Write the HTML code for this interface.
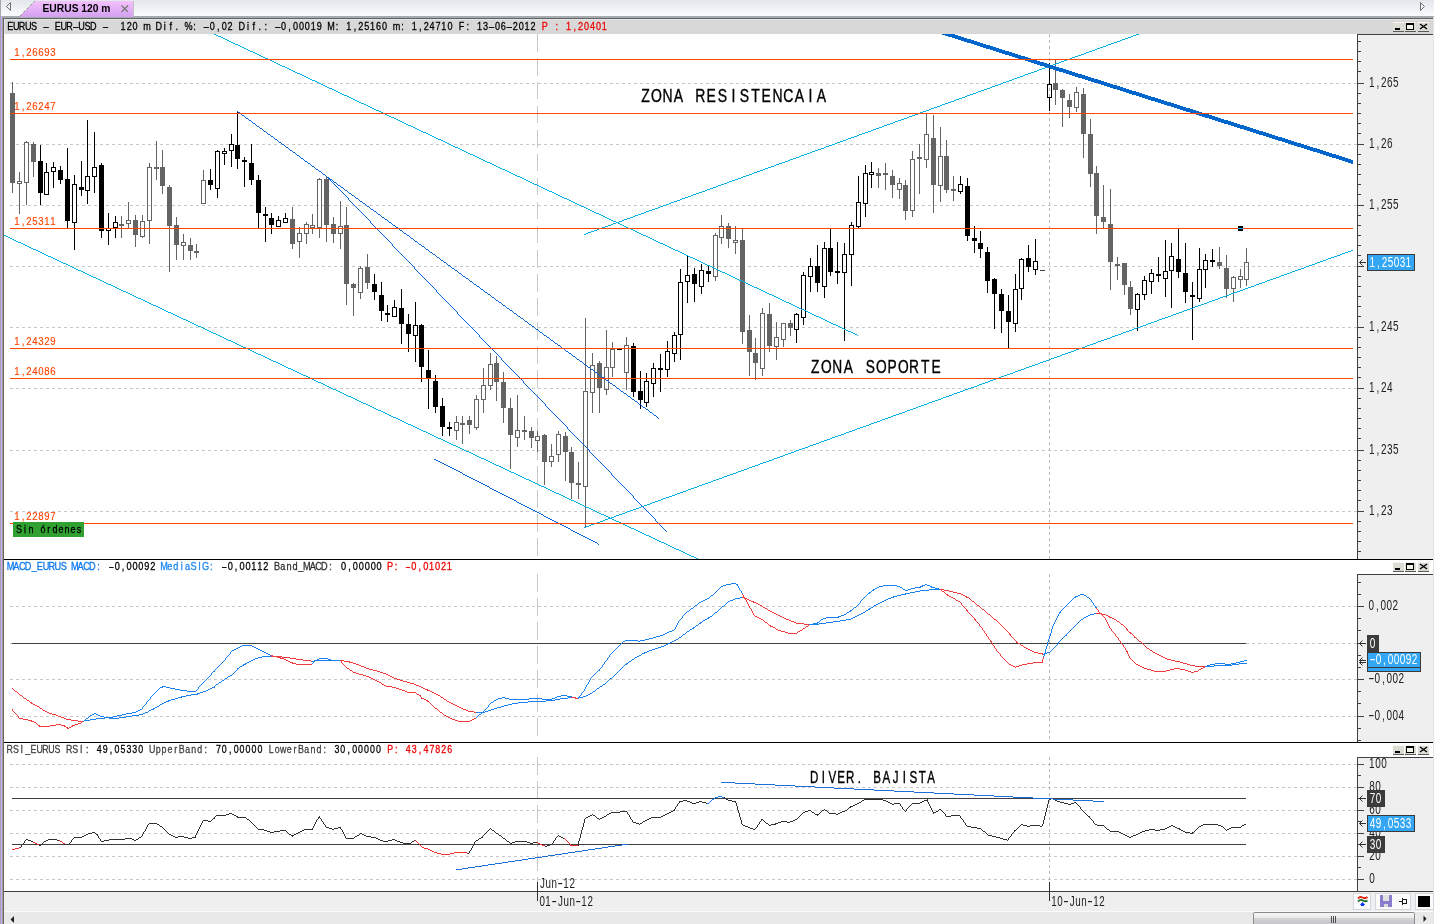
<!DOCTYPE html>
<html><head><meta charset="utf-8"><title>EURUS 120 m</title>
<style>html,body{margin:0;padding:0;background:#efefef;overflow:hidden;width:1434px;height:924px}svg{display:block}</style>
</head><body>
<svg width="1434" height="924" viewBox="0 0 1434 924" shape-rendering="crispEdges">
<defs>
<linearGradient id="tabbar" x1="0" y1="0" x2="0" y2="1"><stop offset="0" stop-color="#e3e7eb"/><stop offset="1" stop-color="#fbfbfc"/></linearGradient>
<linearGradient id="tab" x1="0" y1="0" x2="0" y2="1"><stop offset="0" stop-color="#f3c2fb"/><stop offset="1" stop-color="#d6a2f2"/></linearGradient>
<linearGradient id="thumb" x1="0" y1="0" x2="0" y2="1"><stop offset="0" stop-color="#f8f8f8"/><stop offset="0.5" stop-color="#e8e8e8"/><stop offset="0.52" stop-color="#d4d4d7"/><stop offset="1" stop-color="#c6c6ca"/></linearGradient>
<linearGradient id="btn" x1="0" y1="0" x2="0" y2="1"><stop offset="0" stop-color="#f0f0ea"/><stop offset="1" stop-color="#deded6"/></linearGradient>
<clipPath id="cmain"><rect x="4" y="34" width="1353" height="525"/></clipPath>
<clipPath id="cmacd"><rect x="4" y="574" width="1353" height="168"/></clipPath>
<clipPath id="crsi"><rect x="4" y="757" width="1353" height="134"/></clipPath>
</defs>
<rect x="0" y="0" width="1434" height="924" fill="#efefef"/>
<rect x="0" y="0" width="1434" height="16" fill="url(#tabbar)"/>
<rect x="0" y="16" width="1434" height="2" fill="#a6abaf"/>
<rect x="0" y="0" width="1" height="924" fill="#a2a9ad"/>
<rect x="1" y="16" width="1" height="908" fill="#d0a4fa"/>
<rect x="2" y="17" width="1" height="907" fill="#a0a4a0"/>
<rect x="3" y="18" width="1" height="906" fill="#646464"/>
<rect x="3" y="18" width="1430" height="1" fill="#646464"/>
<rect x="1433" y="17" width="1" height="907" fill="#e2e2e2"/>
<rect x="4" y="19" width="1429" height="15" fill="#d8d8d8"/>
<rect x="4" y="19" width="1429" height="1" fill="#e4e4e4"/>
<rect x="4" y="19" width="1" height="15" fill="#e4e4e4"/>
<rect x="4" y="34" width="1353" height="525" fill="#ffffff"/>
<rect x="1358" y="35" width="75" height="524" fill="#efefef"/>
<rect x="1357" y="34" width="76" height="1" fill="#404040"/>
<rect x="1357" y="34" width="1" height="525" fill="#404040"/>
<rect x="4" y="559" width="1429" height="1" fill="#000000"/>
<rect x="4" y="560" width="1429" height="14" fill="#ffffff"/>
<rect x="4" y="574" width="1353" height="168" fill="#ffffff"/>
<rect x="1358" y="575" width="75" height="167" fill="#efefef"/>
<rect x="1357" y="574" width="76" height="1" fill="#404040"/>
<rect x="1357" y="574" width="1" height="168" fill="#404040"/>
<rect x="4" y="742" width="1429" height="1" fill="#000000"/>
<rect x="4" y="743" width="1429" height="14" fill="#ffffff"/>
<rect x="4" y="757" width="1353" height="134" fill="#ffffff"/>
<rect x="1358" y="758" width="75" height="133" fill="#efefef"/>
<rect x="1357" y="757" width="76" height="1" fill="#404040"/>
<rect x="1357" y="757" width="1" height="134" fill="#404040"/>
<rect x="4" y="891" width="1429" height="1" fill="#404040"/>
<rect x="4" y="892" width="1429" height="19" fill="#efefef"/>
<rect x="4" y="911" width="1429" height="1" fill="#fafafa"/>
<rect x="4" y="912" width="1429" height="12" fill="#e9e9e9"/>
<path d="M20.5 16 L35.5 1 L133.5 1 L133.5 16 Z" fill="url(#tab)" stroke="none"/>
<rect x="20" y="16" width="114" height="1" fill="#d4a0f0"/>
<path d="M20 16 L35.5 0.5" stroke="#6a6a6a" stroke-width="1" fill="none" shape-rendering="auto" stroke-dasharray="1 1"/>
<rect x="133" y="1" width="1" height="15" fill="#c4c4c4"/>
<text x="42.5" y="11.8" font-family="'Liberation Sans','DejaVu Sans',sans-serif" font-size="10.6" fill="#000" font-weight="bold" textLength="68" lengthAdjust="spacingAndGlyphs" xml:space="preserve">EURUS 120 m</text>
<path d="M121.5 5.5 L128 12 M128 5.5 L121.5 12" stroke="#7a7a7a" stroke-width="1.3" fill="none" shape-rendering="auto"/>
<path d="M10.5 2.5 L6.5 6.5 L10.5 10.5 Z" fill="none" stroke="#707070" stroke-width="1" shape-rendering="auto"/>
<path d="M1420.5 2.5 L1424.5 6.5 L1420.5 10.5 Z" fill="none" stroke="#707070" stroke-width="1" shape-rendering="auto"/>
<rect x="1393" y="22" width="11" height="9" fill="#dcdcd5"/>
<rect x="1393" y="22" width="11" height="1" fill="#f6f6f2"/>
<rect x="1393" y="31" width="11" height="1" fill="#5a5a5a"/>
<rect x="1405" y="22" width="11" height="9" fill="#dcdcd5"/>
<rect x="1405" y="22" width="11" height="1" fill="#f6f6f2"/>
<rect x="1405" y="31" width="11" height="1" fill="#5a5a5a"/>
<rect x="1418" y="22" width="11" height="9" fill="#dcdcd5"/>
<rect x="1418" y="22" width="11" height="1" fill="#f6f6f2"/>
<rect x="1418" y="31" width="11" height="1" fill="#5a5a5a"/>
<rect x="1395" y="28" width="5" height="2" fill="#000"/>
<rect x="1406" y="23" width="8" height="7" fill="#f2f2ea"/>
<rect x="1406.5" y="23.5" width="7" height="6" fill="none" stroke="#000" stroke-width="1"/>
<rect x="1406" y="23" width="8" height="2" fill="#000"/>
<path d="M1420 24 L1427 29 M1427 24 L1420 29" stroke="#000" stroke-width="1.4" fill="none" shape-rendering="auto"/>
<rect x="1393" y="562" width="11" height="9" fill="#dcdcd5"/>
<rect x="1393" y="562" width="11" height="1" fill="#f6f6f2"/>
<rect x="1393" y="571" width="11" height="1" fill="#5a5a5a"/>
<rect x="1405" y="562" width="11" height="9" fill="#dcdcd5"/>
<rect x="1405" y="562" width="11" height="1" fill="#f6f6f2"/>
<rect x="1405" y="571" width="11" height="1" fill="#5a5a5a"/>
<rect x="1418" y="562" width="11" height="9" fill="#dcdcd5"/>
<rect x="1418" y="562" width="11" height="1" fill="#f6f6f2"/>
<rect x="1418" y="571" width="11" height="1" fill="#5a5a5a"/>
<rect x="1395" y="568" width="5" height="2" fill="#000"/>
<rect x="1406" y="563" width="8" height="7" fill="#f2f2ea"/>
<rect x="1406.5" y="563.5" width="7" height="6" fill="none" stroke="#000" stroke-width="1"/>
<rect x="1406" y="563" width="8" height="2" fill="#000"/>
<path d="M1420 564 L1427 569 M1427 564 L1420 569" stroke="#000" stroke-width="1.4" fill="none" shape-rendering="auto"/>
<rect x="1393" y="745" width="11" height="9" fill="#dcdcd5"/>
<rect x="1393" y="745" width="11" height="1" fill="#f6f6f2"/>
<rect x="1393" y="754" width="11" height="1" fill="#5a5a5a"/>
<rect x="1405" y="745" width="11" height="9" fill="#dcdcd5"/>
<rect x="1405" y="745" width="11" height="1" fill="#f6f6f2"/>
<rect x="1405" y="754" width="11" height="1" fill="#5a5a5a"/>
<rect x="1418" y="745" width="11" height="9" fill="#dcdcd5"/>
<rect x="1418" y="745" width="11" height="1" fill="#f6f6f2"/>
<rect x="1418" y="754" width="11" height="1" fill="#5a5a5a"/>
<rect x="1395" y="751" width="5" height="2" fill="#000"/>
<rect x="1406" y="746" width="8" height="7" fill="#f2f2ea"/>
<rect x="1406.5" y="746.5" width="7" height="6" fill="none" stroke="#000" stroke-width="1"/>
<rect x="1406" y="746" width="8" height="2" fill="#000"/>
<path d="M1420 747 L1427 752 M1427 747 L1420 752" stroke="#000" stroke-width="1.4" fill="none" shape-rendering="auto"/>
<text transform="scale(0.8,1)" x="8.96 16.29 23.52 31.14 38.88 48.51 53.43 63.36 68.36 75.69 82.92 90.56 97.97 105.71 112.63 122.76 127.68 137.61 145.04 150.73 158.31 165.73 174.74 179.01 189.59 194.30 204.76 211.77 219.29 226.71 230.67 241.56 248.99 253.91 262.26 271.26 277.11 284.53 293.54 298.25 308.71 315.72 323.24 330.66 338.09 343.01 351.36 360.36 366.21 373.63 381.06 388.33 395.91 404.91 409.19 419.76 427.19 432.88 442.04 447.88 455.32 462.58 470.12 477.58 486.59 490.86 501.44 508.86 514.55 523.71 529.56 537.02 544.40 551.68 559.26 568.26 573.56 583.11 590.54 596.23 603.84 610.31 618.66 626.05 632.58 640.93 648.36 655.63 663.21 672.21" y="30" font-family="'Liberation Sans','DejaVu Sans',sans-serif" font-size="11.34" fill="#000" font-weight="normal" xml:space="preserve" stroke="#000" stroke-width="0.3">EURUS <tspan textLength="8.19" lengthAdjust="spacingAndGlyphs">-</tspan> EUR<tspan textLength="8.19" lengthAdjust="spacingAndGlyphs">-</tspan>USD <tspan textLength="8.19" lengthAdjust="spacingAndGlyphs">-</tspan>  120 m Dif. %: <tspan textLength="8.19" lengthAdjust="spacingAndGlyphs">-</tspan>0,02 Dif.: <tspan textLength="8.19" lengthAdjust="spacingAndGlyphs">-</tspan>0,00019 M: 1,25160 m: 1,24710 F: 13<tspan textLength="8.19" lengthAdjust="spacingAndGlyphs">-</tspan>06<tspan textLength="8.19" lengthAdjust="spacingAndGlyphs">-</tspan>2012 </text>
<text transform="scale(0.8,1)" x="677.27 687.06 694.49 701.91 707.60 716.76 722.61 730.03 737.50 744.88 752.15" y="30" font-family="'Liberation Sans','DejaVu Sans',sans-serif" font-size="11.34" fill="#f00000" font-weight="normal" xml:space="preserve" stroke="#f00000" stroke-width="0.3">P : 1,20401</text>
<text transform="scale(0.8,1)" x="8.30 16.66 23.69 30.98 39.56 46.09 53.41 60.62 68.24 75.97" y="570" font-family="'Liberation Sans','DejaVu Sans',sans-serif" font-size="11.48" fill="#0a78f0" font-weight="normal" xml:space="preserve" stroke="#0a78f0" stroke-width="0.3">MACD_EURUS</text>
<text transform="scale(0.8,1)" x="88.67 97.04 104.06 111.35 121.51" y="570" font-family="'Liberation Sans','DejaVu Sans',sans-serif" font-size="11.48" fill="#0a78f0" font-weight="normal" xml:space="preserve" stroke="#0a78f0" stroke-width="0.3">MACD:</text>
<text transform="scale(0.8,1)" x="135.68 143.30 152.31 158.13 165.54 172.95 180.37 187.78" y="570" font-family="'Liberation Sans','DejaVu Sans',sans-serif" font-size="11.48" fill="#000" font-weight="normal" xml:space="preserve" stroke="#000" stroke-width="0.3"><tspan textLength="6.82" lengthAdjust="spacingAndGlyphs">-</tspan>0,00092</text>
<text transform="scale(0.8,1)" x="200.17 209.19 216.72 225.92 231.17 238.19 247.84 252.52 262.66" y="570" font-family="'Liberation Sans','DejaVu Sans',sans-serif" font-size="11.48" fill="#1a86f5" font-weight="normal" xml:space="preserve" stroke="#1a86f5" stroke-width="0.3">MediaSIG:</text>
<text transform="scale(0.8,1)" x="276.93 284.55 293.56 299.38 306.79 314.04 321.46 329.03" y="570" font-family="'Liberation Sans','DejaVu Sans',sans-serif" font-size="11.48" fill="#000" font-weight="normal" xml:space="preserve" stroke="#000" stroke-width="0.3"><tspan textLength="6.82" lengthAdjust="spacingAndGlyphs">-</tspan>0,00112</text>
<text transform="scale(0.8,1)" x="342.46 350.43 358.08 365.63 372.94 378.74 387.10 394.12 401.41 411.57" y="570" font-family="'Liberation Sans','DejaVu Sans',sans-serif" font-size="11.48" fill="#303030" font-weight="normal" xml:space="preserve" stroke="#303030" stroke-width="0.3">Band_MACD:</text>
<text transform="scale(0.8,1)" x="426.26 435.27 441.09 448.50 455.91 463.33 470.74" y="570" font-family="'Liberation Sans','DejaVu Sans',sans-serif" font-size="11.48" fill="#000" font-weight="normal" xml:space="preserve" stroke="#000" stroke-width="0.3">0,00000</text>
<text transform="scale(0.8,1)" x="483.71 493.52 500.94 506.54 514.16 523.17 528.99 536.24 543.81 551.23 558.48" y="570" font-family="'Liberation Sans','DejaVu Sans',sans-serif" font-size="11.48" fill="#f00000" font-weight="normal" xml:space="preserve" stroke="#f00000" stroke-width="0.3">P: <tspan textLength="6.82" lengthAdjust="spacingAndGlyphs">-</tspan>0,01021</text>
<text transform="scale(0.8,1)" x="8.27 16.19 25.75 31.64 38.21 45.53 52.75 60.36 68.07" y="753" font-family="'Liberation Sans','DejaVu Sans',sans-serif" font-size="11.05" fill="#404040" font-weight="normal" xml:space="preserve" stroke="#404040" stroke-width="0.3">RSI_EURUS</text>
<text transform="scale(0.8,1)" x="82.52 90.44 100.00 107.41" y="753" font-family="'Liberation Sans','DejaVu Sans',sans-serif" font-size="11.05" fill="#404040" font-weight="normal" xml:space="preserve" stroke="#404040" stroke-width="0.3">RSI:</text>
<text transform="scale(0.8,1)" x="120.92 128.30 137.25 143.12 150.55 157.98 165.39 172.77" y="753" font-family="'Liberation Sans','DejaVu Sans',sans-serif" font-size="11.05" fill="#000" font-weight="normal" xml:space="preserve" stroke="#000" stroke-width="0.3">49,05330</text>
<text transform="scale(0.8,1)" x="186.34 194.55 201.96 209.51 217.87 223.55 231.50 239.14 246.68 255.51" y="753" font-family="'Liberation Sans','DejaVu Sans',sans-serif" font-size="11.05" fill="#404040" font-weight="normal" xml:space="preserve" stroke="#404040" stroke-width="0.3">UpperBand:</text>
<text transform="scale(0.8,1)" x="269.88 277.30 286.25 292.12 299.53 306.95 314.36 321.77" y="753" font-family="'Liberation Sans','DejaVu Sans',sans-serif" font-size="11.05" fill="#000" font-weight="normal" xml:space="preserve" stroke="#000" stroke-width="0.3">70,00000</text>
<text transform="scale(0.8,1)" x="335.86 343.55 350.04 358.38 366.74 372.42 380.37 388.01 395.56 404.38" y="753" font-family="'Liberation Sans','DejaVu Sans',sans-serif" font-size="11.05" fill="#404040" font-weight="normal" xml:space="preserve" stroke="#404040" stroke-width="0.3">LowerBand:</text>
<text transform="scale(0.8,1)" x="418.04 425.42 434.37 440.25 447.66 455.07 462.48 469.90" y="753" font-family="'Liberation Sans','DejaVu Sans',sans-serif" font-size="11.05" fill="#000" font-weight="normal" xml:space="preserve" stroke="#000" stroke-width="0.3">30,00000</text>
<text transform="scale(0.8,1)" x="484.11 493.83 501.25 507.16 514.57 523.48 529.39 536.77 544.18 551.60 558.97" y="753" font-family="'Liberation Sans','DejaVu Sans',sans-serif" font-size="11.05" fill="#f00000" font-weight="normal" xml:space="preserve" stroke="#f00000" stroke-width="0.3">P: 43,47826</text>
<line x1="10" y1="83.5" x2="1357" y2="83.5" stroke="#c8c8c8" stroke-width="1" stroke-dasharray="3 3"/>
<line x1="10" y1="144.5" x2="1357" y2="144.5" stroke="#c8c8c8" stroke-width="1" stroke-dasharray="3 3"/>
<line x1="10" y1="205.5" x2="1357" y2="205.5" stroke="#c8c8c8" stroke-width="1" stroke-dasharray="3 3"/>
<line x1="10" y1="266.5" x2="1357" y2="266.5" stroke="#c8c8c8" stroke-width="1" stroke-dasharray="3 3"/>
<line x1="10" y1="327.5" x2="1357" y2="327.5" stroke="#c8c8c8" stroke-width="1" stroke-dasharray="3 3"/>
<line x1="10" y1="388.5" x2="1357" y2="388.5" stroke="#c8c8c8" stroke-width="1" stroke-dasharray="3 3"/>
<line x1="10" y1="450.5" x2="1357" y2="450.5" stroke="#c8c8c8" stroke-width="1" stroke-dasharray="3 3"/>
<line x1="10" y1="511.5" x2="1357" y2="511.5" stroke="#c8c8c8" stroke-width="1" stroke-dasharray="3 3"/>
<line x1="10" y1="606.5" x2="1357" y2="606.5" stroke="#c8c8c8" stroke-width="1" stroke-dasharray="3 3"/>
<line x1="10" y1="643.5" x2="1357" y2="643.5" stroke="#c8c8c8" stroke-width="1" stroke-dasharray="3 3"/>
<line x1="10" y1="679.5" x2="1357" y2="679.5" stroke="#c8c8c8" stroke-width="1" stroke-dasharray="3 3"/>
<line x1="10" y1="716.5" x2="1357" y2="716.5" stroke="#c8c8c8" stroke-width="1" stroke-dasharray="3 3"/>
<line x1="10" y1="764.5" x2="1357" y2="764.5" stroke="#c8c8c8" stroke-width="1" stroke-dasharray="3 3"/>
<line x1="10" y1="787.5" x2="1357" y2="787.5" stroke="#c8c8c8" stroke-width="1" stroke-dasharray="3 3"/>
<line x1="10" y1="810.5" x2="1357" y2="810.5" stroke="#c8c8c8" stroke-width="1" stroke-dasharray="3 3"/>
<line x1="10" y1="833.5" x2="1357" y2="833.5" stroke="#c8c8c8" stroke-width="1" stroke-dasharray="3 3"/>
<line x1="10" y1="856.5" x2="1357" y2="856.5" stroke="#c8c8c8" stroke-width="1" stroke-dasharray="3 3"/>
<line x1="10" y1="879.5" x2="1357" y2="879.5" stroke="#c8c8c8" stroke-width="1" stroke-dasharray="3 3"/>
<line x1="537.5" y1="34" x2="537.5" y2="559" stroke="#c8c8c8" stroke-width="1" stroke-dasharray="17.5 6.5" stroke-dashoffset="0"/>
<line x1="1049.5" y1="34" x2="1049.5" y2="559" stroke="#b8b8b8" stroke-width="1" stroke-dasharray="3 3" stroke-dashoffset="0"/>
<line x1="537.5" y1="574" x2="537.5" y2="742" stroke="#c8c8c8" stroke-width="1" stroke-dasharray="17.5 6.5" stroke-dashoffset="0"/>
<line x1="1049.5" y1="574" x2="1049.5" y2="742" stroke="#b8b8b8" stroke-width="1" stroke-dasharray="3 3" stroke-dashoffset="0"/>
<line x1="537.5" y1="757" x2="537.5" y2="891" stroke="#c8c8c8" stroke-width="1" stroke-dasharray="17.5 6.5" stroke-dashoffset="0"/>
<line x1="1049.5" y1="757" x2="1049.5" y2="891" stroke="#b8b8b8" stroke-width="1" stroke-dasharray="3 3" stroke-dashoffset="0"/>
<g clip-path="url(#cmain)">
<rect x="12" y="82" width="1" height="111" fill="#646464"/>
<rect x="10" y="93" width="5" height="90" fill="#646464"/>
<rect x="19" y="172" width="1" height="9" fill="#646464"/>
<rect x="19" y="184" width="1" height="30" fill="#646464"/>
<rect x="17.5" y="181.5" width="4" height="2" fill="none" stroke="#646464" stroke-width="1"/>
<rect x="26" y="141" width="1" height="1" fill="#646464"/>
<rect x="26" y="183" width="1" height="22" fill="#646464"/>
<rect x="24.5" y="142.5" width="4" height="40" fill="none" stroke="#646464" stroke-width="1"/>
<rect x="33" y="142" width="1" height="35" fill="#646464"/>
<rect x="31" y="144" width="5" height="18" fill="#646464"/>
<rect x="40" y="145" width="1" height="60" fill="#000000"/>
<rect x="38" y="161" width="5" height="32" fill="#000000"/>
<rect x="46" y="163" width="1" height="9" fill="#000000"/>
<rect x="44.5" y="172.5" width="4" height="22" fill="none" stroke="#000000" stroke-width="1"/>
<rect x="53" y="162" width="1" height="5" fill="#000000"/>
<rect x="53" y="172" width="1" height="16" fill="#000000"/>
<rect x="51.5" y="167.5" width="4" height="4" fill="none" stroke="#000000" stroke-width="1"/>
<rect x="60" y="166" width="1" height="18" fill="#000000"/>
<rect x="58" y="170" width="5" height="10" fill="#000000"/>
<rect x="67" y="148" width="1" height="80" fill="#000000"/>
<rect x="65" y="179" width="5" height="42" fill="#000000"/>
<rect x="74" y="175" width="1" height="9" fill="#000000"/>
<rect x="74" y="223" width="1" height="27" fill="#000000"/>
<rect x="72.5" y="184.5" width="4" height="38" fill="none" stroke="#000000" stroke-width="1"/>
<rect x="81" y="161" width="1" height="35" fill="#000000"/>
<rect x="79" y="187" width="5" height="3" fill="#000000"/>
<rect x="87" y="120" width="1" height="56" fill="#000000"/>
<rect x="87" y="191" width="1" height="13" fill="#000000"/>
<rect x="85.5" y="176.5" width="4" height="14" fill="none" stroke="#000000" stroke-width="1"/>
<rect x="94" y="132" width="1" height="35" fill="#000000"/>
<rect x="94" y="177" width="1" height="16" fill="#000000"/>
<rect x="92.5" y="167.5" width="4" height="9" fill="none" stroke="#000000" stroke-width="1"/>
<rect x="101" y="163" width="1" height="75" fill="#000000"/>
<rect x="99" y="165" width="5" height="66" fill="#000000"/>
<rect x="108" y="213" width="1" height="15" fill="#000000"/>
<rect x="108" y="231" width="1" height="14" fill="#000000"/>
<rect x="106.5" y="228.5" width="4" height="2" fill="none" stroke="#000000" stroke-width="1"/>
<rect x="115" y="216" width="1" height="6" fill="#000000"/>
<rect x="115" y="228" width="1" height="10" fill="#000000"/>
<rect x="113.5" y="222.5" width="4" height="5" fill="none" stroke="#000000" stroke-width="1"/>
<rect x="121" y="216" width="1" height="22" fill="#646464"/>
<rect x="119" y="224" width="5" height="2" fill="#646464"/>
<rect x="128" y="202" width="1" height="18" fill="#646464"/>
<rect x="128" y="224" width="1" height="4" fill="#646464"/>
<rect x="126.5" y="220.5" width="4" height="3" fill="none" stroke="#646464" stroke-width="1"/>
<rect x="135" y="215" width="1" height="32" fill="#646464"/>
<rect x="133" y="220" width="5" height="15" fill="#646464"/>
<rect x="142" y="215" width="1" height="6" fill="#646464"/>
<rect x="142" y="237" width="1" height="1" fill="#646464"/>
<rect x="140.5" y="221.5" width="4" height="15" fill="none" stroke="#646464" stroke-width="1"/>
<rect x="149" y="163" width="1" height="4" fill="#646464"/>
<rect x="149" y="221" width="1" height="23" fill="#646464"/>
<rect x="147.5" y="167.5" width="4" height="53" fill="none" stroke="#646464" stroke-width="1"/>
<rect x="156" y="141" width="1" height="39" fill="#646464"/>
<rect x="154" y="167" width="5" height="2" fill="#646464"/>
<rect x="162" y="150" width="1" height="44" fill="#646464"/>
<rect x="160" y="167" width="5" height="19" fill="#646464"/>
<rect x="169" y="185" width="1" height="87" fill="#646464"/>
<rect x="167" y="187" width="5" height="39" fill="#646464"/>
<rect x="176" y="217" width="1" height="43" fill="#646464"/>
<rect x="174" y="225" width="5" height="20" fill="#646464"/>
<rect x="183" y="234" width="1" height="8" fill="#646464"/>
<rect x="183" y="246" width="1" height="14" fill="#646464"/>
<rect x="181.5" y="242.5" width="4" height="3" fill="none" stroke="#646464" stroke-width="1"/>
<rect x="190" y="238" width="1" height="22" fill="#646464"/>
<rect x="188" y="245" width="5" height="6" fill="#646464"/>
<rect x="196" y="244" width="1" height="14" fill="#646464"/>
<rect x="194" y="251" width="5" height="2" fill="#646464"/>
<rect x="203" y="170" width="1" height="10" fill="#646464"/>
<rect x="201.5" y="180.5" width="4" height="23" fill="none" stroke="#646464" stroke-width="1"/>
<rect x="210" y="169" width="1" height="21" fill="#000000"/>
<rect x="208" y="180" width="5" height="5" fill="#000000"/>
<rect x="217" y="150" width="1" height="1" fill="#000000"/>
<rect x="217" y="189" width="1" height="9" fill="#000000"/>
<rect x="215.5" y="151.5" width="4" height="37" fill="none" stroke="#000000" stroke-width="1"/>
<rect x="224" y="148" width="1" height="3" fill="#000000"/>
<rect x="224" y="154" width="1" height="11" fill="#000000"/>
<rect x="222.5" y="151.5" width="4" height="2" fill="none" stroke="#000000" stroke-width="1"/>
<rect x="231" y="134" width="1" height="10" fill="#000000"/>
<rect x="231" y="151" width="1" height="16" fill="#000000"/>
<rect x="229.5" y="144.5" width="4" height="6" fill="none" stroke="#000000" stroke-width="1"/>
<rect x="237" y="112" width="1" height="57" fill="#000000"/>
<rect x="235" y="145" width="5" height="14" fill="#000000"/>
<rect x="244" y="157" width="1" height="30" fill="#000000"/>
<rect x="242" y="160" width="5" height="2" fill="#000000"/>
<rect x="251" y="144" width="1" height="41" fill="#000000"/>
<rect x="249" y="163" width="5" height="17" fill="#000000"/>
<rect x="258" y="175" width="1" height="53" fill="#000000"/>
<rect x="256" y="180" width="5" height="33" fill="#000000"/>
<rect x="265" y="207" width="1" height="35" fill="#000000"/>
<rect x="263" y="214" width="5" height="2" fill="#000000"/>
<rect x="271" y="213" width="1" height="21" fill="#000000"/>
<rect x="269" y="218" width="5" height="7" fill="#000000"/>
<rect x="278" y="216" width="1" height="4" fill="#000000"/>
<rect x="276.5" y="220.5" width="4" height="6" fill="none" stroke="#000000" stroke-width="1"/>
<rect x="285" y="213" width="1" height="5" fill="#000000"/>
<rect x="283.5" y="218.5" width="4" height="4" fill="none" stroke="#000000" stroke-width="1"/>
<rect x="292" y="207" width="1" height="42" fill="#646464"/>
<rect x="290" y="219" width="5" height="25" fill="#646464"/>
<rect x="299" y="227" width="1" height="6" fill="#646464"/>
<rect x="299" y="242" width="1" height="16" fill="#646464"/>
<rect x="297.5" y="233.5" width="4" height="8" fill="none" stroke="#646464" stroke-width="1"/>
<rect x="306" y="222" width="1" height="2" fill="#646464"/>
<rect x="306" y="234" width="1" height="10" fill="#646464"/>
<rect x="304.5" y="224.5" width="4" height="9" fill="none" stroke="#646464" stroke-width="1"/>
<rect x="312" y="214" width="1" height="11" fill="#646464"/>
<rect x="312" y="228" width="1" height="6" fill="#646464"/>
<rect x="310.5" y="225.5" width="4" height="2" fill="none" stroke="#646464" stroke-width="1"/>
<rect x="319" y="178" width="1" height="1" fill="#646464"/>
<rect x="319" y="228" width="1" height="10" fill="#646464"/>
<rect x="317.5" y="179.5" width="4" height="48" fill="none" stroke="#646464" stroke-width="1"/>
<rect x="326" y="176" width="1" height="66" fill="#646464"/>
<rect x="324" y="179" width="5" height="46" fill="#646464"/>
<rect x="333" y="217" width="1" height="26" fill="#646464"/>
<rect x="331" y="224" width="5" height="10" fill="#646464"/>
<rect x="340" y="201" width="1" height="25" fill="#646464"/>
<rect x="340" y="234" width="1" height="15" fill="#646464"/>
<rect x="338.5" y="226.5" width="4" height="7" fill="none" stroke="#646464" stroke-width="1"/>
<rect x="346" y="207" width="1" height="98" fill="#646464"/>
<rect x="344" y="225" width="5" height="59" fill="#646464"/>
<rect x="353" y="283" width="1" height="33" fill="#646464"/>
<rect x="351" y="284" width="5" height="4" fill="#646464"/>
<rect x="360" y="266" width="1" height="2" fill="#646464"/>
<rect x="360" y="293" width="1" height="6" fill="#646464"/>
<rect x="358.5" y="268.5" width="4" height="24" fill="none" stroke="#646464" stroke-width="1"/>
<rect x="367" y="254" width="1" height="35" fill="#646464"/>
<rect x="365" y="267" width="5" height="16" fill="#646464"/>
<rect x="374" y="274" width="1" height="26" fill="#000000"/>
<rect x="372" y="284" width="5" height="8" fill="#000000"/>
<rect x="381" y="282" width="1" height="39" fill="#000000"/>
<rect x="379" y="295" width="5" height="16" fill="#000000"/>
<rect x="387" y="305" width="1" height="17" fill="#000000"/>
<rect x="385" y="313" width="5" height="2" fill="#000000"/>
<rect x="394" y="300" width="1" height="7" fill="#000000"/>
<rect x="392.5" y="307.5" width="4" height="9" fill="none" stroke="#000000" stroke-width="1"/>
<rect x="401" y="289" width="1" height="55" fill="#000000"/>
<rect x="399" y="308" width="5" height="16" fill="#000000"/>
<rect x="408" y="314" width="1" height="38" fill="#000000"/>
<rect x="406" y="324" width="5" height="10" fill="#000000"/>
<rect x="415" y="302" width="1" height="23" fill="#000000"/>
<rect x="415" y="336" width="1" height="26" fill="#000000"/>
<rect x="413.5" y="325.5" width="4" height="10" fill="none" stroke="#000000" stroke-width="1"/>
<rect x="421" y="324" width="1" height="58" fill="#000000"/>
<rect x="419" y="325" width="5" height="42" fill="#000000"/>
<rect x="428" y="350" width="1" height="59" fill="#000000"/>
<rect x="426" y="370" width="5" height="9" fill="#000000"/>
<rect x="435" y="375" width="1" height="38" fill="#000000"/>
<rect x="433" y="381" width="5" height="26" fill="#000000"/>
<rect x="442" y="398" width="1" height="38" fill="#000000"/>
<rect x="440" y="406" width="5" height="21" fill="#000000"/>
<rect x="449" y="422" width="1" height="14" fill="#000000"/>
<rect x="447" y="427" width="5" height="2" fill="#000000"/>
<rect x="456" y="416" width="1" height="6" fill="#646464"/>
<rect x="456" y="431" width="1" height="9" fill="#646464"/>
<rect x="454.5" y="422.5" width="4" height="8" fill="none" stroke="#646464" stroke-width="1"/>
<rect x="462" y="416" width="1" height="28" fill="#646464"/>
<rect x="460" y="423" width="5" height="2" fill="#646464"/>
<rect x="469" y="416" width="1" height="18" fill="#646464"/>
<rect x="467" y="420" width="5" height="5" fill="#646464"/>
<rect x="476" y="395" width="1" height="4" fill="#646464"/>
<rect x="476" y="428" width="1" height="2" fill="#646464"/>
<rect x="474.5" y="399.5" width="4" height="28" fill="none" stroke="#646464" stroke-width="1"/>
<rect x="483" y="368" width="1" height="17" fill="#646464"/>
<rect x="483" y="400" width="1" height="13" fill="#646464"/>
<rect x="481.5" y="385.5" width="4" height="14" fill="none" stroke="#646464" stroke-width="1"/>
<rect x="490" y="353" width="1" height="11" fill="#646464"/>
<rect x="490" y="386" width="1" height="4" fill="#646464"/>
<rect x="488.5" y="364.5" width="4" height="21" fill="none" stroke="#646464" stroke-width="1"/>
<rect x="496" y="356" width="1" height="45" fill="#646464"/>
<rect x="494" y="363" width="5" height="19" fill="#646464"/>
<rect x="503" y="372" width="1" height="51" fill="#646464"/>
<rect x="501" y="382" width="5" height="26" fill="#646464"/>
<rect x="510" y="398" width="1" height="71" fill="#646464"/>
<rect x="508" y="408" width="5" height="27" fill="#646464"/>
<rect x="517" y="395" width="1" height="35" fill="#646464"/>
<rect x="517" y="438" width="1" height="9" fill="#646464"/>
<rect x="515.5" y="430.5" width="4" height="7" fill="none" stroke="#646464" stroke-width="1"/>
<rect x="524" y="416" width="1" height="24" fill="#646464"/>
<rect x="522" y="430" width="5" height="2" fill="#646464"/>
<rect x="531" y="427" width="1" height="21" fill="#646464"/>
<rect x="529" y="431" width="5" height="7" fill="#646464"/>
<rect x="537" y="431" width="1" height="5" fill="#646464"/>
<rect x="537" y="441" width="1" height="11" fill="#646464"/>
<rect x="535.5" y="436.5" width="4" height="4" fill="none" stroke="#646464" stroke-width="1"/>
<rect x="544" y="434" width="1" height="51" fill="#646464"/>
<rect x="542" y="435" width="5" height="27" fill="#646464"/>
<rect x="551" y="444" width="1" height="12" fill="#646464"/>
<rect x="551" y="462" width="1" height="5" fill="#646464"/>
<rect x="549.5" y="456.5" width="4" height="5" fill="none" stroke="#646464" stroke-width="1"/>
<rect x="558" y="431" width="1" height="3" fill="#646464"/>
<rect x="558" y="455" width="1" height="7" fill="#646464"/>
<rect x="556.5" y="434.5" width="4" height="20" fill="none" stroke="#646464" stroke-width="1"/>
<rect x="565" y="432" width="1" height="49" fill="#646464"/>
<rect x="563" y="436" width="5" height="16" fill="#646464"/>
<rect x="571" y="447" width="1" height="52" fill="#646464"/>
<rect x="569" y="452" width="5" height="31" fill="#646464"/>
<rect x="578" y="462" width="1" height="37" fill="#646464"/>
<rect x="576" y="483" width="5" height="2" fill="#646464"/>
<rect x="585" y="318" width="1" height="73" fill="#646464"/>
<rect x="585" y="487" width="1" height="41" fill="#646464"/>
<rect x="583.5" y="391.5" width="4" height="95" fill="none" stroke="#646464" stroke-width="1"/>
<rect x="592" y="353" width="1" height="12" fill="#646464"/>
<rect x="592" y="393" width="1" height="20" fill="#646464"/>
<rect x="590.5" y="365.5" width="4" height="27" fill="none" stroke="#646464" stroke-width="1"/>
<rect x="599" y="361" width="1" height="52" fill="#646464"/>
<rect x="597" y="363" width="5" height="25" fill="#646464"/>
<rect x="606" y="330" width="1" height="37" fill="#646464"/>
<rect x="606" y="390" width="1" height="5" fill="#646464"/>
<rect x="604.5" y="367.5" width="4" height="22" fill="none" stroke="#646464" stroke-width="1"/>
<rect x="612" y="342" width="1" height="7" fill="#646464"/>
<rect x="612" y="368" width="1" height="9" fill="#646464"/>
<rect x="610.5" y="349.5" width="4" height="18" fill="none" stroke="#646464" stroke-width="1"/>
<rect x="619" y="348" width="1" height="2" fill="#000000"/>
<rect x="617" y="348" width="5" height="2" fill="#000000"/>
<rect x="626" y="337" width="1" height="8" fill="#646464"/>
<rect x="626" y="373" width="1" height="17" fill="#646464"/>
<rect x="624.5" y="345.5" width="4" height="27" fill="none" stroke="#646464" stroke-width="1"/>
<rect x="633" y="343" width="1" height="54" fill="#000000"/>
<rect x="631" y="346" width="5" height="46" fill="#000000"/>
<rect x="640" y="371" width="1" height="38" fill="#000000"/>
<rect x="638" y="391" width="5" height="9" fill="#000000"/>
<rect x="646" y="373" width="1" height="8" fill="#000000"/>
<rect x="646" y="403" width="1" height="4" fill="#000000"/>
<rect x="644.5" y="381.5" width="4" height="21" fill="none" stroke="#000000" stroke-width="1"/>
<rect x="653" y="363" width="1" height="5" fill="#000000"/>
<rect x="653" y="384" width="1" height="13" fill="#000000"/>
<rect x="651.5" y="368.5" width="4" height="15" fill="none" stroke="#000000" stroke-width="1"/>
<rect x="660" y="354" width="1" height="38" fill="#000000"/>
<rect x="658" y="368" width="5" height="2" fill="#000000"/>
<rect x="667" y="341" width="1" height="10" fill="#000000"/>
<rect x="667" y="370" width="1" height="7" fill="#000000"/>
<rect x="665.5" y="351.5" width="4" height="18" fill="none" stroke="#000000" stroke-width="1"/>
<rect x="674" y="332" width="1" height="3" fill="#000000"/>
<rect x="674" y="354" width="1" height="8" fill="#000000"/>
<rect x="672.5" y="335.5" width="4" height="18" fill="none" stroke="#000000" stroke-width="1"/>
<rect x="680" y="269" width="1" height="13" fill="#000000"/>
<rect x="680" y="335" width="1" height="25" fill="#000000"/>
<rect x="678.5" y="282.5" width="4" height="52" fill="none" stroke="#000000" stroke-width="1"/>
<rect x="687" y="256" width="1" height="19" fill="#000000"/>
<rect x="687" y="282" width="1" height="21" fill="#000000"/>
<rect x="685.5" y="275.5" width="4" height="6" fill="none" stroke="#000000" stroke-width="1"/>
<rect x="694" y="268" width="1" height="34" fill="#000000"/>
<rect x="692" y="274" width="5" height="10" fill="#000000"/>
<rect x="701" y="264" width="1" height="6" fill="#000000"/>
<rect x="701" y="287" width="1" height="7" fill="#000000"/>
<rect x="699.5" y="270.5" width="4" height="16" fill="none" stroke="#000000" stroke-width="1"/>
<rect x="708" y="266" width="1" height="16" fill="#000000"/>
<rect x="706" y="271" width="5" height="3" fill="#000000"/>
<rect x="715" y="233" width="1" height="2" fill="#646464"/>
<rect x="715" y="277" width="1" height="4" fill="#646464"/>
<rect x="713.5" y="235.5" width="4" height="41" fill="none" stroke="#646464" stroke-width="1"/>
<rect x="721" y="215" width="1" height="11" fill="#646464"/>
<rect x="721" y="238" width="1" height="6" fill="#646464"/>
<rect x="719.5" y="226.5" width="4" height="11" fill="none" stroke="#646464" stroke-width="1"/>
<rect x="728" y="223" width="1" height="25" fill="#646464"/>
<rect x="726" y="226" width="5" height="13" fill="#646464"/>
<rect x="735" y="226" width="1" height="14" fill="#646464"/>
<rect x="735" y="243" width="1" height="11" fill="#646464"/>
<rect x="733.5" y="240.5" width="4" height="2" fill="none" stroke="#646464" stroke-width="1"/>
<rect x="742" y="229" width="1" height="115" fill="#646464"/>
<rect x="740" y="240" width="5" height="92" fill="#646464"/>
<rect x="749" y="315" width="1" height="61" fill="#646464"/>
<rect x="747" y="330" width="5" height="22" fill="#646464"/>
<rect x="755" y="338" width="1" height="42" fill="#646464"/>
<rect x="753" y="353" width="5" height="10" fill="#646464"/>
<rect x="762" y="308" width="1" height="5" fill="#646464"/>
<rect x="762" y="369" width="1" height="7" fill="#646464"/>
<rect x="760.5" y="313.5" width="4" height="55" fill="none" stroke="#646464" stroke-width="1"/>
<rect x="769" y="303" width="1" height="49" fill="#646464"/>
<rect x="767" y="314" width="5" height="32" fill="#646464"/>
<rect x="776" y="322" width="1" height="15" fill="#646464"/>
<rect x="776" y="347" width="1" height="13" fill="#646464"/>
<rect x="774.5" y="337.5" width="4" height="9" fill="none" stroke="#646464" stroke-width="1"/>
<rect x="783" y="340" width="1" height="7" fill="#646464"/>
<rect x="781.5" y="323.5" width="4" height="16" fill="none" stroke="#646464" stroke-width="1"/>
<rect x="790" y="320" width="1" height="16" fill="#646464"/>
<rect x="788" y="323" width="5" height="5" fill="#646464"/>
<rect x="796" y="313" width="1" height="1" fill="#000000"/>
<rect x="796" y="330" width="1" height="13" fill="#000000"/>
<rect x="794.5" y="314.5" width="4" height="15" fill="none" stroke="#000000" stroke-width="1"/>
<rect x="803" y="272" width="1" height="3" fill="#000000"/>
<rect x="803" y="318" width="1" height="7" fill="#000000"/>
<rect x="801.5" y="275.5" width="4" height="42" fill="none" stroke="#000000" stroke-width="1"/>
<rect x="810" y="258" width="1" height="8" fill="#000000"/>
<rect x="810" y="277" width="1" height="15" fill="#000000"/>
<rect x="808.5" y="266.5" width="4" height="10" fill="none" stroke="#000000" stroke-width="1"/>
<rect x="817" y="245" width="1" height="47" fill="#000000"/>
<rect x="815" y="266" width="5" height="17" fill="#000000"/>
<rect x="824" y="242" width="1" height="6" fill="#000000"/>
<rect x="824" y="287" width="1" height="11" fill="#000000"/>
<rect x="822.5" y="248.5" width="4" height="38" fill="none" stroke="#000000" stroke-width="1"/>
<rect x="830" y="229" width="1" height="47" fill="#000000"/>
<rect x="828" y="248" width="5" height="24" fill="#000000"/>
<rect x="837" y="242" width="1" height="42" fill="#000000"/>
<rect x="835" y="271" width="5" height="2" fill="#000000"/>
<rect x="844" y="243" width="1" height="11" fill="#000000"/>
<rect x="844" y="273" width="1" height="68" fill="#000000"/>
<rect x="842.5" y="254.5" width="4" height="18" fill="none" stroke="#000000" stroke-width="1"/>
<rect x="851" y="222" width="1" height="3" fill="#000000"/>
<rect x="851" y="255" width="1" height="31" fill="#000000"/>
<rect x="849.5" y="225.5" width="4" height="29" fill="none" stroke="#000000" stroke-width="1"/>
<rect x="858" y="176" width="1" height="26" fill="#000000"/>
<rect x="858" y="227" width="1" height="1" fill="#000000"/>
<rect x="856.5" y="202.5" width="4" height="24" fill="none" stroke="#000000" stroke-width="1"/>
<rect x="865" y="165" width="1" height="8" fill="#000000"/>
<rect x="865" y="204" width="1" height="13" fill="#000000"/>
<rect x="863.5" y="173.5" width="4" height="30" fill="none" stroke="#000000" stroke-width="1"/>
<rect x="871" y="162" width="1" height="10" fill="#000000"/>
<rect x="871" y="175" width="1" height="13" fill="#000000"/>
<rect x="869.5" y="172.5" width="4" height="2" fill="none" stroke="#000000" stroke-width="1"/>
<rect x="878" y="168" width="1" height="20" fill="#646464"/>
<rect x="876" y="173" width="5" height="3" fill="#646464"/>
<rect x="885" y="163" width="1" height="27" fill="#646464"/>
<rect x="883" y="173" width="5" height="2" fill="#646464"/>
<rect x="892" y="170" width="1" height="28" fill="#646464"/>
<rect x="890" y="176" width="5" height="9" fill="#646464"/>
<rect x="899" y="178" width="1" height="5" fill="#646464"/>
<rect x="899" y="190" width="1" height="9" fill="#646464"/>
<rect x="897.5" y="183.5" width="4" height="6" fill="none" stroke="#646464" stroke-width="1"/>
<rect x="905" y="180" width="1" height="40" fill="#646464"/>
<rect x="903" y="185" width="5" height="26" fill="#646464"/>
<rect x="912" y="151" width="1" height="8" fill="#646464"/>
<rect x="912" y="211" width="1" height="6" fill="#646464"/>
<rect x="910.5" y="159.5" width="4" height="51" fill="none" stroke="#646464" stroke-width="1"/>
<rect x="919" y="144" width="1" height="50" fill="#646464"/>
<rect x="917" y="157" width="5" height="2" fill="#646464"/>
<rect x="926" y="113" width="1" height="21" fill="#646464"/>
<rect x="926" y="160" width="1" height="8" fill="#646464"/>
<rect x="924.5" y="134.5" width="4" height="25" fill="none" stroke="#646464" stroke-width="1"/>
<rect x="933" y="115" width="1" height="98" fill="#646464"/>
<rect x="931" y="138" width="5" height="47" fill="#646464"/>
<rect x="940" y="127" width="1" height="29" fill="#646464"/>
<rect x="940" y="186" width="1" height="16" fill="#646464"/>
<rect x="938.5" y="156.5" width="4" height="29" fill="none" stroke="#646464" stroke-width="1"/>
<rect x="946" y="140" width="1" height="53" fill="#646464"/>
<rect x="944" y="156" width="5" height="34" fill="#646464"/>
<rect x="953" y="176" width="1" height="25" fill="#646464"/>
<rect x="951" y="189" width="5" height="2" fill="#646464"/>
<rect x="960" y="176" width="1" height="8" fill="#000000"/>
<rect x="960" y="192" width="1" height="2" fill="#000000"/>
<rect x="958.5" y="184.5" width="4" height="7" fill="none" stroke="#000000" stroke-width="1"/>
<rect x="967" y="178" width="1" height="63" fill="#000000"/>
<rect x="965" y="186" width="5" height="50" fill="#000000"/>
<rect x="974" y="226" width="1" height="27" fill="#000000"/>
<rect x="972" y="238" width="5" height="3" fill="#000000"/>
<rect x="980" y="231" width="1" height="27" fill="#000000"/>
<rect x="978" y="243" width="5" height="6" fill="#000000"/>
<rect x="987" y="247" width="1" height="46" fill="#000000"/>
<rect x="985" y="252" width="5" height="29" fill="#000000"/>
<rect x="994" y="278" width="1" height="51" fill="#000000"/>
<rect x="992" y="279" width="5" height="15" fill="#000000"/>
<rect x="1001" y="289" width="1" height="44" fill="#000000"/>
<rect x="999" y="294" width="5" height="17" fill="#000000"/>
<rect x="1008" y="295" width="1" height="53" fill="#000000"/>
<rect x="1006" y="311" width="5" height="11" fill="#000000"/>
<rect x="1015" y="274" width="1" height="15" fill="#000000"/>
<rect x="1015" y="324" width="1" height="8" fill="#000000"/>
<rect x="1013.5" y="289.5" width="4" height="34" fill="none" stroke="#000000" stroke-width="1"/>
<rect x="1021" y="258" width="1" height="1" fill="#000000"/>
<rect x="1021" y="289" width="1" height="11" fill="#000000"/>
<rect x="1019.5" y="259.5" width="4" height="29" fill="none" stroke="#000000" stroke-width="1"/>
<rect x="1028" y="245" width="1" height="27" fill="#000000"/>
<rect x="1026" y="258" width="5" height="9" fill="#000000"/>
<rect x="1035" y="239" width="1" height="22" fill="#000000"/>
<rect x="1035" y="270" width="1" height="5" fill="#000000"/>
<rect x="1033.5" y="261.5" width="4" height="8" fill="none" stroke="#000000" stroke-width="1"/>
<rect x="1042" y="270" width="1" height="1" fill="#404040"/>
<rect x="1040" y="270" width="5" height="1" fill="#404040"/>
<rect x="1049" y="63" width="1" height="21" fill="#000000"/>
<rect x="1049" y="98" width="1" height="13" fill="#000000"/>
<rect x="1047.5" y="84.5" width="4" height="13" fill="none" stroke="#000000" stroke-width="1"/>
<rect x="1055" y="60" width="1" height="45" fill="#646464"/>
<rect x="1053" y="83" width="5" height="7" fill="#646464"/>
<rect x="1062" y="89" width="1" height="38" fill="#646464"/>
<rect x="1060" y="90" width="5" height="8" fill="#646464"/>
<rect x="1069" y="94" width="1" height="24" fill="#646464"/>
<rect x="1067" y="100" width="5" height="7" fill="#646464"/>
<rect x="1076" y="87" width="1" height="5" fill="#646464"/>
<rect x="1076" y="108" width="1" height="4" fill="#646464"/>
<rect x="1074.5" y="92.5" width="4" height="15" fill="none" stroke="#646464" stroke-width="1"/>
<rect x="1083" y="88" width="1" height="70" fill="#646464"/>
<rect x="1081" y="94" width="5" height="40" fill="#646464"/>
<rect x="1090" y="119" width="1" height="68" fill="#646464"/>
<rect x="1088" y="134" width="5" height="40" fill="#646464"/>
<rect x="1096" y="166" width="1" height="68" fill="#646464"/>
<rect x="1094" y="173" width="5" height="43" fill="#646464"/>
<rect x="1103" y="185" width="1" height="43" fill="#646464"/>
<rect x="1101" y="217" width="5" height="5" fill="#646464"/>
<rect x="1110" y="189" width="1" height="101" fill="#646464"/>
<rect x="1108" y="224" width="5" height="38" fill="#646464"/>
<rect x="1117" y="257" width="1" height="23" fill="#646464"/>
<rect x="1115" y="264" width="5" height="2" fill="#646464"/>
<rect x="1124" y="263" width="1" height="32" fill="#646464"/>
<rect x="1122" y="263" width="5" height="22" fill="#646464"/>
<rect x="1130" y="281" width="1" height="34" fill="#646464"/>
<rect x="1128" y="287" width="5" height="22" fill="#646464"/>
<rect x="1137" y="293" width="1" height="1" fill="#000000"/>
<rect x="1137" y="310" width="1" height="21" fill="#000000"/>
<rect x="1135.5" y="294.5" width="4" height="15" fill="none" stroke="#000000" stroke-width="1"/>
<rect x="1144" y="276" width="1" height="4" fill="#000000"/>
<rect x="1144" y="295" width="1" height="5" fill="#000000"/>
<rect x="1142.5" y="280.5" width="4" height="14" fill="none" stroke="#000000" stroke-width="1"/>
<rect x="1151" y="269" width="1" height="4" fill="#000000"/>
<rect x="1151" y="282" width="1" height="12" fill="#000000"/>
<rect x="1149.5" y="273.5" width="4" height="8" fill="none" stroke="#000000" stroke-width="1"/>
<rect x="1158" y="257" width="1" height="25" fill="#000000"/>
<rect x="1156" y="274" width="5" height="2" fill="#000000"/>
<rect x="1165" y="240" width="1" height="31" fill="#000000"/>
<rect x="1165" y="279" width="1" height="18" fill="#000000"/>
<rect x="1163.5" y="271.5" width="4" height="7" fill="none" stroke="#000000" stroke-width="1"/>
<rect x="1171" y="243" width="1" height="13" fill="#000000"/>
<rect x="1171" y="271" width="1" height="37" fill="#000000"/>
<rect x="1169.5" y="256.5" width="4" height="14" fill="none" stroke="#000000" stroke-width="1"/>
<rect x="1178" y="229" width="1" height="49" fill="#000000"/>
<rect x="1176" y="259" width="5" height="13" fill="#000000"/>
<rect x="1185" y="243" width="1" height="60" fill="#000000"/>
<rect x="1183" y="273" width="5" height="19" fill="#000000"/>
<rect x="1192" y="282" width="1" height="58" fill="#000000"/>
<rect x="1190" y="295" width="5" height="2" fill="#000000"/>
<rect x="1199" y="248" width="1" height="21" fill="#000000"/>
<rect x="1199" y="299" width="1" height="3" fill="#000000"/>
<rect x="1197.5" y="269.5" width="4" height="29" fill="none" stroke="#000000" stroke-width="1"/>
<rect x="1205" y="254" width="1" height="6" fill="#000000"/>
<rect x="1205" y="270" width="1" height="18" fill="#000000"/>
<rect x="1203.5" y="260.5" width="4" height="9" fill="none" stroke="#000000" stroke-width="1"/>
<rect x="1212" y="249" width="1" height="18" fill="#000000"/>
<rect x="1210" y="260" width="5" height="2" fill="#000000"/>
<rect x="1219" y="247" width="1" height="22" fill="#646464"/>
<rect x="1217" y="262" width="5" height="4" fill="#646464"/>
<rect x="1226" y="255" width="1" height="43" fill="#646464"/>
<rect x="1224" y="268" width="5" height="21" fill="#646464"/>
<rect x="1233" y="276" width="1" height="1" fill="#646464"/>
<rect x="1233" y="289" width="1" height="13" fill="#646464"/>
<rect x="1231.5" y="277.5" width="4" height="11" fill="none" stroke="#646464" stroke-width="1"/>
<rect x="1240" y="269" width="1" height="7" fill="#646464"/>
<rect x="1240" y="280" width="1" height="8" fill="#646464"/>
<rect x="1238.5" y="276.5" width="4" height="3" fill="none" stroke="#646464" stroke-width="1"/>
<rect x="1246" y="248" width="1" height="14" fill="#646464"/>
<rect x="1246" y="280" width="1" height="6" fill="#646464"/>
<rect x="1244.5" y="262.5" width="4" height="17" fill="none" stroke="#646464" stroke-width="1"/>
<path d="M212 33h2v1h-2zM214 34h2v1h-2zM216 35h2v1h-2zM218 36h3v1h-3zM221 37h2v1h-2zM223 38h2v1h-2zM225 39h2v1h-2zM227 40h2v1h-2zM229 41h2v1h-2zM231 42h2v1h-2zM233 43h2v1h-2zM235 44h3v1h-3zM238 45h2v1h-2zM240 46h2v1h-2zM242 47h2v1h-2zM244 48h2v1h-2zM246 49h2v1h-2zM248 50h2v1h-2zM250 51h3v1h-3zM253 52h2v1h-2zM255 53h2v1h-2zM257 54h2v1h-2zM259 55h2v1h-2zM261 56h2v1h-2zM263 57h2v1h-2zM265 58h3v1h-3zM268 59h2v1h-2zM270 60h2v1h-2zM272 61h2v1h-2zM274 62h2v1h-2zM276 63h2v1h-2zM278 64h2v1h-2zM280 65h2v1h-2zM282 66h3v1h-3zM285 67h2v1h-2zM287 68h2v1h-2zM289 69h2v1h-2zM291 70h2v1h-2zM293 71h2v1h-2zM295 72h2v1h-2zM297 73h3v1h-3zM300 74h2v1h-2zM302 75h2v1h-2zM304 76h2v1h-2zM306 77h2v1h-2zM308 78h2v1h-2zM310 79h2v1h-2zM312 80h3v1h-3zM315 81h2v1h-2zM317 82h2v1h-2zM319 83h2v1h-2zM321 84h2v1h-2zM323 85h2v1h-2zM325 86h2v1h-2zM327 87h2v1h-2zM329 88h3v1h-3zM332 89h2v1h-2zM334 90h2v1h-2zM336 91h2v1h-2zM338 92h2v1h-2zM340 93h2v1h-2zM342 94h2v1h-2zM344 95h3v1h-3zM347 96h2v1h-2zM349 97h2v1h-2zM351 98h2v1h-2zM353 99h2v1h-2zM355 100h2v1h-2zM357 101h2v1h-2zM359 102h2v1h-2zM361 103h3v1h-3zM364 104h2v1h-2zM366 105h2v1h-2zM368 106h2v1h-2zM370 107h2v1h-2zM372 108h2v1h-2zM374 109h2v1h-2zM376 110h3v1h-3zM379 111h2v1h-2zM381 112h2v1h-2zM383 113h2v1h-2zM385 114h2v1h-2zM387 115h2v1h-2zM389 116h2v1h-2zM391 117h3v1h-3zM394 118h2v1h-2zM396 119h2v1h-2zM398 120h2v1h-2zM400 121h2v1h-2zM402 122h2v1h-2zM404 123h2v1h-2zM406 124h2v1h-2zM408 125h3v1h-3zM411 126h2v1h-2zM413 127h2v1h-2zM415 128h2v1h-2zM417 129h2v1h-2zM419 130h2v1h-2zM421 131h2v1h-2zM423 132h3v1h-3zM426 133h2v1h-2zM428 134h2v1h-2zM430 135h2v1h-2zM432 136h2v1h-2zM434 137h2v1h-2zM436 138h2v1h-2zM438 139h3v1h-3zM441 140h2v1h-2zM443 141h2v1h-2zM445 142h2v1h-2zM447 143h2v1h-2zM449 144h2v1h-2zM451 145h2v1h-2zM453 146h2v1h-2zM455 147h3v1h-3zM458 148h2v1h-2zM460 149h2v1h-2zM462 150h2v1h-2zM464 151h2v1h-2zM466 152h2v1h-2zM468 153h2v1h-2zM470 154h3v1h-3zM473 155h2v1h-2zM475 156h2v1h-2zM477 157h2v1h-2zM479 158h2v1h-2zM481 159h2v1h-2zM483 160h2v1h-2zM485 161h2v1h-2zM487 162h3v1h-3zM490 163h2v1h-2zM492 164h2v1h-2zM494 165h2v1h-2zM496 166h2v1h-2zM498 167h2v1h-2zM500 168h2v1h-2zM502 169h3v1h-3zM505 170h2v1h-2zM507 171h2v1h-2zM509 172h2v1h-2zM511 173h2v1h-2zM513 174h2v1h-2zM515 175h2v1h-2zM517 176h3v1h-3zM520 177h2v1h-2zM522 178h2v1h-2zM524 179h2v1h-2zM526 180h2v1h-2zM528 181h2v1h-2zM530 182h2v1h-2zM532 183h2v1h-2zM534 184h3v1h-3zM537 185h2v1h-2zM539 186h2v1h-2zM541 187h2v1h-2zM543 188h2v1h-2zM545 189h2v1h-2zM547 190h2v1h-2zM549 191h3v1h-3zM552 192h2v1h-2zM554 193h2v1h-2zM556 194h2v1h-2zM558 195h2v1h-2zM560 196h2v1h-2zM562 197h2v1h-2zM564 198h3v1h-3zM567 199h2v1h-2zM569 200h2v1h-2zM571 201h2v1h-2zM573 202h2v1h-2zM575 203h2v1h-2zM577 204h2v1h-2zM579 205h2v1h-2zM581 206h3v1h-3zM584 207h2v1h-2zM586 208h2v1h-2zM588 209h2v1h-2zM590 210h2v1h-2zM592 211h2v1h-2zM594 212h2v1h-2zM596 213h3v1h-3zM599 214h2v1h-2zM601 215h2v1h-2zM603 216h2v1h-2zM605 217h2v1h-2zM607 218h2v1h-2zM609 219h2v1h-2zM611 220h2v1h-2zM613 221h3v1h-3zM616 222h2v1h-2zM618 223h2v1h-2zM620 224h2v1h-2zM622 225h2v1h-2zM624 226h2v1h-2zM626 227h2v1h-2zM628 228h3v1h-3zM631 229h2v1h-2zM633 230h2v1h-2zM635 231h2v1h-2zM637 232h2v1h-2zM639 233h2v1h-2zM641 234h2v1h-2zM643 235h3v1h-3zM646 236h2v1h-2zM648 237h2v1h-2zM650 238h2v1h-2zM652 239h2v1h-2zM654 240h2v1h-2zM656 241h2v1h-2zM658 242h2v1h-2zM660 243h3v1h-3zM663 244h2v1h-2zM665 245h2v1h-2zM667 246h2v1h-2zM669 247h2v1h-2zM671 248h2v1h-2zM673 249h2v1h-2zM675 250h3v1h-3zM678 251h2v1h-2zM680 252h2v1h-2zM682 253h2v1h-2zM684 254h2v1h-2zM686 255h2v1h-2zM688 256h2v1h-2zM690 257h3v1h-3zM693 258h2v1h-2zM695 259h2v1h-2zM697 260h2v1h-2zM699 261h2v1h-2zM701 262h2v1h-2zM703 263h2v1h-2zM705 264h2v1h-2zM707 265h3v1h-3zM710 266h2v1h-2zM712 267h2v1h-2zM714 268h2v1h-2zM716 269h2v1h-2zM718 270h2v1h-2zM720 271h2v1h-2zM722 272h3v1h-3zM725 273h2v1h-2zM727 274h2v1h-2zM729 275h2v1h-2zM731 276h2v1h-2zM733 277h2v1h-2zM735 278h2v1h-2zM737 279h2v1h-2zM739 280h3v1h-3zM742 281h2v1h-2zM744 282h2v1h-2zM746 283h2v1h-2zM748 284h2v1h-2zM750 285h2v1h-2zM752 286h2v1h-2zM754 287h3v1h-3zM757 288h2v1h-2zM759 289h2v1h-2zM761 290h2v1h-2zM763 291h2v1h-2zM765 292h2v1h-2zM767 293h2v1h-2zM769 294h3v1h-3zM772 295h2v1h-2zM774 296h2v1h-2zM776 297h2v1h-2zM778 298h2v1h-2zM780 299h2v1h-2zM782 300h2v1h-2zM784 301h2v1h-2zM786 302h3v1h-3zM789 303h2v1h-2zM791 304h2v1h-2zM793 305h2v1h-2zM795 306h2v1h-2zM797 307h2v1h-2zM799 308h2v1h-2zM801 309h3v1h-3zM804 310h2v1h-2zM806 311h2v1h-2zM808 312h2v1h-2zM810 313h2v1h-2zM812 314h2v1h-2zM814 315h2v1h-2zM816 316h3v1h-3zM819 317h2v1h-2zM821 318h2v1h-2zM823 319h2v1h-2zM825 320h2v1h-2zM827 321h2v1h-2zM829 322h2v1h-2zM831 323h2v1h-2zM833 324h3v1h-3zM836 325h2v1h-2zM838 326h2v1h-2zM840 327h2v1h-2zM842 328h2v1h-2zM844 329h2v1h-2zM846 330h2v1h-2zM848 331h3v1h-3zM851 332h2v1h-2zM853 333h2v1h-2zM855 334h2v1h-2zM857 335h1v1h-1z" fill="#00b0e0"/>
<path d="M4 235h2v1h-2zM6 236h2v1h-2zM8 237h2v1h-2zM10 238h2v1h-2zM12 239h2v1h-2zM14 240h2v1h-2zM16 241h2v1h-2zM18 242h3v1h-3zM21 243h2v1h-2zM23 244h2v1h-2zM25 245h2v1h-2zM27 246h2v1h-2zM29 247h2v1h-2zM31 248h2v1h-2zM33 249h3v1h-3zM36 250h2v1h-2zM38 251h2v1h-2zM40 252h2v1h-2zM42 253h2v1h-2zM44 254h2v1h-2zM46 255h2v1h-2zM48 256h3v1h-3zM51 257h2v1h-2zM53 258h2v1h-2zM55 259h2v1h-2zM57 260h2v1h-2zM59 261h2v1h-2zM61 262h2v1h-2zM63 263h3v1h-3zM66 264h2v1h-2zM68 265h2v1h-2zM70 266h2v1h-2zM72 267h2v1h-2zM74 268h2v1h-2zM76 269h2v1h-2zM78 270h3v1h-3zM81 271h2v1h-2zM83 272h2v1h-2zM85 273h2v1h-2zM87 274h2v1h-2zM89 275h2v1h-2zM91 276h2v1h-2zM93 277h3v1h-3zM96 278h2v1h-2zM98 279h2v1h-2zM100 280h2v1h-2zM102 281h2v1h-2zM104 282h2v1h-2zM106 283h2v1h-2zM108 284h3v1h-3zM111 285h2v1h-2zM113 286h2v1h-2zM115 287h2v1h-2zM117 288h2v1h-2zM119 289h2v1h-2zM121 290h2v1h-2zM123 291h3v1h-3zM126 292h2v1h-2zM128 293h2v1h-2zM130 294h2v1h-2zM132 295h2v1h-2zM134 296h2v1h-2zM136 297h2v1h-2zM138 298h3v1h-3zM141 299h2v1h-2zM143 300h2v1h-2zM145 301h2v1h-2zM147 302h2v1h-2zM149 303h2v1h-2zM151 304h2v1h-2zM153 305h3v1h-3zM156 306h2v1h-2zM158 307h2v1h-2zM160 308h2v1h-2zM162 309h2v1h-2zM164 310h2v1h-2zM166 311h2v1h-2zM168 312h3v1h-3zM171 313h2v1h-2zM173 314h2v1h-2zM175 315h2v1h-2zM177 316h2v1h-2zM179 317h2v1h-2zM181 318h2v1h-2zM183 319h3v1h-3zM186 320h2v1h-2zM188 321h2v1h-2zM190 322h2v1h-2zM192 323h2v1h-2zM194 324h2v1h-2zM196 325h2v1h-2zM198 326h3v1h-3zM201 327h2v1h-2zM203 328h2v1h-2zM205 329h2v1h-2zM207 330h2v1h-2zM209 331h2v1h-2zM211 332h2v1h-2zM213 333h3v1h-3zM216 334h2v1h-2zM218 335h2v1h-2zM220 336h2v1h-2zM222 337h2v1h-2zM224 338h2v1h-2zM226 339h2v1h-2zM228 340h3v1h-3zM231 341h2v1h-2zM233 342h2v1h-2zM235 343h2v1h-2zM237 344h2v1h-2zM239 345h2v1h-2zM241 346h2v1h-2zM243 347h3v1h-3zM246 348h2v1h-2zM248 349h2v1h-2zM250 350h2v1h-2zM252 351h2v1h-2zM254 352h2v1h-2zM256 353h2v1h-2zM258 354h3v1h-3zM261 355h2v1h-2zM263 356h2v1h-2zM265 357h2v1h-2zM267 358h2v1h-2zM269 359h2v1h-2zM271 360h2v1h-2zM273 361h3v1h-3zM276 362h2v1h-2zM278 363h2v1h-2zM280 364h2v1h-2zM282 365h2v1h-2zM284 366h2v1h-2zM286 367h2v1h-2zM288 368h3v1h-3zM291 369h2v1h-2zM293 370h2v1h-2zM295 371h2v1h-2zM297 372h2v1h-2zM299 373h2v1h-2zM301 374h2v1h-2zM303 375h3v1h-3zM306 376h2v1h-2zM308 377h2v1h-2zM310 378h2v1h-2zM312 379h2v1h-2zM314 380h2v1h-2zM316 381h2v1h-2zM318 382h3v1h-3zM321 383h2v1h-2zM323 384h2v1h-2zM325 385h2v1h-2zM327 386h2v1h-2zM329 387h2v1h-2zM331 388h2v1h-2zM333 389h3v1h-3zM336 390h2v1h-2zM338 391h2v1h-2zM340 392h2v1h-2zM342 393h2v1h-2zM344 394h2v1h-2zM346 395h2v1h-2zM348 396h3v1h-3zM351 397h2v1h-2zM353 398h2v1h-2zM355 399h2v1h-2zM357 400h2v1h-2zM359 401h2v1h-2zM361 402h2v1h-2zM363 403h3v1h-3zM366 404h2v1h-2zM368 405h2v1h-2zM370 406h2v1h-2zM372 407h2v1h-2zM374 408h2v1h-2zM376 409h2v1h-2zM378 410h3v1h-3zM381 411h2v1h-2zM383 412h2v1h-2zM385 413h2v1h-2zM387 414h2v1h-2zM389 415h2v1h-2zM391 416h2v1h-2zM393 417h3v1h-3zM396 418h2v1h-2zM398 419h2v1h-2zM400 420h2v1h-2zM402 421h2v1h-2zM404 422h2v1h-2zM406 423h2v1h-2zM408 424h3v1h-3zM411 425h2v1h-2zM413 426h2v1h-2zM415 427h2v1h-2zM417 428h2v1h-2zM419 429h2v1h-2zM421 430h2v1h-2zM423 431h3v1h-3zM426 432h2v1h-2zM428 433h2v1h-2zM430 434h2v1h-2zM432 435h2v1h-2zM434 436h2v1h-2zM436 437h2v1h-2zM438 438h3v1h-3zM441 439h2v1h-2zM443 440h2v1h-2zM445 441h2v1h-2zM447 442h2v1h-2zM449 443h2v1h-2zM451 444h2v1h-2zM453 445h3v1h-3zM456 446h2v1h-2zM458 447h2v1h-2zM460 448h2v1h-2zM462 449h2v1h-2zM464 450h2v1h-2zM466 451h3v1h-3zM469 452h2v1h-2zM471 453h2v1h-2zM473 454h2v1h-2zM475 455h2v1h-2zM477 456h2v1h-2zM479 457h2v1h-2zM481 458h3v1h-3zM484 459h2v1h-2zM486 460h2v1h-2zM488 461h2v1h-2zM490 462h2v1h-2zM492 463h2v1h-2zM494 464h2v1h-2zM496 465h3v1h-3zM499 466h2v1h-2zM501 467h2v1h-2zM503 468h2v1h-2zM505 469h2v1h-2zM507 470h2v1h-2zM509 471h2v1h-2zM511 472h3v1h-3zM514 473h2v1h-2zM516 474h2v1h-2zM518 475h2v1h-2zM520 476h2v1h-2zM522 477h2v1h-2zM524 478h2v1h-2zM526 479h3v1h-3zM529 480h2v1h-2zM531 481h2v1h-2zM533 482h2v1h-2zM535 483h2v1h-2zM537 484h2v1h-2zM539 485h2v1h-2zM541 486h3v1h-3zM544 487h2v1h-2zM546 488h2v1h-2zM548 489h2v1h-2zM550 490h2v1h-2zM552 491h2v1h-2zM554 492h2v1h-2zM556 493h3v1h-3zM559 494h2v1h-2zM561 495h2v1h-2zM563 496h2v1h-2zM565 497h2v1h-2zM567 498h2v1h-2zM569 499h2v1h-2zM571 500h3v1h-3zM574 501h2v1h-2zM576 502h2v1h-2zM578 503h2v1h-2zM580 504h2v1h-2zM582 505h2v1h-2zM584 506h2v1h-2zM586 507h3v1h-3zM589 508h2v1h-2zM591 509h2v1h-2zM593 510h2v1h-2zM595 511h2v1h-2zM597 512h2v1h-2zM599 513h2v1h-2zM601 514h3v1h-3zM604 515h2v1h-2zM606 516h2v1h-2zM608 517h2v1h-2zM610 518h2v1h-2zM612 519h2v1h-2zM614 520h2v1h-2zM616 521h3v1h-3zM619 522h2v1h-2zM621 523h2v1h-2zM623 524h2v1h-2zM625 525h2v1h-2zM627 526h2v1h-2zM629 527h2v1h-2zM631 528h3v1h-3zM634 529h2v1h-2zM636 530h2v1h-2zM638 531h2v1h-2zM640 532h2v1h-2zM642 533h2v1h-2zM644 534h2v1h-2zM646 535h3v1h-3zM649 536h2v1h-2zM651 537h2v1h-2zM653 538h2v1h-2zM655 539h2v1h-2zM657 540h2v1h-2zM659 541h2v1h-2zM661 542h3v1h-3zM664 543h2v1h-2zM666 544h2v1h-2zM668 545h2v1h-2zM670 546h2v1h-2zM672 547h2v1h-2zM674 548h2v1h-2zM676 549h3v1h-3zM679 550h2v1h-2zM681 551h2v1h-2zM683 552h2v1h-2zM685 553h2v1h-2zM687 554h2v1h-2zM689 555h2v1h-2zM691 556h3v1h-3zM694 557h2v1h-2zM696 558h2v1h-2zM698 559h2v1h-2zM700 560h1v1h-1z" fill="#00b0e0"/>
<path d="M584 234h2v1h-2zM586 233h2v1h-2zM588 232h3v1h-3zM591 231h3v1h-3zM594 230h3v1h-3zM597 229h2v1h-2zM599 228h3v1h-3zM602 227h3v1h-3zM605 226h3v1h-3zM608 225h3v1h-3zM611 224h2v1h-2zM613 223h3v1h-3zM616 222h3v1h-3zM619 221h3v1h-3zM622 220h2v1h-2zM624 219h3v1h-3zM627 218h3v1h-3zM630 217h3v1h-3zM633 216h2v1h-2zM635 215h3v1h-3zM638 214h3v1h-3zM641 213h3v1h-3zM644 212h2v1h-2zM646 211h3v1h-3zM649 210h3v1h-3zM652 209h3v1h-3zM655 208h3v1h-3zM658 207h2v1h-2zM660 206h3v1h-3zM663 205h3v1h-3zM666 204h3v1h-3zM669 203h2v1h-2zM671 202h3v1h-3zM674 201h3v1h-3zM677 200h3v1h-3zM680 199h2v1h-2zM682 198h3v1h-3zM685 197h3v1h-3zM688 196h3v1h-3zM691 195h2v1h-2zM693 194h3v1h-3zM696 193h3v1h-3zM699 192h3v1h-3zM702 191h3v1h-3zM705 190h2v1h-2zM707 189h3v1h-3zM710 188h3v1h-3zM713 187h3v1h-3zM716 186h2v1h-2zM718 185h3v1h-3zM721 184h3v1h-3zM724 183h3v1h-3zM727 182h2v1h-2zM729 181h3v1h-3zM732 180h3v1h-3zM735 179h3v1h-3zM738 178h3v1h-3zM741 177h2v1h-2zM743 176h3v1h-3zM746 175h3v1h-3zM749 174h3v1h-3zM752 173h2v1h-2zM754 172h3v1h-3zM757 171h3v1h-3zM760 170h3v1h-3zM763 169h2v1h-2zM765 168h3v1h-3zM768 167h3v1h-3zM771 166h3v1h-3zM774 165h2v1h-2zM776 164h3v1h-3zM779 163h3v1h-3zM782 162h3v1h-3zM785 161h3v1h-3zM788 160h2v1h-2zM790 159h3v1h-3zM793 158h3v1h-3zM796 157h3v1h-3zM799 156h2v1h-2zM801 155h3v1h-3zM804 154h3v1h-3zM807 153h3v1h-3zM810 152h2v1h-2zM812 151h3v1h-3zM815 150h3v1h-3zM818 149h3v1h-3zM821 148h3v1h-3zM824 147h2v1h-2zM826 146h3v1h-3zM829 145h3v1h-3zM832 144h3v1h-3zM835 143h2v1h-2zM837 142h3v1h-3zM840 141h3v1h-3zM843 140h3v1h-3zM846 139h2v1h-2zM848 138h3v1h-3zM851 137h3v1h-3zM854 136h3v1h-3zM857 135h2v1h-2zM859 134h3v1h-3zM862 133h3v1h-3zM865 132h3v1h-3zM868 131h3v1h-3zM871 130h2v1h-2zM873 129h3v1h-3zM876 128h3v1h-3zM879 127h3v1h-3zM882 126h2v1h-2zM884 125h3v1h-3zM887 124h3v1h-3zM890 123h3v1h-3zM893 122h2v1h-2zM895 121h3v1h-3zM898 120h3v1h-3zM901 119h3v1h-3zM904 118h3v1h-3zM907 117h2v1h-2zM909 116h3v1h-3zM912 115h3v1h-3zM915 114h3v1h-3zM918 113h2v1h-2zM920 112h3v1h-3zM923 111h3v1h-3zM926 110h3v1h-3zM929 109h2v1h-2zM931 108h3v1h-3zM934 107h3v1h-3zM937 106h3v1h-3zM940 105h2v1h-2zM942 104h3v1h-3zM945 103h3v1h-3zM948 102h3v1h-3zM951 101h3v1h-3zM954 100h2v1h-2zM956 99h3v1h-3zM959 98h3v1h-3zM962 97h3v1h-3zM965 96h2v1h-2zM967 95h3v1h-3zM970 94h3v1h-3zM973 93h3v1h-3zM976 92h2v1h-2zM978 91h3v1h-3zM981 90h3v1h-3zM984 89h3v1h-3zM987 88h3v1h-3zM990 87h2v1h-2zM992 86h3v1h-3zM995 85h3v1h-3zM998 84h3v1h-3zM1001 83h2v1h-2zM1003 82h3v1h-3zM1006 81h3v1h-3zM1009 80h3v1h-3zM1012 79h2v1h-2zM1014 78h3v1h-3zM1017 77h3v1h-3zM1020 76h3v1h-3zM1023 75h2v1h-2zM1025 74h3v1h-3zM1028 73h3v1h-3zM1031 72h3v1h-3zM1034 71h3v1h-3zM1037 70h2v1h-2zM1039 69h3v1h-3zM1042 68h3v1h-3zM1045 67h3v1h-3zM1048 66h2v1h-2zM1050 65h3v1h-3zM1053 64h3v1h-3zM1056 63h3v1h-3zM1059 62h2v1h-2zM1061 61h3v1h-3zM1064 60h3v1h-3zM1067 59h3v1h-3zM1070 58h2v1h-2zM1072 57h3v1h-3zM1075 56h3v1h-3zM1078 55h3v1h-3zM1081 54h3v1h-3zM1084 53h2v1h-2zM1086 52h3v1h-3zM1089 51h3v1h-3zM1092 50h3v1h-3zM1095 49h2v1h-2zM1097 48h3v1h-3zM1100 47h3v1h-3zM1103 46h3v1h-3zM1106 45h2v1h-2zM1108 44h3v1h-3zM1111 43h3v1h-3zM1114 42h3v1h-3zM1117 41h3v1h-3zM1120 40h2v1h-2zM1122 39h3v1h-3zM1125 38h3v1h-3zM1128 37h3v1h-3zM1131 36h2v1h-2zM1133 35h3v1h-3zM1136 34h3v1h-3zM1139 33h2v1h-2z" fill="#00b0e0"/>
<path d="M584 527h2v1h-2zM586 526h3v1h-3zM589 525h2v1h-2zM591 524h3v1h-3zM594 523h3v1h-3zM597 522h3v1h-3zM600 521h3v1h-3zM603 520h2v1h-2zM605 519h3v1h-3zM608 518h3v1h-3zM611 517h3v1h-3zM614 516h2v1h-2zM616 515h3v1h-3zM619 514h3v1h-3zM622 513h3v1h-3zM625 512h2v1h-2zM627 511h3v1h-3zM630 510h3v1h-3zM633 509h3v1h-3zM636 508h3v1h-3zM639 507h2v1h-2zM641 506h3v1h-3zM644 505h3v1h-3zM647 504h3v1h-3zM650 503h2v1h-2zM652 502h3v1h-3zM655 501h3v1h-3zM658 500h3v1h-3zM661 499h2v1h-2zM663 498h3v1h-3zM666 497h3v1h-3zM669 496h3v1h-3zM672 495h3v1h-3zM675 494h2v1h-2zM677 493h3v1h-3zM680 492h3v1h-3zM683 491h3v1h-3zM686 490h2v1h-2zM688 489h3v1h-3zM691 488h3v1h-3zM694 487h3v1h-3zM697 486h2v1h-2zM699 485h3v1h-3zM702 484h3v1h-3zM705 483h3v1h-3zM708 482h3v1h-3zM711 481h2v1h-2zM713 480h3v1h-3zM716 479h3v1h-3zM719 478h3v1h-3zM722 477h2v1h-2zM724 476h3v1h-3zM727 475h3v1h-3zM730 474h3v1h-3zM733 473h3v1h-3zM736 472h2v1h-2zM738 471h3v1h-3zM741 470h3v1h-3zM744 469h3v1h-3zM747 468h2v1h-2zM749 467h3v1h-3zM752 466h3v1h-3zM755 465h3v1h-3zM758 464h2v1h-2zM760 463h3v1h-3zM763 462h3v1h-3zM766 461h3v1h-3zM769 460h3v1h-3zM772 459h2v1h-2zM774 458h3v1h-3zM777 457h3v1h-3zM780 456h3v1h-3zM783 455h2v1h-2zM785 454h3v1h-3zM788 453h3v1h-3zM791 452h3v1h-3zM794 451h2v1h-2zM796 450h3v1h-3zM799 449h3v1h-3zM802 448h3v1h-3zM805 447h3v1h-3zM808 446h2v1h-2zM810 445h3v1h-3zM813 444h3v1h-3zM816 443h3v1h-3zM819 442h2v1h-2zM821 441h3v1h-3zM824 440h3v1h-3zM827 439h3v1h-3zM830 438h2v1h-2zM832 437h3v1h-3zM835 436h3v1h-3zM838 435h3v1h-3zM841 434h3v1h-3zM844 433h2v1h-2zM846 432h3v1h-3zM849 431h3v1h-3zM852 430h3v1h-3zM855 429h2v1h-2zM857 428h3v1h-3zM860 427h3v1h-3zM863 426h3v1h-3zM866 425h3v1h-3zM869 424h2v1h-2zM871 423h3v1h-3zM874 422h3v1h-3zM877 421h3v1h-3zM880 420h2v1h-2zM882 419h3v1h-3zM885 418h3v1h-3zM888 417h3v1h-3zM891 416h2v1h-2zM893 415h3v1h-3zM896 414h3v1h-3zM899 413h3v1h-3zM902 412h3v1h-3zM905 411h2v1h-2zM907 410h3v1h-3zM910 409h3v1h-3zM913 408h3v1h-3zM916 407h2v1h-2zM918 406h3v1h-3zM921 405h3v1h-3zM924 404h3v1h-3zM927 403h2v1h-2zM929 402h3v1h-3zM932 401h3v1h-3zM935 400h3v1h-3zM938 399h3v1h-3zM941 398h2v1h-2zM943 397h3v1h-3zM946 396h3v1h-3zM949 395h3v1h-3zM952 394h2v1h-2zM954 393h3v1h-3zM957 392h3v1h-3zM960 391h3v1h-3zM963 390h2v1h-2zM965 389h3v1h-3zM968 388h3v1h-3zM971 387h3v1h-3zM974 386h3v1h-3zM977 385h2v1h-2zM979 384h3v1h-3zM982 383h3v1h-3zM985 382h3v1h-3zM988 381h2v1h-2zM990 380h3v1h-3zM993 379h3v1h-3zM996 378h3v1h-3zM999 377h2v1h-2zM1001 376h3v1h-3zM1004 375h3v1h-3zM1007 374h3v1h-3zM1010 373h3v1h-3zM1013 372h2v1h-2zM1015 371h3v1h-3zM1018 370h3v1h-3zM1021 369h3v1h-3zM1024 368h2v1h-2zM1026 367h3v1h-3zM1029 366h3v1h-3zM1032 365h3v1h-3zM1035 364h3v1h-3zM1038 363h2v1h-2zM1040 362h3v1h-3zM1043 361h3v1h-3zM1046 360h3v1h-3zM1049 359h2v1h-2zM1051 358h3v1h-3zM1054 357h3v1h-3zM1057 356h3v1h-3zM1060 355h2v1h-2zM1062 354h3v1h-3zM1065 353h3v1h-3zM1068 352h3v1h-3zM1071 351h3v1h-3zM1074 350h2v1h-2zM1076 349h3v1h-3zM1079 348h3v1h-3zM1082 347h3v1h-3zM1085 346h2v1h-2zM1087 345h3v1h-3zM1090 344h3v1h-3zM1093 343h3v1h-3zM1096 342h2v1h-2zM1098 341h3v1h-3zM1101 340h3v1h-3zM1104 339h3v1h-3zM1107 338h3v1h-3zM1110 337h2v1h-2zM1112 336h3v1h-3zM1115 335h3v1h-3zM1118 334h3v1h-3zM1121 333h2v1h-2zM1123 332h3v1h-3zM1126 331h3v1h-3zM1129 330h3v1h-3zM1132 329h2v1h-2zM1134 328h3v1h-3zM1137 327h3v1h-3zM1140 326h3v1h-3zM1143 325h3v1h-3zM1146 324h2v1h-2zM1148 323h3v1h-3zM1151 322h3v1h-3zM1154 321h3v1h-3zM1157 320h2v1h-2zM1159 319h3v1h-3zM1162 318h3v1h-3zM1165 317h3v1h-3zM1168 316h3v1h-3zM1171 315h2v1h-2zM1173 314h3v1h-3zM1176 313h3v1h-3zM1179 312h3v1h-3zM1182 311h2v1h-2zM1184 310h3v1h-3zM1187 309h3v1h-3zM1190 308h3v1h-3zM1193 307h2v1h-2zM1195 306h3v1h-3zM1198 305h3v1h-3zM1201 304h3v1h-3zM1204 303h3v1h-3zM1207 302h2v1h-2zM1209 301h3v1h-3zM1212 300h3v1h-3zM1215 299h3v1h-3zM1218 298h2v1h-2zM1220 297h3v1h-3zM1223 296h3v1h-3zM1226 295h3v1h-3zM1229 294h2v1h-2zM1231 293h3v1h-3zM1234 292h3v1h-3zM1237 291h3v1h-3zM1240 290h3v1h-3zM1243 289h2v1h-2zM1245 288h3v1h-3zM1248 287h3v1h-3zM1251 286h3v1h-3zM1254 285h2v1h-2zM1256 284h3v1h-3zM1259 283h3v1h-3zM1262 282h3v1h-3zM1265 281h2v1h-2zM1267 280h3v1h-3zM1270 279h3v1h-3zM1273 278h3v1h-3zM1276 277h3v1h-3zM1279 276h2v1h-2zM1281 275h3v1h-3zM1284 274h3v1h-3zM1287 273h3v1h-3zM1290 272h2v1h-2zM1292 271h3v1h-3zM1295 270h3v1h-3zM1298 269h3v1h-3zM1301 268h3v1h-3zM1304 267h2v1h-2zM1306 266h3v1h-3zM1309 265h3v1h-3zM1312 264h3v1h-3zM1315 263h2v1h-2zM1317 262h3v1h-3zM1320 261h3v1h-3zM1323 260h3v1h-3zM1326 259h2v1h-2zM1328 258h3v1h-3zM1331 257h3v1h-3zM1334 256h3v1h-3zM1337 255h3v1h-3zM1340 254h2v1h-2zM1342 253h3v1h-3zM1345 252h3v1h-3zM1348 251h3v1h-3zM1351 250h2v1h-2z" fill="#00b0e0"/>
<path d="M237 111h1v1h-1zM238 112h2v1h-2zM240 113h1v1h-1zM241 114h1v1h-1zM242 115h2v1h-2zM244 116h1v1h-1zM245 117h1v1h-1zM246 118h2v1h-2zM248 119h1v1h-1zM249 120h2v1h-2zM251 121h1v1h-1zM252 122h1v1h-1zM253 123h2v1h-2zM255 124h1v1h-1zM256 125h1v1h-1zM257 126h2v1h-2zM259 127h1v1h-1zM260 128h2v1h-2zM262 129h1v1h-1zM263 130h1v1h-1zM264 131h2v1h-2zM266 132h1v1h-1zM267 133h1v1h-1zM268 134h2v1h-2zM270 135h1v1h-1zM271 136h2v1h-2zM273 137h1v1h-1zM274 138h1v1h-1zM275 139h2v1h-2zM277 140h1v1h-1zM278 141h1v1h-1zM279 142h2v1h-2zM281 143h1v1h-1zM282 144h2v1h-2zM284 145h1v1h-1zM285 146h1v1h-1zM286 147h2v1h-2zM288 148h1v1h-1zM289 149h1v1h-1zM290 150h2v1h-2zM292 151h1v1h-1zM293 152h2v1h-2zM295 153h1v1h-1zM296 154h1v1h-1zM297 155h2v1h-2zM299 156h1v1h-1zM300 157h1v1h-1zM301 158h2v1h-2zM303 159h1v1h-1zM304 160h1v1h-1zM305 161h2v1h-2zM307 162h1v1h-1zM308 163h2v1h-2zM310 164h1v1h-1zM311 165h1v1h-1zM312 166h2v1h-2zM314 167h1v1h-1zM315 168h1v1h-1zM316 169h2v1h-2zM318 170h1v1h-1zM319 171h2v1h-2zM321 172h1v1h-1zM322 173h1v1h-1zM323 174h2v1h-2zM325 175h1v1h-1zM326 176h1v1h-1zM327 177h2v1h-2zM329 178h1v1h-1zM330 179h2v1h-2zM332 180h1v1h-1zM333 181h1v1h-1zM334 182h2v1h-2zM336 183h1v1h-1zM337 184h1v1h-1zM338 185h2v1h-2zM340 186h1v1h-1zM341 187h2v1h-2zM343 188h1v1h-1zM344 189h1v1h-1zM345 190h2v1h-2zM347 191h1v1h-1zM348 192h1v1h-1zM349 193h2v1h-2zM351 194h1v1h-1zM352 195h2v1h-2zM354 196h1v1h-1zM355 197h1v1h-1zM356 198h2v1h-2zM358 199h1v1h-1zM359 200h1v1h-1zM360 201h2v1h-2zM362 202h1v1h-1zM363 203h2v1h-2zM365 204h1v1h-1zM366 205h1v1h-1zM367 206h2v1h-2zM369 207h1v1h-1zM370 208h1v1h-1zM371 209h2v1h-2zM373 210h1v1h-1zM374 211h2v1h-2zM376 212h1v1h-1zM377 213h1v1h-1zM378 214h2v1h-2zM380 215h1v1h-1zM381 216h1v1h-1zM382 217h2v1h-2zM384 218h1v1h-1zM385 219h2v1h-2zM387 220h1v1h-1zM388 221h1v1h-1zM389 222h2v1h-2zM391 223h1v1h-1zM392 224h1v1h-1zM393 225h2v1h-2zM395 226h1v1h-1zM396 227h2v1h-2zM398 228h1v1h-1zM399 229h1v1h-1zM400 230h2v1h-2zM402 231h1v1h-1zM403 232h1v1h-1zM404 233h2v1h-2zM406 234h1v1h-1zM407 235h2v1h-2zM409 236h1v1h-1zM410 237h1v1h-1zM411 238h2v1h-2zM413 239h1v1h-1zM414 240h1v1h-1zM415 241h2v1h-2zM417 242h1v1h-1zM418 243h1v1h-1zM419 244h2v1h-2zM421 245h1v1h-1zM422 246h2v1h-2zM424 247h1v1h-1zM425 248h1v1h-1zM426 249h2v1h-2zM428 250h1v1h-1zM429 251h1v1h-1zM430 252h2v1h-2zM432 253h1v1h-1zM433 254h2v1h-2zM435 255h1v1h-1zM436 256h1v1h-1zM437 257h2v1h-2zM439 258h1v1h-1zM440 259h1v1h-1zM441 260h2v1h-2zM443 261h1v1h-1zM444 262h2v1h-2zM446 263h1v1h-1zM447 264h1v1h-1zM448 265h2v1h-2zM450 266h1v1h-1zM451 267h1v1h-1zM452 268h2v1h-2zM454 269h1v1h-1zM455 270h2v1h-2zM457 271h1v1h-1zM458 272h1v1h-1zM459 273h2v1h-2zM461 274h1v1h-1zM462 275h1v1h-1zM463 276h2v1h-2zM465 277h1v1h-1zM466 278h2v1h-2zM468 279h1v1h-1zM469 280h1v1h-1zM470 281h2v1h-2zM472 282h1v1h-1zM473 283h1v1h-1zM474 284h2v1h-2zM476 285h1v1h-1zM477 286h2v1h-2zM479 287h1v1h-1zM480 288h1v1h-1zM481 289h2v1h-2zM483 290h1v1h-1zM484 291h1v1h-1zM485 292h2v1h-2zM487 293h1v1h-1zM488 294h2v1h-2zM490 295h1v1h-1zM491 296h1v1h-1zM492 297h2v1h-2zM494 298h1v1h-1zM495 299h1v1h-1zM496 300h2v1h-2zM498 301h1v1h-1zM499 302h2v1h-2zM501 303h1v1h-1zM502 304h1v1h-1zM503 305h2v1h-2zM505 306h1v1h-1zM506 307h1v1h-1zM507 308h2v1h-2zM509 309h1v1h-1zM510 310h2v1h-2zM512 311h1v1h-1zM513 312h1v1h-1zM514 313h2v1h-2zM516 314h1v1h-1zM517 315h1v1h-1zM518 316h2v1h-2zM520 317h1v1h-1zM521 318h2v1h-2zM523 319h1v1h-1zM524 320h1v1h-1zM525 321h2v1h-2zM527 322h1v1h-1zM528 323h1v1h-1zM529 324h2v1h-2zM531 325h1v1h-1zM532 326h2v1h-2zM534 327h1v1h-1zM535 328h1v1h-1zM536 329h2v1h-2zM538 330h1v1h-1zM539 331h1v1h-1zM540 332h2v1h-2zM542 333h1v1h-1zM543 334h1v1h-1zM544 335h2v1h-2zM546 336h1v1h-1zM547 337h2v1h-2zM549 338h1v1h-1zM550 339h1v1h-1zM551 340h2v1h-2zM553 341h1v1h-1zM554 342h1v1h-1zM555 343h2v1h-2zM557 344h1v1h-1zM558 345h2v1h-2zM560 346h1v1h-1zM561 347h1v1h-1zM562 348h2v1h-2zM564 349h1v1h-1zM565 350h1v1h-1zM566 351h2v1h-2zM568 352h1v1h-1zM569 353h2v1h-2zM571 354h1v1h-1zM572 355h1v1h-1zM573 356h2v1h-2zM575 357h1v1h-1zM576 358h1v1h-1zM577 359h2v1h-2zM579 360h1v1h-1zM580 361h2v1h-2zM582 362h1v1h-1zM583 363h1v1h-1zM584 364h2v1h-2zM586 365h1v1h-1zM587 366h1v1h-1zM588 367h2v1h-2zM590 368h1v1h-1zM591 369h2v1h-2zM593 370h1v1h-1zM594 371h1v1h-1zM595 372h2v1h-2zM597 373h1v1h-1zM598 374h1v1h-1zM599 375h2v1h-2zM601 376h1v1h-1zM602 377h2v1h-2zM604 378h1v1h-1zM605 379h1v1h-1zM606 380h2v1h-2zM608 381h1v1h-1zM609 382h1v1h-1zM610 383h2v1h-2zM612 384h1v1h-1zM613 385h2v1h-2zM615 386h1v1h-1zM616 387h1v1h-1zM617 388h2v1h-2zM619 389h1v1h-1zM620 390h1v1h-1zM621 391h2v1h-2zM623 392h1v1h-1zM624 393h2v1h-2zM626 394h1v1h-1zM627 395h1v1h-1zM628 396h2v1h-2zM630 397h1v1h-1zM631 398h1v1h-1zM632 399h2v1h-2zM634 400h1v1h-1zM635 401h2v1h-2zM637 402h1v1h-1zM638 403h1v1h-1zM639 404h2v1h-2zM641 405h1v1h-1zM642 406h1v1h-1zM643 407h2v1h-2zM645 408h1v1h-1zM646 409h2v1h-2zM648 410h1v1h-1zM649 411h1v1h-1zM650 412h2v1h-2zM652 413h1v1h-1zM653 414h1v1h-1zM654 415h2v1h-2zM656 416h1v1h-1zM657 417h1v1h-1zM658 418h1v1h-1z" fill="#0a64d8"/>
<path d="M326 176h1v1h-1zM327 177h1v1h-1zM328 178h1v1h-1zM329 179h1v1h-1zM330 180h1v1h-1zM331 181h1v1h-1zM332 182h1v1h-1zM333 183h1v1h-1zM334 184h1v1h-1zM335 185h1v1h-1zM336 186h1v1h-1zM337 187h1v1h-1zM338 188h1v1h-1zM339 189h1v1h-1zM340 190h1v1h-1zM341 191h1v1h-1zM342 192h1v1h-1zM343 193h1v1h-1zM344 194h1v1h-1zM345 195h1v1h-1zM346 196h1v1h-1zM347 197h1v1h-1zM348 198h1v2h-1zM349 200h1v1h-1zM350 201h1v1h-1zM351 202h1v1h-1zM352 203h1v1h-1zM353 204h1v1h-1zM354 205h1v1h-1zM355 206h1v1h-1zM356 207h1v1h-1zM357 208h1v1h-1zM358 209h1v1h-1zM359 210h1v1h-1zM360 211h1v1h-1zM361 212h1v1h-1zM362 213h1v1h-1zM363 214h1v1h-1zM364 215h1v1h-1zM365 216h1v1h-1zM366 217h1v1h-1zM367 218h1v1h-1zM368 219h1v1h-1zM369 220h1v1h-1zM370 221h1v2h-1zM371 223h1v1h-1zM372 224h1v1h-1zM373 225h1v1h-1zM374 226h1v1h-1zM375 227h1v1h-1zM376 228h1v1h-1zM377 229h1v1h-1zM378 230h1v1h-1zM379 231h1v1h-1zM380 232h1v1h-1zM381 233h1v1h-1zM382 234h1v1h-1zM383 235h1v1h-1zM384 236h1v1h-1zM385 237h1v1h-1zM386 238h1v1h-1zM387 239h1v1h-1zM388 240h1v1h-1zM389 241h1v1h-1zM390 242h1v1h-1zM391 243h1v1h-1zM392 244h1v2h-1zM393 246h1v1h-1zM394 247h1v1h-1zM395 248h1v1h-1zM396 249h1v1h-1zM397 250h1v1h-1zM398 251h1v1h-1zM399 252h1v1h-1zM400 253h1v1h-1zM401 254h1v1h-1zM402 255h1v1h-1zM403 256h1v1h-1zM404 257h1v1h-1zM405 258h1v1h-1zM406 259h1v1h-1zM407 260h1v1h-1zM408 261h1v1h-1zM409 262h1v1h-1zM410 263h1v1h-1zM411 264h1v1h-1zM412 265h1v1h-1zM413 266h1v1h-1zM414 267h1v2h-1zM415 269h1v1h-1zM416 270h1v1h-1zM417 271h1v1h-1zM418 272h1v1h-1zM419 273h1v1h-1zM420 274h1v1h-1zM421 275h1v1h-1zM422 276h1v1h-1zM423 277h1v1h-1zM424 278h1v1h-1zM425 279h1v1h-1zM426 280h1v1h-1zM427 281h1v1h-1zM428 282h1v1h-1zM429 283h1v1h-1zM430 284h1v1h-1zM431 285h1v1h-1zM432 286h1v1h-1zM433 287h1v1h-1zM434 288h1v1h-1zM435 289h1v1h-1zM436 290h1v2h-1zM437 292h1v1h-1zM438 293h1v1h-1zM439 294h1v1h-1zM440 295h1v1h-1zM441 296h1v1h-1zM442 297h1v1h-1zM443 298h1v1h-1zM444 299h1v1h-1zM445 300h1v1h-1zM446 301h1v1h-1zM447 302h1v1h-1zM448 303h1v1h-1zM449 304h1v1h-1zM450 305h1v1h-1zM451 306h1v1h-1zM452 307h1v1h-1zM453 308h1v1h-1zM454 309h1v1h-1zM455 310h1v1h-1zM456 311h1v1h-1zM457 312h1v2h-1zM458 314h1v1h-1zM459 315h1v1h-1zM460 316h1v1h-1zM461 317h1v1h-1zM462 318h1v1h-1zM463 319h1v1h-1zM464 320h1v1h-1zM465 321h1v1h-1zM466 322h1v1h-1zM467 323h1v1h-1zM468 324h1v1h-1zM469 325h1v1h-1zM470 326h1v1h-1zM471 327h1v1h-1zM472 328h1v1h-1zM473 329h1v1h-1zM474 330h1v1h-1zM475 331h1v1h-1zM476 332h1v1h-1zM477 333h1v1h-1zM478 334h1v1h-1zM479 335h1v2h-1zM480 337h1v1h-1zM481 338h1v1h-1zM482 339h1v1h-1zM483 340h1v1h-1zM484 341h1v1h-1zM485 342h1v1h-1zM486 343h1v1h-1zM487 344h1v1h-1zM488 345h1v1h-1zM489 346h1v1h-1zM490 347h1v1h-1zM491 348h1v1h-1zM492 349h1v1h-1zM493 350h1v1h-1zM494 351h1v1h-1zM495 352h1v1h-1zM496 353h1v1h-1zM497 354h1v1h-1zM498 355h1v1h-1zM499 356h1v1h-1zM500 357h1v1h-1zM501 358h1v2h-1zM502 360h1v1h-1zM503 361h1v1h-1zM504 362h1v1h-1zM505 363h1v1h-1zM506 364h1v1h-1zM507 365h1v1h-1zM508 366h1v1h-1zM509 367h1v1h-1zM510 368h1v1h-1zM511 369h1v1h-1zM512 370h1v1h-1zM513 371h1v1h-1zM514 372h1v1h-1zM515 373h1v1h-1zM516 374h1v1h-1zM517 375h1v1h-1zM518 376h1v1h-1zM519 377h1v1h-1zM520 378h1v1h-1zM521 379h1v1h-1zM522 380h1v1h-1zM523 381h1v2h-1zM524 383h1v1h-1zM525 384h1v1h-1zM526 385h1v1h-1zM527 386h1v1h-1zM528 387h1v1h-1zM529 388h1v1h-1zM530 389h1v1h-1zM531 390h1v1h-1zM532 391h1v1h-1zM533 392h1v1h-1zM534 393h1v1h-1zM535 394h1v1h-1zM536 395h1v1h-1zM537 396h1v1h-1zM538 397h1v1h-1zM539 398h1v1h-1zM540 399h1v1h-1zM541 400h1v1h-1zM542 401h1v1h-1zM543 402h1v1h-1zM544 403h1v1h-1zM545 404h1v2h-1zM546 406h1v1h-1zM547 407h1v1h-1zM548 408h1v1h-1zM549 409h1v1h-1zM550 410h1v1h-1zM551 411h1v1h-1zM552 412h1v1h-1zM553 413h1v1h-1zM554 414h1v1h-1zM555 415h1v1h-1zM556 416h1v1h-1zM557 417h1v1h-1zM558 418h1v1h-1zM559 419h1v1h-1zM560 420h1v1h-1zM561 421h1v1h-1zM562 422h1v1h-1zM563 423h1v1h-1zM564 424h1v1h-1zM565 425h1v1h-1zM566 426h1v1h-1zM567 427h1v2h-1zM568 429h1v1h-1zM569 430h1v1h-1zM570 431h1v1h-1zM571 432h1v1h-1zM572 433h1v1h-1zM573 434h1v1h-1zM574 435h1v1h-1zM575 436h1v1h-1zM576 437h1v1h-1zM577 438h1v1h-1zM578 439h1v1h-1zM579 440h1v1h-1zM580 441h1v1h-1zM581 442h1v1h-1zM582 443h1v1h-1zM583 444h1v1h-1zM584 445h1v1h-1zM585 446h1v1h-1zM586 447h1v1h-1zM587 448h1v1h-1zM588 449h1v1h-1zM589 450h1v2h-1zM590 452h1v1h-1zM591 453h1v1h-1zM592 454h1v1h-1zM593 455h1v1h-1zM594 456h1v1h-1zM595 457h1v1h-1zM596 458h1v1h-1zM597 459h1v1h-1zM598 460h1v1h-1zM599 461h1v1h-1zM600 462h1v1h-1zM601 463h1v1h-1zM602 464h1v1h-1zM603 465h1v1h-1zM604 466h1v1h-1zM605 467h1v1h-1zM606 468h1v1h-1zM607 469h1v1h-1zM608 470h1v1h-1zM609 471h1v1h-1zM610 472h1v1h-1zM611 473h1v2h-1zM612 475h1v1h-1zM613 476h1v1h-1zM614 477h1v1h-1zM615 478h1v1h-1zM616 479h1v1h-1zM617 480h1v1h-1zM618 481h1v1h-1zM619 482h1v1h-1zM620 483h1v1h-1zM621 484h1v1h-1zM622 485h1v1h-1zM623 486h1v1h-1zM624 487h1v1h-1zM625 488h1v1h-1zM626 489h1v1h-1zM627 490h1v1h-1zM628 491h1v1h-1zM629 492h1v1h-1zM630 493h1v1h-1zM631 494h1v1h-1zM632 495h1v1h-1zM633 496h1v2h-1zM634 498h1v1h-1zM635 499h1v1h-1zM636 500h1v1h-1zM637 501h1v1h-1zM638 502h1v1h-1zM639 503h1v1h-1zM640 504h1v1h-1zM641 505h1v1h-1zM642 506h1v1h-1zM643 507h1v1h-1zM644 508h1v1h-1zM645 509h1v1h-1zM646 510h1v1h-1zM647 511h1v1h-1zM648 512h1v1h-1zM649 513h1v1h-1zM650 514h1v1h-1zM651 515h1v1h-1zM652 516h1v1h-1zM653 517h1v1h-1zM654 518h1v1h-1zM655 519h1v2h-1zM656 521h1v1h-1zM657 522h1v1h-1zM658 523h1v1h-1zM659 524h1v1h-1zM660 525h1v1h-1zM661 526h1v1h-1zM662 527h1v1h-1zM663 528h1v1h-1zM664 529h1v1h-1zM665 530h1v1h-1zM666 531h1v1h-1z" fill="#0a64d8"/>
<path d="M434 459h2v1h-2zM436 460h2v1h-2zM438 461h2v1h-2zM440 462h2v1h-2zM442 463h2v1h-2zM444 464h2v1h-2zM446 465h2v1h-2zM448 466h2v1h-2zM450 467h2v1h-2zM452 468h2v1h-2zM454 469h2v1h-2zM456 470h2v1h-2zM458 471h2v1h-2zM460 472h2v1h-2zM462 473h1v1h-1zM463 474h2v1h-2zM465 475h2v1h-2zM467 476h2v1h-2zM469 477h2v1h-2zM471 478h2v1h-2zM473 479h2v1h-2zM475 480h2v1h-2zM477 481h2v1h-2zM479 482h2v1h-2zM481 483h2v1h-2zM483 484h2v1h-2zM485 485h2v1h-2zM487 486h2v1h-2zM489 487h1v1h-1zM490 488h2v1h-2zM492 489h2v1h-2zM494 490h2v1h-2zM496 491h2v1h-2zM498 492h2v1h-2zM500 493h2v1h-2zM502 494h2v1h-2zM504 495h2v1h-2zM506 496h2v1h-2zM508 497h2v1h-2zM510 498h2v1h-2zM512 499h2v1h-2zM514 500h2v1h-2zM516 501h1v1h-1zM517 502h2v1h-2zM519 503h2v1h-2zM521 504h2v1h-2zM523 505h2v1h-2zM525 506h2v1h-2zM527 507h2v1h-2zM529 508h2v1h-2zM531 509h2v1h-2zM533 510h2v1h-2zM535 511h2v1h-2zM537 512h2v1h-2zM539 513h2v1h-2zM541 514h2v1h-2zM543 515h1v1h-1zM544 516h2v1h-2zM546 517h2v1h-2zM548 518h2v1h-2zM550 519h2v1h-2zM552 520h2v1h-2zM554 521h2v1h-2zM556 522h2v1h-2zM558 523h2v1h-2zM560 524h2v1h-2zM562 525h2v1h-2zM564 526h2v1h-2zM566 527h2v1h-2zM568 528h2v1h-2zM570 529h1v1h-1zM571 530h2v1h-2zM573 531h2v1h-2zM575 532h2v1h-2zM577 533h2v1h-2zM579 534h2v1h-2zM581 535h2v1h-2zM583 536h2v1h-2zM585 537h2v1h-2zM587 538h2v1h-2zM589 539h2v1h-2zM591 540h2v1h-2zM593 541h2v1h-2zM595 542h2v1h-2zM597 543h1v1h-1zM598 544h1v1h-1z" fill="#0a64d8"/>
<path d="M942 31h3v4h-3zM945 32h3v4h-3zM948 33h4v4h-4zM952 34h3v4h-3zM955 35h3v4h-3zM958 36h3v4h-3zM961 37h3v4h-3zM964 38h3v4h-3zM967 39h4v4h-4zM971 40h3v4h-3zM974 41h3v4h-3zM977 42h3v4h-3zM980 43h3v4h-3zM983 44h3v4h-3zM986 45h4v4h-4zM990 46h3v4h-3zM993 47h3v4h-3zM996 48h3v4h-3zM999 49h3v4h-3zM1002 50h3v4h-3zM1005 51h4v4h-4zM1009 52h3v4h-3zM1012 53h3v4h-3zM1015 54h3v4h-3zM1018 55h3v4h-3zM1021 56h4v4h-4zM1025 57h3v4h-3zM1028 58h3v4h-3zM1031 59h3v4h-3zM1034 60h3v4h-3zM1037 61h3v4h-3zM1040 62h4v4h-4zM1044 63h3v4h-3zM1047 64h3v4h-3zM1050 65h3v4h-3zM1053 66h3v4h-3zM1056 67h3v4h-3zM1059 68h4v4h-4zM1063 69h3v4h-3zM1066 70h3v4h-3zM1069 71h3v4h-3zM1072 72h3v4h-3zM1075 73h3v4h-3zM1078 74h4v4h-4zM1082 75h3v4h-3zM1085 76h3v4h-3zM1088 77h3v4h-3zM1091 78h3v4h-3zM1094 79h4v4h-4zM1098 80h3v4h-3zM1101 81h3v4h-3zM1104 82h3v4h-3zM1107 83h3v4h-3zM1110 84h3v4h-3zM1113 85h4v4h-4zM1117 86h3v4h-3zM1120 87h3v4h-3zM1123 88h3v4h-3zM1126 89h3v4h-3zM1129 90h3v4h-3zM1132 91h4v4h-4zM1136 92h3v4h-3zM1139 93h3v4h-3zM1142 94h3v4h-3zM1145 95h3v4h-3zM1148 96h3v4h-3zM1151 97h4v4h-4zM1155 98h3v4h-3zM1158 99h3v4h-3zM1161 100h3v4h-3zM1164 101h3v4h-3zM1167 102h4v4h-4zM1171 103h3v4h-3zM1174 104h3v4h-3zM1177 105h3v4h-3zM1180 106h3v4h-3zM1183 107h3v4h-3zM1186 108h4v4h-4zM1190 109h3v4h-3zM1193 110h3v4h-3zM1196 111h3v4h-3zM1199 112h3v4h-3zM1202 113h3v4h-3zM1205 114h4v4h-4zM1209 115h3v4h-3zM1212 116h3v4h-3zM1215 117h3v4h-3zM1218 118h3v4h-3zM1221 119h3v4h-3zM1224 120h4v4h-4zM1228 121h3v4h-3zM1231 122h3v4h-3zM1234 123h3v4h-3zM1237 124h3v4h-3zM1240 125h4v4h-4zM1244 126h3v4h-3zM1247 127h3v4h-3zM1250 128h3v4h-3zM1253 129h3v4h-3zM1256 130h3v4h-3zM1259 131h4v4h-4zM1263 132h3v4h-3zM1266 133h3v4h-3zM1269 134h3v4h-3zM1272 135h3v4h-3zM1275 136h3v4h-3zM1278 137h4v4h-4zM1282 138h3v4h-3zM1285 139h3v4h-3zM1288 140h3v4h-3zM1291 141h3v4h-3zM1294 142h3v4h-3zM1297 143h4v4h-4zM1301 144h3v4h-3zM1304 145h3v4h-3zM1307 146h3v4h-3zM1310 147h3v4h-3zM1313 148h4v4h-4zM1317 149h3v4h-3zM1320 150h3v4h-3zM1323 151h3v4h-3zM1326 152h3v4h-3zM1329 153h3v4h-3zM1332 154h4v4h-4zM1336 155h3v4h-3zM1339 156h3v4h-3zM1342 157h3v4h-3zM1345 158h3v4h-3zM1348 159h3v4h-3zM1351 160h2v4h-2z" fill="#0066cc"/>
<rect x="10" y="59" width="1343" height="1" fill="#ff4500"/>
<rect x="10" y="113" width="1343" height="1" fill="#ff4500"/>
<rect x="10" y="228" width="1343" height="1" fill="#ff4500"/>
<rect x="10" y="348" width="1343" height="1" fill="#ff4500"/>
<rect x="10" y="378" width="1343" height="1" fill="#ff4500"/>
<rect x="10" y="523" width="1343" height="1" fill="#ff4500"/>
<text transform="scale(0.84,1)" x="16.90 25.79 31.35 38.45 45.59 52.78 59.95" y="56" font-family="'Liberation Sans','DejaVu Sans',sans-serif" font-size="11.43" fill="#ff4500" font-weight="normal" xml:space="preserve" stroke="#ff4500" stroke-width="0.15">1,26693</text>
<text transform="scale(0.84,1)" x="16.90 25.79 31.35 38.45 45.63 52.81 59.91" y="110" font-family="'Liberation Sans','DejaVu Sans',sans-serif" font-size="11.43" fill="#ff4500" font-weight="normal" xml:space="preserve" stroke="#ff4500" stroke-width="0.15">1,26247</text>
<text transform="scale(0.84,1)" x="16.90 25.79 31.35 38.50 45.66 52.62 59.76" y="225" font-family="'Liberation Sans','DejaVu Sans',sans-serif" font-size="11.43" fill="#ff4500" font-weight="normal" xml:space="preserve" stroke="#ff4500" stroke-width="0.15">1,25311</text>
<text transform="scale(0.84,1)" x="16.90 25.79 31.35 38.52 45.66 52.77 59.92" y="345" font-family="'Liberation Sans','DejaVu Sans',sans-serif" font-size="11.43" fill="#ff4500" font-weight="normal" xml:space="preserve" stroke="#ff4500" stroke-width="0.15">1,24329</text>
<text transform="scale(0.84,1)" x="16.90 25.79 31.35 38.52 45.63 52.77 59.88" y="375" font-family="'Liberation Sans','DejaVu Sans',sans-serif" font-size="11.43" fill="#ff4500" font-weight="normal" xml:space="preserve" stroke="#ff4500" stroke-width="0.15">1,24086</text>
<text transform="scale(0.84,1)" x="16.90 25.79 31.35 38.49 45.63 52.78 59.91" y="520" font-family="'Liberation Sans','DejaVu Sans',sans-serif" font-size="11.43" fill="#ff4500" font-weight="normal" xml:space="preserve" stroke="#ff4500" stroke-width="0.15">1,22897</text>
<rect x="1238" y="226" width="5" height="5" fill="#000"/>
<rect x="1238" y="228" width="5" height="1" fill="#00bcff"/>
<text transform="scale(0.74,1)" x="866.52 879.82 895.20 910.59 929.13 939.46 954.82 970.05 988.59 999.78 1015.18 1029.14 1043.85 1058.60 1074.10 1092.65 1103.83" y="102" font-family="'Liberation Sans','DejaVu Sans',sans-serif" font-size="18.90" fill="#000" font-weight="normal" xml:space="preserve" stroke="#000" stroke-width="0.4">ZONA RESISTENCAIA</text>
<text transform="scale(0.74,1)" x="1096.07 1109.39 1124.76 1140.15 1158.63 1169.88 1183.71 1199.33 1213.44 1228.49 1244.73 1258.70" y="372.8" font-family="'Liberation Sans','DejaVu Sans',sans-serif" font-size="18.60" fill="#000" font-weight="normal" xml:space="preserve" stroke="#000" stroke-width="0.4">ZONA SOPORTE</text>
<rect x="13" y="522" width="71" height="15" fill="#30a030"/>
<text transform="scale(0.8,1)" x="20.02 30.01 35.63 44.70 50.64 59.11 65.76 73.15 80.63 88.15 96.00" y="533" font-family="'Liberation Sans','DejaVu Sans',sans-serif" font-size="11.19" fill="#000" font-weight="normal" xml:space="preserve" stroke="#000" stroke-width="0.3">Sin órdenes</text>
</g>
<g clip-path="url(#cmacd)">
<rect x="12" y="643" width="1234" height="1" fill="#404040"/>
<path d="M12 709h1v2h-1zM13 711h1v1h-1zM14 712h1v1h-1zM15 713h1v1h-1zM15 713h1v1h-1zM16 714h1v1h-1zM17 715h1v1h-1zM18 716h1v2h-1zM18 717h1v1h-1zM19 718h1v1h-1zM19 718h4v1h-4zM23 719h2v1h-2zM24 719h4v1h-4zM28 720h3v1h-3zM30 720h2v1h-2zM31 721h3v1h-3zM34 722h2v1h-2zM35 722h1v1h-1zM36 723h1v1h-1zM37 724h1v1h-1zM38 725h2v1h-2zM39 725h1v1h-1zM39 726h9v1h-9zM47 726h3v1h-3zM49 726h1v1h-1zM50 725h5v1h-5zM54 725h2v1h-2zM55 725h1v1h-1zM56 724h4v1h-4zM59 724h2v1h-2zM61 725h2v1h-2zM62 725h3v1h-3zM64 726h2v1h-2zM66 727h2v1h-2zM67 728h2v1h-2zM68 728h1v1h-1zM69 727h2v1h-2zM71 726h2v1h-2zM72 725h3v1h-3zM74 725h1v1h-1zM75 724h3v1h-3zM78 723h3v1h-3zM80 723h1v1h-1zM81 722h1v1h-1zM81 722h1v1h-1zM82 721h2v1h-2zM83 721h1v1h-1z" fill="#f03c3c"/>
<path d="M83 721h1v1h-1zM84 720h1v1h-1zM85 719h1v1h-1zM86 718h2v1h-2zM88 717h1v1h-1zM89 716h1v1h-1zM89 716h1v1h-1zM90 715h2v1h-2zM91 715h1v1h-1zM92 714h2v1h-2zM94 713h1v1h-1zM94 713h2v1h-2zM96 714h2v1h-2zM98 715h2v1h-2zM99 715h1v1h-1zM100 716h1v1h-1zM100 716h4v1h-4zM104 717h3v1h-3zM106 717h7v1h-7zM112 717h1v1h-1zM113 716h4v1h-4zM116 716h1v1h-1zM117 715h2v1h-2zM118 715h4v1h-4zM122 714h3v1h-3zM124 714h2v1h-2zM126 713h3v1h-3zM128 713h4v1h-4zM131 713h1v1h-1zM132 712h4v1h-4zM135 712h1v1h-1zM136 711h2v1h-2zM138 710h2v1h-2zM140 709h2v1h-2zM147 701h1v1h-1zM146 702h1v2h-1zM145 704h1v1h-1zM144 705h1v1h-1zM143 706h1v1h-1zM142 707h1v2h-1zM141 709h1v1h-1zM153 694h1v1h-1zM152 695h1v1h-1zM151 696h1v1h-1zM150 697h1v2h-1zM149 699h1v1h-1zM148 700h1v1h-1zM147 701h1v1h-1zM153 694h1v1h-1zM154 693h1v1h-1zM154 693h1v1h-1zM155 692h1v1h-1zM156 691h1v1h-1zM157 690h1v1h-1zM158 689h1v1h-1zM159 688h1v1h-1zM159 688h1v1h-1zM160 687h3v1h-3zM162 686h2v1h-2zM163 686h3v1h-3zM166 687h3v1h-3zM168 687h2v1h-2zM169 687h1v1h-1zM170 688h5v1h-5zM175 689h1v1h-1zM175 689h5v1h-5zM180 690h2v1h-2zM181 690h2v1h-2zM182 690h5v1h-5zM187 691h2v1h-2zM188 691h3v1h-3zM190 691h6v1h-6zM197 689h1v1h-1zM196 690h1v1h-1zM195 691h1v1h-1zM201 684h1v1h-1zM200 685h1v1h-1zM199 686h1v1h-1zM198 687h1v2h-1zM197 689h1v1h-1zM201 684h1v1h-1zM202 683h1v1h-1zM203 682h1v1h-1zM204 681h1v1h-1zM209 676h1v1h-1zM208 677h1v1h-1zM207 678h1v1h-1zM206 679h1v1h-1zM205 680h1v1h-1zM204 681h1v1h-1zM213 671h1v1h-1zM212 672h1v1h-1zM211 673h1v2h-1zM210 675h1v1h-1zM209 676h1v1h-1zM217 667h1v1h-1zM216 668h1v1h-1zM215 669h1v1h-1zM214 670h1v2h-1zM217 667h1v1h-1zM218 666h1v1h-1zM219 665h1v1h-1zM220 664h1v1h-1zM221 663h1v1h-1zM222 662h1v1h-1zM223 661h1v1h-1zM224 660h1v1h-1zM231 651h1v1h-1zM230 652h1v2h-1zM229 654h1v1h-1zM228 655h1v1h-1zM227 656h1v1h-1zM226 657h1v1h-1zM225 658h1v2h-1zM224 660h1v1h-1zM232 650h2v1h-2zM234 649h2v1h-2zM236 648h2v1h-2zM237 648h1v1h-1zM238 647h1v1h-1zM238 647h2v1h-2zM240 646h2v1h-2zM242 645h2v1h-2zM243 645h3v1h-3zM245 645h7v1h-7zM251 645h1v1h-1zM252 646h1v1h-1zM252 646h2v1h-2zM254 647h2v1h-2zM256 648h1v1h-1zM256 648h2v1h-2zM258 649h2v1h-2zM259 649h1v1h-1zM260 650h2v1h-2zM262 651h2v1h-2zM264 652h1v1h-1zM264 652h2v1h-2zM265 652h1v1h-1zM266 653h2v1h-2zM268 654h2v1h-2zM270 655h1v1h-1zM270 655h2v1h-2z" fill="#1a82f0"/>
<path d="M271 655h2v1h-2zM273 656h4v1h-4zM277 657h1v1h-1zM277 657h4v1h-4zM280 658h4v1h-4zM284 659h1v1h-1zM284 659h2v1h-2zM286 660h2v1h-2zM288 661h2v1h-2zM289 661h1v1h-1zM290 662h3v1h-3zM292 663h4v1h-4zM296 664h2v1h-2zM297 664h9v1h-9zM305 664h7v1h-7zM312 663h1v1h-1zM311 664h1v1h-1z" fill="#f03c3c"/>
<path d="M312 663h1v1h-1zM312 663h1v1h-1zM313 662h1v1h-1zM314 661h1v1h-1zM315 660h1v1h-1zM315 660h2v1h-2zM317 659h2v1h-2zM319 658h1v1h-1zM319 658h9v1h-9zM327 658h1v1h-1zM328 659h3v1h-3zM331 660h1v1h-1zM331 660h10v1h-10zM340 660h1v1h-1z" fill="#1a82f0"/>
<path d="M340 660h1v1h-1zM341 661h1v2h-1zM342 663h1v1h-1zM343 664h1v1h-1zM343 664h1v1h-1zM344 665h1v1h-1zM345 666h1v1h-1zM346 667h1v1h-1zM347 668h1v1h-1zM347 668h2v1h-2zM349 669h1v1h-1zM349 669h1v1h-1zM350 670h2v1h-2zM352 671h1v1h-1zM353 672h1v1h-1zM353 672h3v1h-3zM356 673h2v1h-2zM357 673h2v1h-2zM359 674h2v1h-2zM360 674h3v1h-3zM363 675h3v1h-3zM366 676h1v1h-1zM366 676h3v1h-3zM368 676h1v1h-1zM369 677h2v1h-2zM371 678h2v1h-2zM373 679h2v1h-2zM375 680h1v1h-1zM375 680h2v1h-2zM377 681h2v1h-2zM378 681h1v1h-1zM379 682h2v1h-2zM381 683h1v1h-1zM381 683h1v1h-1zM382 684h2v1h-2zM384 685h2v1h-2zM385 685h1v1h-1zM386 686h6v1h-6zM392 687h2v1h-2zM393 687h2v1h-2zM394 687h2v1h-2zM396 688h3v1h-3zM399 689h2v1h-2zM400 689h2v1h-2zM402 690h2v1h-2zM403 690h2v1h-2zM405 691h2v1h-2zM407 692h1v1h-1zM407 692h7v1h-7zM413 692h3v1h-3zM415 692h1v1h-1zM416 693h1v1h-1zM417 694h2v1h-2zM419 695h2v1h-2zM420 695h1v2h-1zM421 697h1v2h-1zM421 698h3v1h-3zM423 698h1v1h-1zM424 699h2v1h-2zM426 700h2v1h-2zM427 701h2v1h-2zM429 702h1v1h-1zM430 703h1v1h-1zM430 703h1v1h-1zM431 704h1v1h-1zM432 705h1v1h-1zM433 706h1v1h-1zM433 706h1v1h-1zM434 707h1v1h-1zM435 708h2v1h-2zM437 709h1v1h-1zM438 710h1v1h-1zM439 711h1v1h-1zM439 711h1v1h-1zM440 712h1v1h-1zM440 712h2v1h-2zM442 713h1v1h-1zM443 714h1v1h-1zM444 715h2v1h-2zM445 715h1v1h-1zM446 716h2v1h-2zM448 717h1v1h-1zM448 717h2v1h-2zM450 718h2v1h-2zM451 718h1v1h-1zM452 719h3v1h-3zM455 720h3v1h-3zM457 720h1v1h-1zM458 721h2v1h-2zM459 721h9v1h-9zM467 721h2v1h-2zM468 721h2v1h-2zM470 720h2v1h-2zM472 719h2v1h-2zM474 718h2v1h-2zM476 717h1v1h-1zM476 717h1v1h-1z" fill="#f03c3c"/>
<path d="M476 717h1v1h-1zM477 716h1v1h-1zM478 715h1v1h-1zM479 714h2v1h-2zM481 713h1v1h-1zM482 712h1v1h-1zM483 711h1v1h-1zM484 710h1v1h-1zM490 703h1v1h-1zM489 704h1v1h-1zM488 705h1v2h-1zM487 707h1v1h-1zM486 708h1v1h-1zM485 709h1v1h-1zM484 710h1v1h-1zM490 703h1v1h-1zM491 702h2v1h-2zM493 701h1v1h-1zM493 701h1v1h-1zM494 700h2v1h-2zM496 699h2v1h-2zM498 698h1v1h-1zM498 698h4v1h-4zM502 697h2v1h-2zM503 697h2v1h-2zM505 698h4v1h-4zM509 699h1v1h-1zM509 699h4v1h-4zM512 699h7v1h-7zM518 699h5v1h-5zM522 699h6v1h-6zM527 699h2v1h-2zM529 698h5v1h-5zM533 698h2v1h-2zM534 698h7v1h-7zM540 698h2v1h-2zM542 699h2v1h-2zM543 699h5v1h-5zM547 699h5v1h-5zM552 698h2v1h-2zM553 698h2v1h-2zM555 697h2v1h-2zM557 696h2v1h-2zM558 696h3v1h-3zM561 695h2v1h-2zM562 695h2v1h-2zM563 695h4v1h-4zM567 696h3v1h-3zM569 696h3v1h-3zM571 697h1v1h-1z" fill="#1a82f0"/>
<path d="M571 697h4v1h-4zM575 698h3v1h-3zM578 698h1v1h-1z" fill="#f03c3c"/>
<path d="M584 690h1v1h-1zM583 691h1v1h-1zM582 692h1v1h-1zM581 693h1v2h-1zM580 695h1v1h-1zM579 696h1v1h-1zM578 697h1v2h-1zM591 677h1v1h-1zM590 678h1v2h-1zM589 680h1v2h-1zM588 682h1v2h-1zM587 684h1v1h-1zM586 685h1v2h-1zM585 687h1v2h-1zM584 689h1v2h-1zM591 677h1v1h-1zM592 676h1v1h-1zM593 675h1v1h-1zM594 674h1v1h-1zM595 673h1v1h-1zM596 672h1v1h-1zM597 671h1v1h-1zM598 670h2v1h-2zM599 669h1v1h-1zM600 668h1v1h-1zM606 660h1v1h-1zM605 661h1v1h-1zM604 662h1v2h-1zM603 664h1v1h-1zM602 665h1v2h-1zM601 667h1v1h-1zM600 668h1v1h-1zM610 654h1v1h-1zM609 655h1v2h-1zM608 657h1v1h-1zM607 658h1v2h-1zM606 660h1v1h-1zM615 649h1v1h-1zM614 650h1v1h-1zM613 651h1v1h-1zM612 652h1v1h-1zM611 653h1v1h-1zM610 654h1v1h-1zM621 643h1v1h-1zM620 644h1v1h-1zM619 645h1v1h-1zM618 646h1v1h-1zM617 647h1v1h-1zM616 648h1v1h-1zM615 649h1v1h-1zM621 643h1v1h-1zM622 642h1v1h-1zM623 641h2v1h-2zM625 640h2v1h-2zM626 640h7v1h-7zM632 640h5v1h-5zM636 640h2v1h-2zM638 641h2v1h-2zM639 641h1v1h-1zM640 640h5v1h-5zM644 640h1v1h-1zM645 639h3v1h-3zM647 639h2v1h-2zM649 638h4v1h-4zM653 637h1v1h-1zM653 637h3v1h-3zM655 637h1v1h-1zM656 636h4v1h-4zM660 635h2v1h-2zM661 635h2v1h-2zM663 634h2v1h-2zM665 633h2v1h-2zM667 632h2v1h-2zM668 632h1v1h-1zM669 631h1v1h-1zM669 631h3v1h-3zM672 630h2v1h-2zM674 629h1v1h-1zM677 623h1v2h-1zM676 625h1v2h-1zM675 627h1v2h-1zM674 629h1v1h-1zM679 620h1v1h-1zM678 621h1v2h-1zM677 623h1v1h-1zM685 613h1v1h-1zM684 614h1v1h-1zM683 615h1v1h-1zM682 616h1v2h-1zM681 618h1v1h-1zM680 619h1v1h-1zM679 620h1v1h-1zM685 613h1v1h-1zM686 612h1v1h-1zM687 611h1v1h-1zM687 611h2v1h-2zM689 610h1v1h-1zM690 609h1v1h-1zM691 608h2v1h-2zM693 607h1v1h-1zM693 607h1v1h-1zM694 606h1v1h-1zM695 605h1v1h-1zM695 605h2v1h-2zM697 604h1v1h-1zM698 603h1v1h-1zM699 602h2v1h-2zM700 602h1v1h-1zM701 601h2v1h-2zM703 600h1v1h-1zM703 600h2v1h-2zM705 599h2v1h-2zM707 598h2v1h-2zM708 598h1v1h-1zM709 597h1v1h-1zM710 596h1v1h-1zM711 595h1v1h-1zM711 595h2v1h-2zM713 594h1v1h-1zM714 593h1v1h-1zM714 593h1v1h-1zM715 592h1v1h-1zM716 591h1v1h-1zM717 590h1v1h-1zM718 589h1v1h-1zM719 588h1v1h-1zM719 588h1v1h-1zM720 587h1v1h-1zM721 586h1v1h-1zM721 586h2v1h-2zM723 585h3v1h-3zM726 584h2v1h-2zM727 584h3v1h-3zM729 584h2v1h-2zM731 583h4v1h-4zM734 583h2v1h-2zM735 583h1v1h-1zM736 584h2v1h-2zM737 584h1v2h-1zM738 586h1v2h-1zM739 588h1v2h-1zM740 590h1v1h-1zM741 591h1v2h-1zM742 593h1v2h-1z" fill="#1a82f0"/>
<path d="M742 594h1v1h-1zM742 594h1v1h-1zM743 595h1v1h-1zM743 595h1v2h-1zM744 597h1v2h-1zM745 599h1v1h-1zM746 600h1v2h-1zM747 602h1v2h-1zM748 604h1v1h-1zM748 604h1v2h-1zM749 606h1v2h-1zM750 608h1v1h-1zM751 609h1v2h-1zM752 611h1v2h-1zM753 613h1v1h-1zM753 613h1v2h-1zM754 615h1v1h-1zM754 615h1v1h-1zM755 616h2v1h-2zM757 617h2v1h-2zM759 618h2v1h-2zM761 619h1v1h-1zM761 619h2v1h-2zM762 619h1v1h-1zM763 620h1v1h-1zM764 621h1v1h-1zM765 622h2v1h-2zM767 623h1v1h-1zM768 624h1v1h-1zM769 625h2v1h-2zM770 626h3v1h-3zM773 627h2v1h-2zM775 628h1v1h-1zM776 629h2v1h-2zM778 630h1v1h-1zM778 630h3v1h-3zM780 630h1v1h-1zM781 631h4v1h-4zM785 632h3v1h-3zM788 633h1v1h-1zM788 633h3v1h-3zM790 633h7v1h-7zM796 633h1v1h-1zM797 632h1v1h-1zM798 631h2v1h-2zM800 630h2v1h-2zM802 629h1v1h-1zM802 629h1v1h-1zM803 628h2v1h-2zM805 627h1v1h-1zM806 626h2v1h-2zM808 625h1v1h-1zM809 624h1v1h-1zM809 624h1v1h-1z" fill="#f03c3c"/>
<path d="M809 624h4v1h-4zM813 623h5v1h-5zM817 622h2v1h-2zM819 621h1v1h-1zM820 620h1v1h-1zM820 620h1v1h-1zM821 619h2v1h-2zM823 618h1v1h-1zM823 618h3v1h-3zM826 617h3v1h-3zM828 617h9v1h-9zM836 617h3v1h-3zM838 616h3v1h-3zM841 615h3v1h-3zM844 614h1v1h-1zM844 614h2v1h-2zM846 613h1v1h-1zM847 612h2v1h-2zM849 611h2v1h-2zM850 610h2v1h-2zM852 609h1v1h-1zM853 608h1v1h-1zM854 607h2v1h-2zM856 606h1v1h-1zM857 605h1v1h-1zM862 599h1v1h-1zM861 600h1v1h-1zM860 601h1v2h-1zM859 603h1v1h-1zM858 604h1v1h-1zM857 605h1v1h-1zM862 599h1v1h-1zM863 598h1v1h-1zM864 597h1v1h-1zM864 597h1v1h-1zM865 596h1v1h-1zM866 595h1v1h-1zM867 594h1v1h-1zM868 593h2v1h-2zM869 592h2v1h-2zM871 591h1v1h-1zM872 590h2v1h-2zM873 589h2v1h-2zM875 588h2v1h-2zM877 587h2v1h-2zM879 586h2v1h-2zM880 586h3v1h-3zM883 585h1v1h-1zM883 585h4v1h-4zM886 585h8v1h-8zM893 585h2v1h-2zM894 585h3v1h-3zM897 586h3v1h-3zM899 586h1v1h-1zM900 587h2v1h-2zM902 588h1v1h-1zM902 588h1v1h-1zM903 589h2v1h-2zM905 590h1v1h-1zM905 590h3v1h-3zM908 589h3v1h-3zM911 588h2v1h-2zM912 588h3v1h-3zM915 587h6v1h-6zM920 586h3v1h-3zM922 585h3v1h-3zM925 584h2v1h-2zM926 584h1v1h-1zM927 585h3v1h-3zM930 586h2v1h-2zM931 587h4v1h-4zM935 588h4v1h-4zM939 589h2v1h-2zM940 589h1v1h-1z" fill="#1a82f0"/>
<path d="M940 589h1v1h-1zM941 590h1v1h-1zM942 591h2v1h-2zM944 592h1v1h-1zM945 593h1v1h-1zM946 594h2v1h-2zM947 595h2v1h-2zM949 596h2v1h-2zM950 596h1v1h-1zM951 597h2v1h-2zM953 598h2v1h-2zM955 599h1v1h-1zM956 600h2v1h-2zM958 601h2v1h-2zM959 601h1v1h-1zM960 602h1v1h-1zM960 602h1v1h-1zM961 603h1v2h-1zM962 605h1v1h-1zM963 606h1v1h-1zM964 607h1v1h-1zM965 608h1v1h-1zM966 609h1v2h-1zM967 610h1v2h-1zM968 612h1v1h-1zM968 612h1v1h-1zM969 613h1v1h-1zM970 614h1v1h-1zM971 615h1v1h-1zM972 616h1v1h-1zM973 617h1v1h-1zM974 618h1v2h-1zM975 619h1v2h-1zM976 621h1v1h-1zM977 622h1v1h-1zM978 623h1v1h-1zM978 623h1v1h-1zM979 624h1v2h-1zM980 626h1v1h-1zM981 627h1v1h-1zM982 628h1v2h-1zM982 629h1v1h-1zM983 630h1v1h-1zM984 631h1v2h-1zM985 633h1v1h-1zM986 634h1v2h-1zM987 636h1v1h-1zM988 637h1v2h-1zM989 639h1v1h-1zM989 639h1v1h-1zM990 640h1v2h-1zM991 641h1v2h-1zM992 643h1v2h-1zM993 645h1v1h-1zM994 646h1v2h-1zM995 648h1v1h-1zM996 649h1v2h-1zM997 651h1v1h-1zM997 651h1v1h-1zM998 652h1v1h-1zM999 653h1v1h-1zM1000 654h1v2h-1zM1001 656h1v1h-1zM1002 657h1v1h-1zM1003 658h1v1h-1zM1004 659h1v1h-1zM1005 660h1v1h-1zM1005 660h1v1h-1zM1006 661h1v1h-1zM1007 662h1v1h-1zM1007 662h1v1h-1zM1008 663h1v1h-1zM1009 664h2v1h-2zM1010 664h1v1h-1zM1011 665h2v1h-2zM1013 666h2v1h-2zM1015 667h1v1h-1zM1015 667h1v1h-1zM1016 666h1v1h-1zM1016 666h3v1h-3zM1019 665h3v1h-3zM1021 665h1v1h-1zM1022 664h3v1h-3zM1024 664h3v1h-3zM1027 663h3v1h-3zM1029 663h4v1h-4zM1033 662h2v1h-2zM1034 662h4v1h-4zM1037 662h6v1h-6zM1043 656h1v3h-1zM1042 659h1v4h-1zM1043 656h1v1h-1z" fill="#f03c3c"/>
<path d="M1047 642h1v4h-1zM1046 646h1v3h-1zM1045 649h1v4h-1zM1044 653h1v3h-1zM1043 656h1v1h-1zM1050 634h1v2h-1zM1049 636h1v3h-1zM1048 639h1v3h-1zM1047 642h1v1h-1zM1053 624h1v2h-1zM1052 626h1v3h-1zM1051 629h1v4h-1zM1050 633h1v2h-1zM1058 615h1v1h-1zM1057 616h1v2h-1zM1056 618h1v2h-1zM1055 620h1v2h-1zM1054 622h1v2h-1zM1053 624h1v1h-1zM1059 612h1v2h-1zM1058 614h1v2h-1zM1066 605h1v1h-1zM1065 606h1v1h-1zM1064 607h1v1h-1zM1063 608h1v1h-1zM1062 609h1v1h-1zM1061 610h1v1h-1zM1060 611h1v2h-1zM1066 605h1v1h-1zM1067 604h1v1h-1zM1068 603h1v1h-1zM1069 602h1v1h-1zM1070 601h1v1h-1zM1071 600h1v1h-1zM1072 599h1v1h-1zM1073 598h1v1h-1zM1074 597h2v1h-2zM1075 596h3v1h-3zM1078 595h2v1h-2zM1079 595h1v1h-1zM1080 594h2v1h-2zM1081 594h3v1h-3zM1084 595h1v1h-1zM1084 595h2v1h-2zM1085 595h1v1h-1zM1086 596h1v1h-1zM1087 597h2v1h-2zM1089 598h1v1h-1zM1090 599h1v1h-1zM1090 599h1v1h-1zM1091 600h1v1h-1zM1091 600h1v2h-1zM1092 602h1v1h-1zM1093 603h1v2h-1zM1094 605h1v1h-1zM1095 606h1v2h-1zM1096 607h1v2h-1zM1096 608h1v1h-1z" fill="#1a82f0"/>
<path d="M1096 608h1v1h-1zM1097 609h1v1h-1zM1098 610h1v2h-1zM1099 612h1v2h-1zM1099 613h2v1h-2zM1100 613h1v1h-1zM1101 614h1v1h-1zM1102 615h1v1h-1zM1103 616h1v1h-1zM1104 617h1v1h-1zM1105 618h1v1h-1zM1105 618h1v2h-1zM1106 620h1v2h-1zM1107 622h1v2h-1zM1108 624h1v2h-1zM1109 626h1v2h-1zM1109 627h1v1h-1zM1110 628h1v1h-1zM1111 629h1v2h-1zM1112 631h1v1h-1zM1113 632h1v1h-1zM1114 633h1v1h-1zM1115 634h1v2h-1zM1116 636h1v1h-1zM1116 636h1v1h-1zM1117 637h1v1h-1zM1118 638h1v2h-1zM1119 640h1v1h-1zM1120 641h1v2h-1zM1121 643h1v1h-1zM1122 644h1v1h-1zM1122 644h1v1h-1zM1123 645h1v1h-1zM1123 645h1v2h-1zM1124 647h1v1h-1zM1125 648h1v2h-1zM1126 650h1v2h-1zM1127 651h1v3h-1zM1128 654h1v1h-1zM1128 654h1v2h-1zM1129 656h1v2h-1zM1130 658h1v1h-1zM1130 658h1v1h-1zM1131 659h1v1h-1zM1132 660h1v1h-1zM1133 661h1v1h-1zM1134 662h1v1h-1zM1134 662h1v1h-1zM1135 663h1v1h-1zM1136 664h1v1h-1zM1136 664h2v1h-2zM1138 665h2v1h-2zM1140 666h2v1h-2zM1141 666h1v1h-1zM1142 667h2v1h-2zM1144 668h1v1h-1zM1144 668h3v1h-3zM1147 669h3v1h-3zM1149 669h2v1h-2zM1151 670h3v1h-3zM1154 671h1v1h-1zM1154 671h4v1h-4zM1157 671h9v1h-9zM1165 671h1v1h-1zM1166 670h1v1h-1zM1166 670h4v1h-4zM1170 669h3v1h-3zM1172 669h2v1h-2zM1173 669h1v1h-1zM1174 668h4v1h-4zM1177 668h3v1h-3zM1180 669h2v1h-2zM1181 669h4v1h-4zM1185 670h1v1h-1zM1185 670h3v1h-3zM1188 671h2v1h-2zM1189 671h2v1h-2zM1191 672h1v1h-1zM1191 672h3v1h-3zM1194 671h4v1h-4zM1197 671h1v1h-1zM1198 670h1v1h-1zM1199 669h2v1h-2zM1201 668h2v1h-2zM1203 667h2v1h-2zM1205 666h1v1h-1zM1205 666h1v1h-1z" fill="#f03c3c"/>
<path d="M1205 666h2v1h-2zM1207 665h3v1h-3zM1210 664h2v1h-2zM1211 664h3v1h-3zM1213 664h2v1h-2zM1215 663h3v1h-3zM1217 663h6v1h-6zM1222 663h3v1h-3zM1225 664h5v1h-5zM1229 664h2v1h-2zM1231 663h1v1h-1zM1231 663h5v1h-5zM1236 662h2v1h-2zM1237 662h3v1h-3zM1239 662h1v1h-1zM1240 661h3v1h-3zM1242 661h2v1h-2zM1244 660h3v1h-3z" fill="#1a82f0"/>
<path d="M12 688h1v1h-1zM13 689h1v1h-1zM14 690h1v1h-1zM15 691h1v1h-1zM15 691h2v1h-2zM17 692h1v1h-1zM18 693h1v1h-1zM18 693h1v1h-1zM19 694h1v1h-1zM19 694h1v1h-1zM20 695h2v1h-2zM22 696h1v1h-1zM23 697h1v1h-1zM24 698h1v1h-1zM24 698h2v1h-2zM26 699h1v1h-1zM27 700h2v1h-2zM29 701h1v1h-1zM30 702h1v1h-1zM30 702h2v1h-2zM31 703h2v1h-2zM33 704h2v1h-2zM35 705h1v1h-1zM35 705h2v1h-2zM37 706h2v1h-2zM39 707h1v1h-1zM39 707h1v1h-1zM39 707h1v1h-1zM40 708h2v1h-2zM42 709h1v1h-1zM43 710h2v1h-2zM45 711h2v1h-2zM47 712h1v1h-1zM47 712h2v1h-2zM49 713h1v1h-1zM49 713h3v1h-3zM52 714h3v1h-3zM54 714h2v1h-2zM55 714h1v1h-1zM56 715h2v1h-2zM58 716h2v1h-2zM59 716h2v1h-2zM61 717h2v1h-2zM62 717h2v1h-2zM64 718h1v1h-1zM64 718h2v1h-2zM66 719h2v1h-2zM67 719h2v1h-2zM68 719h3v1h-3zM71 720h2v1h-2zM72 720h3v1h-3zM74 720h4v1h-4zM78 721h3v1h-3zM80 721h2v1h-2zM81 721h3v1h-3zM83 721h1v1h-1z" fill="#f03c3c"/>
<path d="M83 721h1v1h-1zM84 720h6v1h-6zM89 720h1v1h-1zM90 719h2v1h-2zM91 719h4v1h-4zM94 719h2v1h-2zM96 718h4v1h-4zM99 718h2v1h-2zM100 718h5v1h-5zM105 717h2v1h-2zM106 717h3v1h-3zM109 718h4v1h-4zM112 718h5v1h-5zM116 718h3v1h-3zM118 718h1v1h-1zM119 717h6v1h-6zM124 717h2v1h-2zM126 716h3v1h-3zM128 716h4v1h-4zM131 716h1v1h-1zM132 715h4v1h-4zM135 715h4v1h-4zM139 714h3v1h-3zM141 714h2v1h-2zM143 713h2v1h-2zM145 712h3v1h-3zM147 712h1v1h-1zM148 711h1v1h-1zM149 710h2v1h-2zM151 709h3v1h-3zM153 708h2v1h-2zM154 708h1v1h-1zM155 707h2v1h-2zM157 706h2v1h-2zM159 705h1v1h-1zM159 705h1v1h-1zM160 704h2v1h-2zM162 703h1v1h-1zM162 703h2v1h-2zM163 703h1v1h-1zM164 702h2v1h-2zM166 701h3v1h-3zM168 700h2v1h-2zM169 700h2v1h-2zM171 699h4v1h-4zM175 698h1v1h-1zM175 698h3v1h-3zM178 697h4v1h-4zM181 696h2v1h-2zM182 696h4v1h-4zM186 695h3v1h-3zM188 695h3v1h-3zM190 695h1v1h-1zM191 694h5v1h-5zM195 694h3v1h-3zM197 693h3v1h-3zM200 692h2v1h-2zM201 692h2v1h-2zM203 691h2v1h-2zM204 691h2v1h-2zM206 690h2v1h-2zM208 689h2v1h-2zM209 689h1v1h-1zM210 688h2v1h-2zM212 687h3v1h-3zM214 686h1v1h-1zM215 685h1v1h-1zM216 684h2v1h-2zM217 684h1v1h-1zM218 683h1v1h-1zM219 682h2v1h-2zM221 681h1v1h-1zM222 680h2v1h-2zM224 679h1v1h-1zM224 679h1v1h-1zM225 678h2v1h-2zM227 677h1v1h-1zM228 676h2v1h-2zM230 675h2v1h-2zM232 674h1v1h-1zM237 668h1v2h-1zM236 670h1v1h-1zM235 671h1v1h-1zM234 672h1v1h-1zM233 673h1v1h-1zM232 674h1v1h-1zM237 668h2v1h-2zM238 668h1v1h-1zM239 667h1v1h-1zM240 666h2v1h-2zM242 665h2v1h-2zM243 664h3v1h-3zM245 663h2v1h-2zM247 662h2v1h-2zM249 661h2v1h-2zM251 660h1v1h-1zM251 660h2v1h-2zM252 660h1v1h-1zM253 659h2v1h-2zM255 658h2v1h-2zM256 658h2v1h-2zM258 657h2v1h-2zM259 657h3v1h-3zM262 656h3v1h-3zM264 656h2v1h-2zM265 656h6v1h-6zM270 656h2v1h-2z" fill="#1a82f0"/>
<path d="M271 656h7v1h-7zM277 656h4v1h-4zM280 656h2v1h-2zM282 657h3v1h-3zM284 657h6v1h-6zM289 657h1v1h-1zM290 658h3v1h-3zM292 658h4v1h-4zM296 659h2v1h-2zM297 659h6v1h-6zM303 660h3v1h-3zM305 660h6v1h-6zM311 661h1v1h-1zM311 661h2v1h-2z" fill="#f03c3c"/>
<path d="M312 661h1v1h-1zM312 661h2v1h-2zM314 660h2v1h-2zM315 660h5v1h-5zM319 660h9v1h-9zM327 660h5v1h-5zM331 660h10v1h-10zM340 660h1v1h-1z" fill="#1a82f0"/>
<path d="M340 660h4v1h-4zM343 660h1v1h-1zM344 661h4v1h-4zM347 661h3v1h-3zM349 662h4v1h-4zM353 663h1v1h-1zM353 663h3v1h-3zM356 664h2v1h-2zM357 664h2v1h-2zM359 665h2v1h-2zM360 665h1v1h-1zM361 666h3v1h-3zM364 667h2v1h-2zM366 668h1v1h-1zM366 668h3v1h-3zM368 668h1v1h-1zM369 669h4v1h-4zM373 670h3v1h-3zM375 670h2v1h-2zM377 671h2v1h-2zM378 671h2v1h-2zM380 672h2v1h-2zM381 672h2v1h-2zM383 673h3v1h-3zM385 673h1v1h-1zM386 674h2v1h-2zM388 675h2v1h-2zM390 676h2v1h-2zM392 677h2v1h-2zM393 677h1v1h-1zM394 678h1v1h-1zM394 678h3v1h-3zM397 679h3v1h-3zM400 680h1v1h-1zM400 680h3v1h-3zM403 681h1v1h-1zM403 681h4v1h-4zM407 682h1v1h-1zM407 682h3v1h-3zM410 683h4v1h-4zM413 683h1v1h-1zM414 684h2v1h-2zM415 684h1v1h-1zM416 685h3v1h-3zM419 686h2v1h-2zM420 686h1v1h-1zM421 687h1v1h-1zM421 687h2v1h-2zM423 688h1v1h-1zM423 688h2v1h-2zM425 689h3v1h-3zM427 690h3v1h-3zM430 691h1v1h-1zM430 691h2v1h-2zM432 692h2v1h-2zM433 692h1v1h-1zM434 693h2v1h-2zM436 694h2v1h-2zM438 695h2v1h-2zM439 695h1v1h-1zM440 696h1v1h-1zM440 696h1v1h-1zM441 697h2v1h-2zM443 698h1v1h-1zM444 699h2v1h-2zM445 699h1v1h-1zM446 700h1v1h-1zM447 701h2v1h-2zM448 701h1v1h-1zM449 702h2v1h-2zM451 703h1v1h-1zM451 703h2v1h-2zM453 704h2v1h-2zM455 705h2v1h-2zM457 706h1v1h-1zM457 706h2v1h-2zM459 707h1v1h-1zM459 707h2v1h-2zM461 708h2v1h-2zM463 709h3v1h-3zM466 710h2v1h-2zM467 710h1v1h-1zM468 711h1v1h-1zM468 711h6v1h-6zM474 712h3v1h-3zM476 712h1v1h-1z" fill="#f03c3c"/>
<path d="M476 712h9v1h-9zM484 712h1v1h-1zM485 711h3v1h-3zM488 710h3v1h-3zM490 710h1v1h-1zM491 709h3v1h-3zM493 709h1v1h-1zM494 708h3v1h-3zM497 707h2v1h-2zM498 707h3v1h-3zM501 706h3v1h-3zM503 706h1v1h-1zM504 705h4v1h-4zM508 704h2v1h-2zM509 704h3v1h-3zM512 703h1v1h-1zM512 703h6v1h-6zM518 702h1v1h-1zM518 702h5v1h-5zM522 702h6v1h-6zM527 702h1v1h-1zM528 701h6v1h-6zM533 701h2v1h-2zM534 701h7v1h-7zM540 701h4v1h-4zM543 701h3v1h-3zM546 700h2v1h-2zM547 700h7v1h-7zM553 700h2v1h-2zM555 699h4v1h-4zM558 699h2v1h-2zM560 698h3v1h-3zM562 698h2v1h-2zM563 698h5v1h-5zM568 697h2v1h-2zM569 697h3v1h-3zM571 697h1v1h-1z" fill="#1a82f0"/>
<path d="M571 697h5v1h-5zM576 698h2v1h-2zM577 698h1v1h-1zM578 697h1v1h-1z" fill="#f03c3c"/>
<path d="M578 697h5v1h-5zM583 696h2v1h-2zM584 696h2v1h-2zM586 695h2v1h-2zM588 694h2v1h-2zM590 693h2v1h-2zM591 693h1v1h-1zM592 692h1v1h-1zM593 691h2v1h-2zM595 690h1v1h-1zM596 689h1v1h-1zM597 688h2v1h-2zM599 687h1v1h-1zM599 687h1v1h-1zM600 686h1v1h-1zM600 686h2v1h-2zM602 685h1v1h-1zM603 684h2v1h-2zM605 683h1v1h-1zM606 682h1v1h-1zM606 682h1v1h-1zM607 681h1v1h-1zM608 680h1v1h-1zM609 679h1v1h-1zM610 678h1v1h-1zM610 678h2v1h-2zM612 677h1v1h-1zM613 676h1v1h-1zM614 675h1v1h-1zM615 674h1v1h-1zM615 674h1v1h-1zM616 673h1v1h-1zM617 672h1v1h-1zM618 671h1v1h-1zM619 670h1v1h-1zM620 669h1v1h-1zM621 668h1v1h-1zM621 668h1v1h-1zM622 667h1v1h-1zM623 666h1v1h-1zM624 665h1v1h-1zM625 664h2v1h-2zM626 663h2v1h-2zM628 662h1v1h-1zM629 661h2v1h-2zM631 660h1v1h-1zM632 659h1v1h-1zM632 659h2v1h-2zM634 658h1v1h-1zM635 657h2v1h-2zM636 657h1v1h-1zM637 656h2v1h-2zM639 655h1v1h-1zM639 655h2v1h-2zM641 654h1v1h-1zM642 653h3v1h-3zM644 652h3v1h-3zM647 651h1v1h-1zM647 651h2v1h-2zM649 650h3v1h-3zM652 649h2v1h-2zM653 649h2v1h-2zM655 648h1v1h-1zM655 648h3v1h-3zM658 647h3v1h-3zM661 646h1v1h-1zM661 646h3v1h-3zM664 645h2v1h-2zM666 644h2v1h-2zM668 643h1v1h-1zM668 643h2v1h-2zM669 643h1v1h-1zM670 642h2v1h-2zM672 641h2v1h-2zM674 640h1v1h-1zM674 640h2v1h-2zM676 639h2v1h-2zM677 639h1v1h-1zM678 638h1v1h-1zM679 637h1v1h-1zM679 637h2v1h-2zM681 636h1v1h-1zM682 635h1v1h-1zM683 634h2v1h-2zM685 633h1v1h-1zM685 633h1v1h-1zM686 632h1v1h-1zM687 631h1v1h-1zM687 631h2v1h-2zM689 630h1v1h-1zM690 629h2v1h-2zM692 628h2v1h-2zM693 627h2v1h-2zM695 626h1v1h-1zM695 626h1v1h-1zM696 625h2v1h-2zM698 624h1v1h-1zM699 623h2v1h-2zM700 622h2v1h-2zM702 621h1v1h-1zM703 620h1v1h-1zM703 620h2v1h-2zM705 619h2v1h-2zM707 618h2v1h-2zM708 617h2v1h-2zM710 616h2v1h-2zM711 616h1v1h-1zM712 615h1v1h-1zM713 614h1v1h-1zM714 613h1v1h-1zM714 613h1v1h-1zM715 612h2v1h-2zM717 611h1v1h-1zM718 610h1v1h-1zM719 609h1v1h-1zM719 609h1v1h-1zM720 608h1v1h-1zM721 607h1v1h-1zM721 607h1v1h-1zM722 606h2v1h-2zM724 605h1v1h-1zM725 604h1v1h-1zM726 603h1v1h-1zM727 602h1v1h-1zM727 602h1v1h-1zM728 601h2v1h-2zM729 601h1v1h-1zM730 600h3v1h-3zM733 599h2v1h-2zM734 599h1v1h-1zM735 598h1v1h-1zM735 598h3v1h-3zM737 598h3v1h-3zM740 597h3v1h-3z" fill="#1a82f0"/>
<path d="M742 597h1v1h-1zM742 597h2v1h-2zM743 597h2v1h-2zM745 598h2v1h-2zM747 599h2v1h-2zM748 599h1v1h-1zM749 600h2v1h-2zM751 601h3v1h-3zM753 602h2v1h-2zM754 602h2v1h-2zM756 603h2v1h-2zM758 604h2v1h-2zM760 605h2v1h-2zM761 605h1v1h-1zM762 606h1v1h-1zM762 606h1v1h-1zM763 607h2v1h-2zM765 608h2v1h-2zM767 609h1v1h-1zM768 610h2v1h-2zM770 611h1v1h-1zM770 611h2v1h-2zM772 612h2v1h-2zM774 613h2v1h-2zM776 614h2v1h-2zM778 615h1v1h-1zM778 615h2v1h-2zM780 616h1v1h-1zM780 616h2v1h-2zM782 617h2v1h-2zM784 618h2v1h-2zM786 619h3v1h-3zM788 619h1v1h-1zM789 620h2v1h-2zM790 620h1v1h-1zM791 621h3v1h-3zM794 622h2v1h-2zM796 623h1v1h-1zM796 623h7v1h-7zM802 623h2v1h-2zM804 624h6v1h-6zM809 624h1v1h-1z" fill="#f03c3c"/>
<path d="M809 624h9v1h-9zM817 624h2v1h-2zM819 623h2v1h-2zM820 623h4v1h-4zM823 623h3v1h-3zM826 622h3v1h-3zM828 622h5v1h-5zM833 621h4v1h-4zM836 621h3v1h-3zM838 621h2v1h-2zM840 620h5v1h-5zM844 620h2v1h-2zM846 619h5v1h-5zM850 619h1v1h-1zM851 618h2v1h-2zM853 617h2v1h-2zM855 616h2v1h-2zM857 615h1v1h-1zM857 615h2v1h-2zM859 614h2v1h-2zM861 613h2v1h-2zM862 613h1v1h-1zM863 612h2v1h-2zM864 612h1v1h-1zM865 611h1v1h-1zM866 610h2v1h-2zM868 609h2v1h-2zM869 608h2v1h-2zM871 607h2v1h-2zM873 606h1v1h-1zM873 606h1v1h-1zM874 605h2v1h-2zM876 604h2v1h-2zM878 603h2v1h-2zM880 602h1v1h-1zM880 602h2v1h-2zM882 601h2v1h-2zM883 601h1v1h-1zM884 600h2v1h-2zM886 599h1v1h-1zM886 599h2v1h-2zM888 598h3v1h-3zM891 597h3v1h-3zM893 596h2v1h-2zM894 596h3v1h-3zM897 595h3v1h-3zM899 595h2v1h-2zM901 594h2v1h-2zM902 594h4v1h-4zM905 593h5v1h-5zM910 592h3v1h-3zM912 592h3v1h-3zM915 591h5v1h-5zM920 590h1v1h-1zM920 590h3v1h-3zM922 590h5v1h-5zM926 590h3v1h-3zM929 589h3v1h-3zM931 589h10v1h-10zM940 589h1v1h-1z" fill="#1a82f0"/>
<path d="M940 589h4v1h-4zM944 590h4v1h-4zM947 590h2v1h-2zM949 591h2v1h-2zM950 591h3v1h-3zM953 592h4v1h-4zM957 593h3v1h-3zM959 593h2v1h-2zM960 593h1v1h-1zM961 594h2v1h-2zM963 595h2v1h-2zM965 596h2v1h-2zM966 597h3v1h-3zM968 597h1v1h-1zM969 598h1v1h-1zM970 599h1v1h-1zM971 600h1v1h-1zM972 601h2v1h-2zM974 602h1v1h-1zM974 602h1v1h-1zM975 603h1v1h-1zM976 604h1v1h-1zM977 605h2v1h-2zM978 605h1v1h-1zM979 606h1v1h-1zM980 607h1v1h-1zM981 608h1v1h-1zM982 609h1v1h-1zM982 609h2v1h-2zM984 610h1v1h-1zM985 611h1v1h-1zM986 612h1v1h-1zM987 613h1v1h-1zM988 614h2v1h-2zM989 614h1v1h-1zM990 615h1v1h-1zM991 616h1v1h-1zM991 616h1v1h-1zM992 617h1v1h-1zM993 618h1v1h-1zM994 619h2v1h-2zM996 620h1v1h-1zM997 621h1v1h-1zM997 621h1v1h-1zM998 622h1v1h-1zM999 623h1v1h-1zM1000 624h1v1h-1zM1001 625h1v1h-1zM1002 626h1v1h-1zM1003 627h1v1h-1zM1004 628h1v1h-1zM1005 629h1v1h-1zM1005 629h1v1h-1zM1006 630h1v1h-1zM1007 631h1v1h-1zM1007 631h1v1h-1zM1008 632h1v1h-1zM1009 633h1v2h-1zM1010 634h1v2h-1zM1011 636h1v1h-1zM1012 637h1v1h-1zM1013 638h1v1h-1zM1014 639h1v1h-1zM1015 640h1v1h-1zM1015 640h1v1h-1zM1016 641h1v2h-1zM1016 642h2v1h-2zM1018 643h2v1h-2zM1020 644h1v1h-1zM1021 645h1v1h-1zM1021 645h2v1h-2zM1023 646h1v1h-1zM1024 647h1v1h-1zM1024 647h2v1h-2zM1026 648h2v1h-2zM1028 649h2v1h-2zM1029 649h1v1h-1zM1030 650h2v1h-2zM1032 651h2v1h-2zM1034 652h1v1h-1zM1034 652h4v1h-4zM1037 652h1v1h-1zM1038 653h5v1h-5zM1042 654h2v1h-2zM1043 654h1v1h-1z" fill="#f03c3c"/>
<path d="M1043 654h2v1h-2zM1045 653h2v1h-2zM1047 652h1v1h-1zM1047 652h3v1h-3zM1050 651h1v1h-1zM1053 648h1v1h-1zM1052 649h1v1h-1zM1051 650h1v1h-1zM1050 651h1v1h-1zM1058 643h1v1h-1zM1057 644h1v1h-1zM1056 645h1v1h-1zM1055 646h1v1h-1zM1054 647h1v1h-1zM1053 648h1v1h-1zM1059 641h1v1h-1zM1058 642h1v2h-1zM1065 635h1v1h-1zM1064 636h1v1h-1zM1063 637h1v1h-1zM1062 638h1v1h-1zM1061 639h1v1h-1zM1060 640h1v1h-1zM1059 641h1v1h-1zM1074 626h1v1h-1zM1073 627h1v1h-1zM1072 628h1v1h-1zM1071 629h1v1h-1zM1070 630h1v1h-1zM1069 631h1v1h-1zM1068 632h1v1h-1zM1067 633h1v1h-1zM1066 634h1v2h-1zM1075 625h1v1h-1zM1076 624h1v1h-1zM1077 623h1v1h-1zM1078 622h1v1h-1zM1079 621h1v1h-1zM1079 621h1v1h-1zM1080 620h1v1h-1zM1081 619h1v1h-1zM1081 619h2v1h-2zM1083 618h1v1h-1zM1084 617h1v1h-1zM1084 617h2v1h-2zM1085 617h1v1h-1zM1086 616h2v1h-2zM1088 615h2v1h-2zM1090 614h1v1h-1zM1090 614h2v1h-2zM1091 614h3v1h-3zM1094 613h2v1h-2zM1095 613h2v1h-2zM1096 613h1v1h-1z" fill="#1a82f0"/>
<path d="M1096 613h4v1h-4zM1099 613h2v1h-2zM1100 613h2v1h-2zM1102 614h4v1h-4zM1105 614h1v1h-1zM1106 615h2v1h-2zM1108 616h2v1h-2zM1109 617h3v1h-3zM1112 618h2v1h-2zM1114 619h2v1h-2zM1116 620h1v1h-1zM1116 620h1v1h-1zM1117 621h2v1h-2zM1119 622h1v1h-1zM1120 623h1v1h-1zM1121 624h2v1h-2zM1122 624h1v1h-1zM1123 625h1v1h-1zM1123 625h1v1h-1zM1124 626h1v1h-1zM1125 627h1v1h-1zM1126 628h1v2h-1zM1127 629h1v2h-1zM1128 631h1v1h-1zM1128 631h1v1h-1zM1129 632h2v1h-2zM1130 633h2v1h-2zM1132 634h1v1h-1zM1133 635h1v1h-1zM1134 636h1v1h-1zM1134 637h2v1h-2zM1136 638h1v1h-1zM1136 638h1v1h-1zM1137 639h1v1h-1zM1138 640h1v1h-1zM1139 641h2v1h-2zM1141 642h1v1h-1zM1141 642h1v1h-1zM1142 643h1v1h-1zM1143 644h1v1h-1zM1144 645h1v1h-1zM1144 645h1v1h-1zM1145 646h1v1h-1zM1146 647h1v1h-1zM1147 648h2v1h-2zM1149 649h1v1h-1zM1149 649h1v1h-1zM1150 650h2v1h-2zM1152 651h1v1h-1zM1153 652h2v1h-2zM1154 652h1v1h-1zM1155 653h2v1h-2zM1157 654h1v1h-1zM1157 654h2v1h-2zM1159 655h2v1h-2zM1161 656h2v1h-2zM1163 657h2v1h-2zM1165 658h1v1h-1zM1165 658h2v1h-2zM1166 658h1v1h-1zM1167 659h4v1h-4zM1171 660h2v1h-2zM1172 660h2v1h-2zM1173 660h2v1h-2zM1175 661h3v1h-3zM1177 661h3v1h-3zM1180 662h2v1h-2zM1181 662h2v1h-2zM1183 663h3v1h-3zM1185 663h2v1h-2zM1187 664h3v1h-3zM1189 664h1v1h-1zM1190 665h2v1h-2zM1191 665h4v1h-4zM1195 666h3v1h-3zM1197 666h9v1h-9zM1205 666h1v1h-1z" fill="#f03c3c"/>
<path d="M1205 666h7v1h-7zM1211 666h3v1h-3zM1213 666h1v1h-1zM1214 665h4v1h-4zM1217 665h6v1h-6zM1222 665h8v1h-8zM1229 665h3v1h-3zM1231 665h1v1h-1zM1232 664h6v1h-6zM1237 664h2v1h-2zM1239 663h1v1h-1zM1239 663h4v1h-4zM1242 663h5v1h-5z" fill="#1a82f0"/>
</g>
<g clip-path="url(#crsi)">
<rect x="12" y="798" width="1234" height="1" fill="#404040"/>
<rect x="12" y="844" width="1234" height="1" fill="#404040"/>
<path d="M12 849h3v1h-3zM15 848h3v1h-3zM17 848h2v1h-2zM19 847h2v1h-2z" fill="#f03030"/>
<path d="M23 843h1v1h-1zM22 844h1v1h-1zM21 845h1v2h-1zM20 847h1v1h-1zM26 839h1v1h-1zM25 840h1v1h-1zM24 841h1v2h-1zM23 843h1v1h-1zM26 839h2v1h-2zM28 840h3v1h-3zM31 841h2v1h-2zM33 842h1v1h-1z" fill="#303030"/>
<path d="M33 842h2v1h-2zM35 843h2v1h-2zM36 843h1v1h-1zM37 844h2v1h-2zM39 845h1v1h-1z" fill="#f03030"/>
<path d="M39 845h2v1h-2zM41 844h1v1h-1zM42 843h1v1h-1zM42 843h1v1h-1zM43 842h1v1h-1zM44 841h2v1h-2zM46 840h1v1h-1zM46 840h2v1h-2zM48 839h3v1h-3zM50 839h5v1h-5zM54 839h3v1h-3zM57 840h3v1h-3z" fill="#303030"/>
<path d="M59 840h1v1h-1zM60 841h2v1h-2zM62 842h1v1h-1zM63 843h2v1h-2z" fill="#f03030"/>
<path d="M64 844h6v1h-6zM74 837h1v1h-1zM73 838h1v1h-1zM72 839h1v1h-1zM71 840h1v2h-1zM70 842h1v1h-1zM69 843h1v2h-1zM74 837h7v1h-7zM80 837h2v1h-2zM82 836h2v1h-2zM84 835h2v1h-2zM86 834h1v1h-1zM86 834h2v1h-2zM88 833h3v1h-3zM90 833h2v1h-2zM92 832h3v1h-3zM94 832h1v1h-1zM95 833h1v1h-1zM96 834h2v1h-2zM97 834h1v2h-1zM98 836h1v2h-1zM99 838h1v1h-1zM100 839h1v2h-1zM101 841h1v1h-1zM101 841h3v1h-3zM104 840h2v1h-2zM105 840h4v1h-4zM109 839h4v1h-4zM112 839h13v1h-13zM124 839h1v1h-1zM125 838h3v1h-3zM127 838h3v1h-3zM129 838h3v1h-3zM132 839h2v1h-2zM134 840h2v1h-2zM135 840h1v1h-1zM136 839h2v1h-2zM138 838h1v1h-1zM139 837h2v1h-2zM141 836h1v1h-1zM149 823h1v1h-1zM148 824h1v1h-1zM147 825h1v2h-1zM146 827h1v2h-1zM145 829h1v2h-1zM144 831h1v1h-1zM143 832h1v2h-1zM142 834h1v2h-1zM141 836h1v1h-1zM149 823h8v1h-8zM156 823h1v1h-1zM157 824h2v1h-2zM159 825h1v1h-1zM160 826h2v1h-2zM161 826h1v1h-1zM162 827h1v1h-1zM163 828h1v1h-1zM164 829h1v1h-1zM165 830h1v1h-1zM166 831h1v1h-1zM167 832h1v1h-1zM168 833h1v1h-1zM169 834h1v1h-1zM169 834h2v1h-2zM171 835h2v1h-2zM173 836h2v1h-2zM175 837h2v1h-2zM176 837h2v1h-2zM178 836h4v1h-4zM181 836h3v1h-3zM184 837h2v1h-2zM185 837h3v1h-3zM188 838h3v1h-3zM190 838h2v1h-2zM192 837h4v1h-4zM198 829h1v2h-1zM197 831h1v2h-1zM196 833h1v2h-1zM195 835h1v3h-1zM203 820h1v1h-1zM202 821h1v2h-1zM201 823h1v2h-1zM200 825h1v2h-1zM199 827h1v2h-1zM198 829h1v1h-1zM203 820h4v1h-4zM206 820h2v1h-2zM208 821h3v1h-3zM210 821h1v1h-1zM211 820h1v1h-1zM212 819h1v1h-1zM213 818h2v1h-2zM214 817h1v1h-1zM215 816h1v1h-1zM216 815h2v1h-2zM217 815h8v1h-8zM224 815h2v1h-2zM226 814h3v1h-3zM229 813h3v1h-3zM231 813h1v1h-1zM232 814h2v1h-2zM234 815h2v1h-2zM236 816h2v1h-2zM237 817h9v1h-9zM245 817h1v1h-1zM246 818h1v1h-1zM247 819h2v1h-2zM249 820h1v1h-1zM250 821h1v1h-1zM251 822h1v1h-1zM251 822h1v1h-1zM252 823h1v1h-1zM253 824h1v1h-1zM254 825h1v1h-1zM255 826h1v1h-1zM256 827h1v1h-1zM257 828h1v1h-1zM258 829h1v1h-1zM258 829h6v1h-6zM264 830h2v1h-2zM265 830h2v1h-2zM267 831h3v1h-3zM270 832h2v1h-2zM271 832h3v1h-3zM274 831h4v1h-4zM277 831h3v1h-3zM280 830h5v1h-5zM284 830h2v1h-2zM286 831h1v1h-1zM287 832h1v1h-1zM288 833h1v1h-1zM289 834h2v1h-2zM291 835h1v1h-1zM292 836h1v1h-1zM292 835h2v1h-2zM294 834h2v1h-2zM296 833h2v1h-2zM298 832h2v1h-2zM299 832h1v1h-1zM300 831h2v1h-2zM302 830h2v1h-2zM304 829h2v1h-2zM305 829h8v1h-8zM319 816h1v1h-1zM318 817h1v2h-1zM317 819h1v1h-1zM316 820h1v2h-1zM315 822h1v2h-1zM314 824h1v2h-1zM313 826h1v2h-1zM312 828h1v2h-1zM319 816h1v2h-1zM320 818h1v1h-1zM321 819h1v2h-1zM322 821h1v1h-1zM323 822h1v2h-1zM324 824h1v1h-1zM325 825h1v2h-1zM326 827h1v1h-1zM326 827h3v1h-3zM329 828h3v1h-3zM332 829h2v1h-2zM333 829h1v1h-1zM334 828h4v1h-4zM338 827h3v1h-3zM340 827h1v2h-1zM341 829h1v1h-1zM342 830h1v2h-1zM343 832h1v2h-1zM344 834h1v2h-1zM345 836h1v2h-1zM346 838h1v1h-1zM346 838h8v1h-8zM353 838h1v1h-1zM354 837h1v1h-1zM355 836h2v1h-2zM357 835h2v1h-2zM359 834h1v1h-1zM360 833h1v1h-1zM360 833h2v1h-2zM362 834h2v1h-2zM364 835h2v1h-2zM366 836h2v1h-2zM367 836h4v1h-4zM371 837h4v1h-4zM374 837h2v1h-2zM376 838h2v1h-2zM378 839h2v1h-2zM380 840h2v1h-2zM381 840h2v1h-2zM383 841h3v1h-3zM385 841h3v1h-3zM388 840h4v1h-4zM392 839h2v1h-2zM393 839h2v1h-2zM395 840h2v1h-2zM397 841h3v1h-3zM400 842h1v1h-1zM400 842h3v1h-3zM403 843h4v1h-4zM406 843h4v1h-4zM409 843h2v1h-2zM411 842h1v1h-1zM412 841h2v1h-2zM414 840h2v1h-2z" fill="#303030"/>
<path d="M415 840h1v1h-1zM416 841h1v1h-1zM417 842h1v1h-1zM418 843h1v1h-1zM418 843h1v1h-1zM419 844h1v1h-1zM420 845h1v1h-1zM421 846h1v1h-1zM422 847h1v1h-1zM422 847h2v1h-2zM424 848h4v1h-4zM428 849h1v1h-1zM428 849h2v1h-2zM430 850h2v1h-2zM432 851h2v1h-2zM434 852h3v1h-3zM436 852h1v1h-1zM437 853h4v1h-4zM441 854h1v1h-1zM441 854h9v1h-9zM449 854h1v1h-1zM450 853h4v1h-4zM454 852h3v1h-3zM456 852h9v1h-9zM464 852h3v1h-3zM467 853h2v1h-2z" fill="#f03030"/>
<path d="M475 841h1v1h-1zM474 842h1v2h-1zM473 844h1v2h-1zM472 846h1v2h-1zM471 848h1v2h-1zM470 850h1v1h-1zM469 851h1v2h-1zM468 853h1v1h-1zM475 841h1v1h-1zM476 840h2v1h-2zM478 839h1v1h-1zM479 838h2v1h-2zM481 837h2v1h-2zM490 828h1v1h-1zM489 829h1v1h-1zM488 830h1v1h-1zM487 831h1v1h-1zM486 832h1v1h-1zM485 833h1v1h-1zM484 834h1v1h-1zM483 835h1v1h-1zM482 836h1v2h-1zM490 828h1v1h-1zM491 829h1v1h-1zM492 830h2v1h-2zM494 831h1v1h-1zM495 832h1v1h-1zM496 833h2v1h-2zM498 834h1v1h-1zM499 835h2v1h-2zM501 836h1v1h-1zM501 836h1v1h-1zM502 837h1v1h-1zM503 838h2v1h-2zM505 839h1v1h-1zM506 840h1v1h-1zM507 841h2v1h-2zM509 842h1v1h-1zM510 843h1v1h-1zM510 843h2v1h-2zM512 842h3v1h-3zM515 841h2v1h-2zM516 841h10v1h-10zM525 841h2v1h-2zM527 842h3v1h-3zM530 843h2v1h-2zM531 843h2v1h-2zM533 842h5v1h-5z" fill="#303030"/>
<path d="M537 842h1v1h-1zM538 843h2v1h-2zM540 844h2v1h-2zM542 845h1v1h-1zM542 845h3v1h-3zM545 846h1v1h-1z" fill="#f03030"/>
<path d="M545 846h2v1h-2zM547 845h3v1h-3zM550 844h2v1h-2zM558 835h1v1h-1zM557 836h1v1h-1zM556 837h1v1h-1zM555 838h1v2h-1zM554 840h1v1h-1zM553 841h1v2h-1zM552 843h1v1h-1zM551 844h1v1h-1zM558 835h1v1h-1zM559 836h2v1h-2zM561 837h2v1h-2zM563 838h2v1h-2z" fill="#303030"/>
<path d="M564 838h1v1h-1zM565 839h1v1h-1zM566 840h1v1h-1zM567 841h1v1h-1zM568 842h1v1h-1zM569 843h1v1h-1zM570 844h1v2h-1zM570 845h9v1h-9z" fill="#f03030"/>
<path d="M585 818h1v1h-1zM584 819h1v4h-1zM583 823h1v4h-1zM582 827h1v3h-1zM581 830h1v4h-1zM580 834h1v4h-1zM579 838h1v3h-1zM578 841h1v5h-1zM585 818h1v1h-1zM586 817h2v1h-2zM588 816h2v1h-2zM590 815h2v1h-2zM592 814h1v1h-1zM592 814h1v1h-1zM593 815h2v1h-2zM595 816h1v1h-1zM596 817h1v1h-1zM597 818h2v1h-2zM599 819h1v1h-1zM599 819h1v1h-1zM600 818h2v1h-2zM602 817h2v1h-2zM604 816h1v1h-1zM604 816h2v1h-2zM606 815h1v1h-1zM607 814h2v1h-2zM609 813h2v1h-2zM611 812h1v1h-1zM611 812h9v1h-9zM619 812h1v1h-1zM620 811h5v1h-5zM624 811h3v1h-3zM626 811h1v1h-1zM627 812h1v2h-1zM628 814h1v1h-1zM629 815h1v2h-1zM630 817h1v2h-1zM631 819h1v1h-1zM632 820h1v2h-1zM633 822h1v1h-1zM633 822h3v1h-3zM636 823h3v1h-3zM639 824h1v1h-1zM639 824h1v1h-1zM640 823h2v1h-2zM642 822h1v1h-1zM643 821h2v1h-2zM644 821h1v1h-1zM645 820h2v1h-2zM647 819h2v1h-2zM649 818h2v1h-2zM651 817h2v1h-2zM652 817h9v1h-9zM660 817h1v1h-1zM661 816h2v1h-2zM663 815h2v1h-2zM665 814h2v1h-2zM666 814h1v1h-1zM667 813h2v1h-2zM669 812h2v1h-2zM671 811h2v1h-2zM673 810h2v1h-2zM679 801h1v2h-1zM678 803h1v1h-1zM677 804h1v2h-1zM676 806h1v1h-1zM675 807h1v2h-1zM674 809h1v2h-1zM680 801h3v1h-3zM683 800h3v1h-3zM685 800h2v1h-2zM687 801h3v1h-3zM690 802h2v1h-2zM692 803h2v1h-2zM693 803h3v1h-3zM696 802h3v1h-3zM699 801h2v1h-2zM700 801h2v1h-2zM702 802h4v1h-4zM706 803h2v1h-2z" fill="#303030"/>
<path d="M707 803h2v1h-2zM709 802h1v1h-1zM710 801h1v1h-1zM711 800h1v1h-1zM712 799h2v1h-2zM714 798h1v1h-1zM715 797h1v1h-1zM715 797h3v1h-3zM718 796h3v1h-3zM720 796h2v1h-2zM722 797h3v1h-3z" fill="#1a82f0"/>
<path d="M724 797h1v1h-1zM725 798h1v1h-1zM726 799h2v1h-2zM728 800h1v1h-1zM728 800h4v1h-4zM732 801h4v1h-4zM735 801h1v2h-1zM736 803h1v3h-1zM737 806h1v4h-1zM738 810h1v3h-1zM739 813h1v4h-1zM740 817h1v3h-1zM741 820h1v4h-1zM742 824h1v1h-1zM742 824h1v1h-1zM743 825h2v1h-2zM745 826h3v1h-3zM748 827h2v1h-2zM750 828h3v1h-3zM753 829h2v1h-2zM761 819h1v2h-1zM760 821h1v1h-1zM759 822h1v2h-1zM758 824h1v1h-1zM757 825h1v2h-1zM756 827h1v1h-1zM755 828h1v1h-1zM754 829h1v1h-1zM762 819h1v1h-1zM763 820h1v1h-1zM764 821h1v1h-1zM765 822h1v1h-1zM766 823h2v1h-2zM768 824h1v1h-1zM769 825h1v1h-1zM769 825h2v1h-2zM771 824h5v1h-5zM775 823h3v1h-3zM778 822h3v1h-3zM781 821h2v1h-2zM782 821h5v1h-5zM787 822h3v1h-3zM789 822h1v1h-1zM790 821h3v1h-3zM793 820h2v1h-2zM795 819h2v1h-2zM797 818h1v1h-1zM803 812h1v1h-1zM802 813h1v1h-1zM801 814h1v1h-1zM800 815h1v1h-1zM799 816h1v1h-1zM798 817h1v1h-1zM797 818h1v1h-1zM803 812h2v1h-2zM805 811h3v1h-3zM808 810h2v1h-2zM809 810h2v1h-2zM811 811h1v1h-1zM812 812h2v1h-2zM814 813h1v1h-1zM815 814h2v1h-2zM817 815h1v1h-1zM817 814h2v1h-2zM819 813h1v1h-1zM820 812h1v1h-1zM821 811h1v1h-1zM822 810h2v1h-2zM824 809h1v1h-1zM824 809h1v1h-1zM825 810h2v1h-2zM827 811h1v1h-1zM828 812h1v1h-1zM829 813h2v1h-2zM830 813h6v1h-6zM836 814h2v1h-2zM837 814h1v1h-1zM838 813h2v1h-2zM840 812h2v1h-2zM842 811h3v1h-3zM845 810h2v1h-2zM846 810h1v1h-1zM847 809h1v1h-1zM848 808h1v1h-1zM849 807h2v1h-2zM850 806h3v1h-3zM853 805h2v1h-2zM855 804h2v1h-2zM857 803h2v1h-2zM858 803h1v1h-1zM859 802h2v1h-2zM861 801h1v1h-1zM862 800h2v1h-2zM864 799h2v1h-2zM865 799h10v1h-10zM874 799h9v1h-9zM883 800h2v1h-2zM884 800h2v1h-2zM886 801h2v1h-2zM888 802h2v1h-2zM890 803h2v1h-2zM892 804h1v1h-1zM892 804h2v1h-2zM894 803h6v1h-6zM899 803h1v1h-1zM900 804h1v2h-1zM901 806h1v1h-1zM902 807h1v2h-1zM903 809h1v1h-1zM904 810h1v1h-1zM905 811h1v1h-1zM912 803h1v1h-1zM911 804h1v1h-1zM910 805h1v1h-1zM909 806h1v1h-1zM908 807h1v1h-1zM907 808h1v1h-1zM906 809h1v2h-1zM905 811h1v1h-1zM912 803h8v1h-8zM919 803h1v1h-1zM920 802h2v1h-2zM922 801h2v1h-2zM924 800h3v1h-3zM927 799h1v1h-1zM927 799h1v3h-1zM928 802h1v2h-1zM929 804h1v2h-1zM930 806h1v2h-1zM931 808h1v2h-1zM932 810h1v2h-1zM933 812h1v2h-1zM933 813h1v1h-1zM934 812h2v1h-2zM936 811h2v1h-2zM938 810h1v1h-1zM939 809h2v1h-2zM940 809h1v1h-1zM941 810h1v1h-1zM942 811h1v1h-1zM943 812h1v1h-1zM944 813h1v1h-1zM945 814h1v2h-1zM946 816h1v1h-1zM946 816h5v1h-5zM951 815h9v1h-9zM959 815h1v1h-1zM960 816h1v2h-1zM961 818h1v1h-1zM962 819h1v1h-1zM963 820h1v2h-1zM964 822h1v1h-1zM965 823h1v2h-1zM966 825h1v1h-1zM967 826h1v1h-1zM967 826h4v1h-4zM971 827h6v1h-6zM977 828h3v1h-3zM979 828h2v1h-2zM981 829h1v1h-1zM982 830h1v1h-1zM983 831h2v1h-2zM985 832h1v1h-1zM986 833h1v1h-1zM987 834h1v1h-1zM988 835h1v1h-1zM988 835h4v1h-4zM992 836h4v1h-4zM996 837h2v1h-2zM997 837h3v1h-3zM1000 838h3v1h-3zM1003 839h4v1h-4zM1007 840h1v1h-1zM1014 830h1v2h-1zM1013 832h1v1h-1zM1012 833h1v1h-1zM1011 834h1v2h-1zM1010 836h1v1h-1zM1009 837h1v1h-1zM1008 838h1v2h-1zM1007 840h1v1h-1zM1014 830h2v1h-2zM1016 829h1v1h-1zM1017 828h1v1h-1zM1018 827h1v1h-1zM1019 826h1v1h-1zM1020 825h1v1h-1zM1021 824h1v1h-1zM1021 824h2v1h-2zM1023 825h4v1h-4zM1027 826h2v1h-2zM1028 826h2v1h-2zM1030 825h4v1h-4zM1033 825h4v1h-4zM1036 825h3v1h-3zM1038 825h2v1h-2zM1040 826h2v1h-2zM1042 824h1v2h-1zM1041 826h1v1h-1zM1049 799h1v1h-1zM1048 800h1v4h-1zM1047 804h1v4h-1zM1046 808h1v4h-1zM1045 812h1v4h-1zM1044 816h1v4h-1zM1043 820h1v4h-1zM1042 824h1v1h-1zM1049 799h2v1h-2zM1051 798h2v1h-2zM1052 798h1v1h-1zM1053 799h2v1h-2zM1055 800h2v1h-2zM1057 801h1v1h-1zM1057 801h3v1h-3zM1060 802h4v1h-4zM1063 802h1v1h-1zM1064 803h4v1h-4zM1068 804h2v1h-2zM1069 804h2v1h-2zM1071 803h3v1h-3zM1074 802h2v1h-2zM1075 802h1v1h-1zM1076 803h1v1h-1zM1077 804h1v1h-1zM1078 805h1v1h-1zM1079 806h1v1h-1zM1080 807h1v2h-1zM1081 809h1v1h-1zM1082 810h1v1h-1zM1083 811h1v1h-1zM1084 812h1v1h-1zM1085 813h1v1h-1zM1086 814h1v1h-1zM1087 815h1v1h-1zM1088 816h2v1h-2zM1089 816h1v2h-1zM1090 818h1v1h-1zM1091 819h1v1h-1zM1092 820h1v1h-1zM1093 821h1v2h-1zM1094 823h1v1h-1zM1095 824h1v1h-1zM1095 824h2v1h-2zM1097 825h7v1h-7zM1103 825h1v1h-1zM1104 826h1v1h-1zM1105 827h1v1h-1zM1106 828h1v1h-1zM1107 829h2v1h-2zM1109 830h1v1h-1zM1110 831h1v1h-1zM1110 831h9v1h-9zM1118 831h1v1h-1zM1119 832h2v1h-2zM1121 833h2v1h-2zM1123 834h2v1h-2zM1125 835h2v1h-2zM1127 836h2v1h-2zM1129 837h2v1h-2zM1130 837h1v1h-1zM1131 836h2v1h-2zM1133 835h3v1h-3zM1136 834h1v1h-1zM1136 834h2v1h-2zM1138 833h2v1h-2zM1140 832h2v1h-2zM1142 831h2v1h-2zM1143 831h2v1h-2zM1145 830h4v1h-4zM1149 829h3v1h-3zM1151 829h4v1h-4zM1155 830h2v1h-2zM1156 830h4v1h-4zM1160 829h5v1h-5zM1164 829h1v1h-1zM1165 828h2v1h-2zM1167 827h2v1h-2zM1169 826h2v1h-2zM1171 825h1v1h-1zM1171 825h2v1h-2zM1173 826h2v1h-2zM1175 827h2v1h-2zM1177 828h3v1h-3zM1179 829h2v1h-2zM1181 830h2v1h-2zM1183 831h2v1h-2zM1185 832h1v1h-1zM1185 832h5v1h-5zM1190 833h3v1h-3zM1192 832h2v1h-2zM1194 831h1v1h-1zM1195 830h1v1h-1zM1196 829h1v1h-1zM1197 828h1v1h-1zM1198 827h1v1h-1zM1199 826h2v1h-2zM1200 826h1v1h-1zM1201 825h2v1h-2zM1203 824h2v1h-2zM1204 824h13v1h-13zM1216 824h2v1h-2zM1218 825h3v1h-3zM1220 825h1v1h-1zM1221 826h2v1h-2zM1223 827h1v1h-1zM1224 828h1v1h-1zM1225 829h1v1h-1zM1226 830h1v1h-1zM1226 830h1v1h-1zM1227 829h2v1h-2zM1229 828h2v1h-2zM1231 827h2v1h-2zM1232 827h9v1h-9zM1240 827h1v1h-1zM1241 826h1v1h-1zM1242 825h2v1h-2zM1244 824h2v1h-2z" fill="#303030"/>
<path d="M456 869h6v1h-6zM462 868h6v1h-6zM468 867h7v1h-7zM475 866h7v1h-7zM482 865h6v1h-6zM488 864h7v1h-7zM495 863h7v1h-7zM502 862h6v1h-6zM508 861h7v1h-7zM515 860h7v1h-7zM522 859h6v1h-6zM528 858h7v1h-7zM535 857h7v1h-7zM542 856h6v1h-6zM548 855h7v1h-7zM555 854h7v1h-7zM562 853h6v1h-6zM568 852h7v1h-7zM575 851h7v1h-7zM582 850h6v1h-6zM588 849h7v1h-7zM595 848h7v1h-7zM602 847h6v1h-6zM608 846h7v1h-7zM615 845h7v1h-7zM622 844h6v1h-6z" fill="#1a6fd8"/>
<path d="M721 782h14v1h-14zM735 783h20v1h-20zM755 784h20v1h-20zM775 785h20v1h-20zM795 786h20v1h-20zM815 787h19v1h-19zM834 788h20v1h-20zM854 789h20v1h-20zM874 790h20v1h-20zM894 791h20v1h-20zM914 792h20v1h-20zM934 793h20v1h-20zM954 794h20v1h-20zM974 795h20v1h-20zM994 796h19v1h-19zM1013 797h20v1h-20zM1033 798h20v1h-20zM1053 799h20v1h-20zM1073 800h20v1h-20zM1093 801h11v1h-11z" fill="#1a6fd8"/>
<text transform="scale(0.68,1)" x="1191.35 1208.62 1218.52 1231.39 1244.16 1261.45 1274.65 1284.30 1297.76 1312.88 1327.48 1337.38 1351.06 1363.78" y="782.8" font-family="'Liberation Sans','DejaVu Sans',sans-serif" font-size="17.01" fill="#000" font-weight="normal" xml:space="preserve" stroke="#000" stroke-width="0.4">DIVER. BAJISTA</text>
<text transform="scale(0.7,1)" x="771.48 779.26 787.81 796.40 804.77 813.54" y="888" font-family="'Liberation Sans','DejaVu Sans',sans-serif" font-size="14.00" fill="#202020" font-weight="normal" xml:space="preserve">Jun<tspan textLength="7.80" lengthAdjust="spacingAndGlyphs">-</tspan>12</text>
</g>
<rect x="1358" y="83" width="6" height="1" fill="#404040"/>
<rect x="1358" y="93" width="3" height="1" fill="#404040"/>
<rect x="1358" y="103" width="3" height="1" fill="#404040"/>
<rect x="1358" y="113" width="3" height="1" fill="#404040"/>
<rect x="1358" y="123" width="3" height="1" fill="#404040"/>
<rect x="1358" y="133" width="3" height="1" fill="#404040"/>
<rect x="1358" y="144" width="6" height="1" fill="#404040"/>
<rect x="1358" y="154" width="3" height="1" fill="#404040"/>
<rect x="1358" y="164" width="3" height="1" fill="#404040"/>
<rect x="1358" y="174" width="3" height="1" fill="#404040"/>
<rect x="1358" y="184" width="3" height="1" fill="#404040"/>
<rect x="1358" y="194" width="3" height="1" fill="#404040"/>
<rect x="1358" y="205" width="6" height="1" fill="#404040"/>
<rect x="1358" y="215" width="3" height="1" fill="#404040"/>
<rect x="1358" y="225" width="3" height="1" fill="#404040"/>
<rect x="1358" y="235" width="3" height="1" fill="#404040"/>
<rect x="1358" y="245" width="3" height="1" fill="#404040"/>
<rect x="1358" y="255" width="3" height="1" fill="#404040"/>
<rect x="1358" y="266" width="6" height="1" fill="#404040"/>
<rect x="1358" y="276" width="3" height="1" fill="#404040"/>
<rect x="1358" y="286" width="3" height="1" fill="#404040"/>
<rect x="1358" y="296" width="3" height="1" fill="#404040"/>
<rect x="1358" y="306" width="3" height="1" fill="#404040"/>
<rect x="1358" y="316" width="3" height="1" fill="#404040"/>
<rect x="1358" y="327" width="6" height="1" fill="#404040"/>
<rect x="1358" y="337" width="3" height="1" fill="#404040"/>
<rect x="1358" y="347" width="3" height="1" fill="#404040"/>
<rect x="1358" y="357" width="3" height="1" fill="#404040"/>
<rect x="1358" y="367" width="3" height="1" fill="#404040"/>
<rect x="1358" y="377" width="3" height="1" fill="#404040"/>
<rect x="1358" y="388" width="6" height="1" fill="#404040"/>
<rect x="1358" y="398" width="3" height="1" fill="#404040"/>
<rect x="1358" y="408" width="3" height="1" fill="#404040"/>
<rect x="1358" y="418" width="3" height="1" fill="#404040"/>
<rect x="1358" y="428" width="3" height="1" fill="#404040"/>
<rect x="1358" y="438" width="3" height="1" fill="#404040"/>
<rect x="1358" y="450" width="6" height="1" fill="#404040"/>
<rect x="1358" y="460" width="3" height="1" fill="#404040"/>
<rect x="1358" y="470" width="3" height="1" fill="#404040"/>
<rect x="1358" y="480" width="3" height="1" fill="#404040"/>
<rect x="1358" y="490" width="3" height="1" fill="#404040"/>
<rect x="1358" y="500" width="3" height="1" fill="#404040"/>
<rect x="1358" y="511" width="6" height="1" fill="#404040"/>
<rect x="1358" y="521" width="3" height="1" fill="#404040"/>
<rect x="1358" y="531" width="3" height="1" fill="#404040"/>
<rect x="1358" y="541" width="3" height="1" fill="#404040"/>
<rect x="1358" y="551" width="3" height="1" fill="#404040"/>
<rect x="1358" y="41" width="3" height="1" fill="#404040"/>
<rect x="1358" y="51" width="3" height="1" fill="#404040"/>
<rect x="1358" y="61" width="3" height="1" fill="#404040"/>
<rect x="1358" y="71" width="3" height="1" fill="#404040"/>
<text transform="scale(0.7,1)" x="1955.55 1966.30 1972.88 1981.41 1990.04" y="87.5" font-family="'Liberation Sans','DejaVu Sans',sans-serif" font-size="14.29" fill="#202020" font-weight="normal" xml:space="preserve">1,265</text>
<text transform="scale(0.7,1)" x="1955.55 1966.30 1972.88 1981.41" y="148.5" font-family="'Liberation Sans','DejaVu Sans',sans-serif" font-size="14.29" fill="#202020" font-weight="normal" xml:space="preserve">1,26</text>
<text transform="scale(0.7,1)" x="1955.55 1966.30 1972.88 1981.47 1990.04" y="209.5" font-family="'Liberation Sans','DejaVu Sans',sans-serif" font-size="14.29" fill="#202020" font-weight="normal" xml:space="preserve">1,255</text>
<text transform="scale(0.7,1)" x="1955.55 1966.30 1972.88 1981.50 1990.04" y="331.5" font-family="'Liberation Sans','DejaVu Sans',sans-serif" font-size="14.29" fill="#202020" font-weight="normal" xml:space="preserve">1,245</text>
<text transform="scale(0.7,1)" x="1955.55 1966.30 1972.88 1981.50" y="392.5" font-family="'Liberation Sans','DejaVu Sans',sans-serif" font-size="14.29" fill="#202020" font-weight="normal" xml:space="preserve">1,24</text>
<text transform="scale(0.7,1)" x="1955.55 1966.30 1972.88 1981.50 1990.04" y="454.5" font-family="'Liberation Sans','DejaVu Sans',sans-serif" font-size="14.29" fill="#202020" font-weight="normal" xml:space="preserve">1,235</text>
<text transform="scale(0.7,1)" x="1955.55 1966.30 1972.88 1981.50" y="515.5" font-family="'Liberation Sans','DejaVu Sans',sans-serif" font-size="14.29" fill="#202020" font-weight="normal" xml:space="preserve">1,23</text>
<rect x="1358" y="606" width="6" height="1" fill="#404040"/>
<rect x="1358" y="643" width="6" height="1" fill="#404040"/>
<rect x="1358" y="679" width="6" height="1" fill="#404040"/>
<rect x="1358" y="716" width="6" height="1" fill="#404040"/>
<rect x="1358" y="582" width="3" height="1" fill="#404040"/>
<rect x="1358" y="594" width="3" height="1" fill="#404040"/>
<rect x="1358" y="618" width="3" height="1" fill="#404040"/>
<rect x="1358" y="630" width="3" height="1" fill="#404040"/>
<rect x="1358" y="655" width="3" height="1" fill="#404040"/>
<rect x="1358" y="667" width="3" height="1" fill="#404040"/>
<rect x="1358" y="691" width="3" height="1" fill="#404040"/>
<rect x="1358" y="703" width="3" height="1" fill="#404040"/>
<rect x="1358" y="728" width="3" height="1" fill="#404040"/>
<rect x="1358" y="740" width="3" height="1" fill="#404040"/>
<text transform="scale(0.7,1)" x="1955.03 1965.59 1972.17 1980.74 1989.31" y="610.5" font-family="'Liberation Sans','DejaVu Sans',sans-serif" font-size="14.29" fill="#202020" font-weight="normal" xml:space="preserve">0,002</text>
<text transform="scale(0.7,1)" x="1954.63 1963.60 1974.16 1980.74 1989.31 1997.88" y="683.5" font-family="'Liberation Sans','DejaVu Sans',sans-serif" font-size="14.29" fill="#202020" font-weight="normal" xml:space="preserve"><tspan textLength="8.77" lengthAdjust="spacingAndGlyphs">-</tspan>0,002</text>
<text transform="scale(0.7,1)" x="1954.63 1963.60 1974.16 1980.74 1989.31 1997.93" y="720.5" font-family="'Liberation Sans','DejaVu Sans',sans-serif" font-size="14.29" fill="#202020" font-weight="normal" xml:space="preserve"><tspan textLength="8.77" lengthAdjust="spacingAndGlyphs">-</tspan>0,004</text>
<rect x="1358" y="764" width="6" height="1" fill="#404040"/>
<rect x="1358" y="787" width="6" height="1" fill="#404040"/>
<rect x="1358" y="810" width="6" height="1" fill="#404040"/>
<rect x="1358" y="833" width="6" height="1" fill="#404040"/>
<rect x="1358" y="856" width="6" height="1" fill="#404040"/>
<rect x="1358" y="879" width="6" height="1" fill="#404040"/>
<rect x="1358" y="775" width="3" height="1" fill="#404040"/>
<rect x="1358" y="798" width="3" height="1" fill="#404040"/>
<rect x="1358" y="821" width="3" height="1" fill="#404040"/>
<rect x="1358" y="844" width="3" height="1" fill="#404040"/>
<rect x="1358" y="867" width="3" height="1" fill="#404040"/>
<text transform="scale(0.7,1)" x="1955.83 1964.60 1973.17" y="768.5" font-family="'Liberation Sans','DejaVu Sans',sans-serif" font-size="14.29" fill="#202020" font-weight="normal" xml:space="preserve">100</text>
<text transform="scale(0.7,1)" x="1956.03 1964.60" y="791.5" font-family="'Liberation Sans','DejaVu Sans',sans-serif" font-size="14.29" fill="#202020" font-weight="normal" xml:space="preserve">80</text>
<text transform="scale(0.7,1)" x="1955.98 1964.60" y="814.5" font-family="'Liberation Sans','DejaVu Sans',sans-serif" font-size="14.29" fill="#202020" font-weight="normal" xml:space="preserve">60</text>
<text transform="scale(0.7,1)" x="1956.07 1964.60" y="837.5" font-family="'Liberation Sans','DejaVu Sans',sans-serif" font-size="14.29" fill="#202020" font-weight="normal" xml:space="preserve">40</text>
<text transform="scale(0.7,1)" x="1956.03 1964.60" y="860.5" font-family="'Liberation Sans','DejaVu Sans',sans-serif" font-size="14.29" fill="#202020" font-weight="normal" xml:space="preserve">20</text>
<text transform="scale(0.7,1)" x="1956.03" y="883.5" font-family="'Liberation Sans','DejaVu Sans',sans-serif" font-size="14.29" fill="#202020" font-weight="normal" xml:space="preserve">0</text>
<path d="M1366 262.5 L1359.5 262.5 M1362.5 259.5 L1359.5 262.5 L1362.5 265.5" stroke="#303030" stroke-width="1" fill="none" shape-rendering="auto"/>
<rect x="1367.5" y="254.5" width="47" height="16" fill="#33a6f6" stroke="#3a3a3a" stroke-width="1"/>
<text transform="scale(0.7,1)" x="1956.55 1967.30 1973.88 1982.47 1991.03 1999.64 2007.98" y="267" font-family="'Liberation Sans','DejaVu Sans',sans-serif" font-size="14.29" fill="#fff" font-weight="normal" xml:space="preserve">1,25031</text>
<path d="M1366 643.5 L1359.5 643.5 M1362.5 640.5 L1359.5 643.5 L1362.5 646.5" stroke="#303030" stroke-width="1" fill="none" shape-rendering="auto"/>
<rect x="1367.5" y="635.5" width="11" height="16" fill="#3c3c3c" stroke="#3a3a3a" stroke-width="1"/>
<text transform="scale(0.7,1)" x="1956.74" y="648" font-family="'Liberation Sans','DejaVu Sans',sans-serif" font-size="14.29" fill="#fff" font-weight="normal" xml:space="preserve">0</text>
<path d="M1366 660.5 L1359.5 660.5 M1362.5 657.5 L1359.5 660.5 L1362.5 663.5" stroke="#303030" stroke-width="1" fill="none" shape-rendering="auto"/>
<path d="M1366 662.5 L1359.5 662.5 M1362.5 659.5 L1359.5 662.5 L1362.5 665.5" stroke="#303030" stroke-width="1" fill="none" shape-rendering="auto"/>
<rect x="1367.5" y="655.5" width="53" height="16" fill="#33a6f6" stroke="#3a3a3a" stroke-width="1"/>
<rect x="1367.5" y="652.5" width="53" height="15" fill="#33a6f6" stroke="#3a3a3a" stroke-width="1"/>
<text transform="scale(0.7,1)" x="1956.34 1965.31 1975.87 1982.46 1991.03 1999.60 2008.17 2016.74" y="664" font-family="'Liberation Sans','DejaVu Sans',sans-serif" font-size="14.29" fill="#fff" font-weight="normal" xml:space="preserve"><tspan textLength="8.77" lengthAdjust="spacingAndGlyphs">-</tspan>0,00092</text>
<path d="M1366 798.5 L1359.5 798.5 M1362.5 795.5 L1359.5 798.5 L1362.5 801.5" stroke="#303030" stroke-width="1" fill="none" shape-rendering="auto"/>
<path d="M1366 823.5 L1359.5 823.5 M1362.5 820.5 L1359.5 823.5 L1362.5 826.5" stroke="#303030" stroke-width="1" fill="none" shape-rendering="auto"/>
<path d="M1366 844.5 L1359.5 844.5 M1362.5 841.5 L1359.5 844.5 L1362.5 847.5" stroke="#303030" stroke-width="1" fill="none" shape-rendering="auto"/>
<rect x="1367.5" y="790.5" width="17" height="16" fill="#3c3c3c" stroke="#3a3a3a" stroke-width="1"/>
<text transform="scale(0.7,1)" x="1956.73 1965.31" y="803" font-family="'Liberation Sans','DejaVu Sans',sans-serif" font-size="14.29" fill="#fff" font-weight="normal" xml:space="preserve">70</text>
<rect x="1367.5" y="815.5" width="47" height="16" fill="#33a6f6" stroke="#3a3a3a" stroke-width="1"/>
<text transform="scale(0.7,1)" x="1956.79 1965.32 1975.87 1982.46 1991.04 1999.64 2008.21" y="828" font-family="'Liberation Sans','DejaVu Sans',sans-serif" font-size="14.29" fill="#fff" font-weight="normal" xml:space="preserve">49,0533</text>
<rect x="1367.5" y="836.5" width="17" height="16" fill="#3c3c3c" stroke="#3a3a3a" stroke-width="1"/>
<text transform="scale(0.7,1)" x="1956.78 1965.31" y="849" font-family="'Liberation Sans','DejaVu Sans',sans-serif" font-size="14.29" fill="#fff" font-weight="normal" xml:space="preserve">30</text>
<rect x="537" y="882" width="1" height="19" fill="#303030"/>
<rect x="1049" y="882" width="1" height="19" fill="#303030"/>
<text transform="scale(0.7,1)" x="770.68 779.06 787.83 797.20 804.97 813.53 822.11 830.49 839.25" y="905.7" font-family="'Liberation Sans','DejaVu Sans',sans-serif" font-size="14.00" fill="#202020" font-weight="normal" xml:space="preserve">01<tspan textLength="7.80" lengthAdjust="spacingAndGlyphs">-</tspan>Jun<tspan textLength="7.80" lengthAdjust="spacingAndGlyphs">-</tspan>12</text>
<text transform="scale(0.7,1)" x="1501.63 1510.39 1518.97 1528.34 1536.12 1544.67 1553.26 1561.63 1570.39" y="905.7" font-family="'Liberation Sans','DejaVu Sans',sans-serif" font-size="14.00" fill="#202020" font-weight="normal" xml:space="preserve">10<tspan textLength="7.80" lengthAdjust="spacingAndGlyphs">-</tspan>Jun<tspan textLength="7.80" lengthAdjust="spacingAndGlyphs">-</tspan>12</text>
<rect x="1353.5" y="893.5" width="17" height="16" fill="#fbfbfb" stroke="#d2d8e0" stroke-width="1"/>
<rect x="1375.5" y="893.5" width="35" height="16" fill="#fbfbfb" stroke="#d2d8e0" stroke-width="1"/>
<rect x="1415.5" y="893.5" width="18" height="16" fill="#fbfbfb" stroke="#d2d8e0" stroke-width="1"/>
<path d="M1358 898.5 Q1360 896 1362.5 897.5 T1367.5 897" stroke="#e02818" stroke-width="2" fill="none" shape-rendering="auto"/>
<path d="M1358 901.5 Q1360.5 899 1363 900.5 T1367.5 900.5" stroke="#207028" stroke-width="1.8" fill="none" shape-rendering="auto"/>
<path d="M1362.5 902 L1365.2 905 L1364 905 L1364 906 L1361 906 L1361 905 L1359.8 905 Z" fill="#0a3cf0" shape-rendering="auto"/>
<rect x="1380" y="895" width="12" height="12" fill="#8a7ccf"/>
<rect x="1383" y="895" width="6" height="6" fill="#e2e2de"/>
<rect x="1384" y="904" width="4" height="3" fill="#dcdcd8"/>
<path d="M1399 901.5 L1402.5 901.5 M1402.5 898 L1402.5 905 M1403 899.5 L1406.5 899.5 L1406.5 903.5 L1403 903.5" stroke="#1a1a1a" stroke-width="1" fill="none"/>
<rect x="1418" y="896" width="12" height="11" fill="#000"/>
<path d="M1253.5 924 L1253.5 913.8 Q1253.5 912.5 1254.8 912.5 L1413.2 912.5 Q1414.5 912.5 1414.5 913.8 L1414.5 924" fill="url(#thumb)" stroke="#8a8a8a" stroke-width="1" shape-rendering="auto"/>
<rect x="1331" y="916" width="1" height="7" fill="#505050"/>
<rect x="1333" y="916" width="1" height="7" fill="#505050"/>
<rect x="1335" y="916" width="1" height="7" fill="#505050"/>
<path d="M1423.5 915.5 L1426.5 918.8 L1423.5 922 Z" fill="#202020" shape-rendering="auto"/>
<path d="M14 916 L10.5 919.5 L14 923 Z" fill="#202020" shape-rendering="auto"/>
</svg>
</body></html>
